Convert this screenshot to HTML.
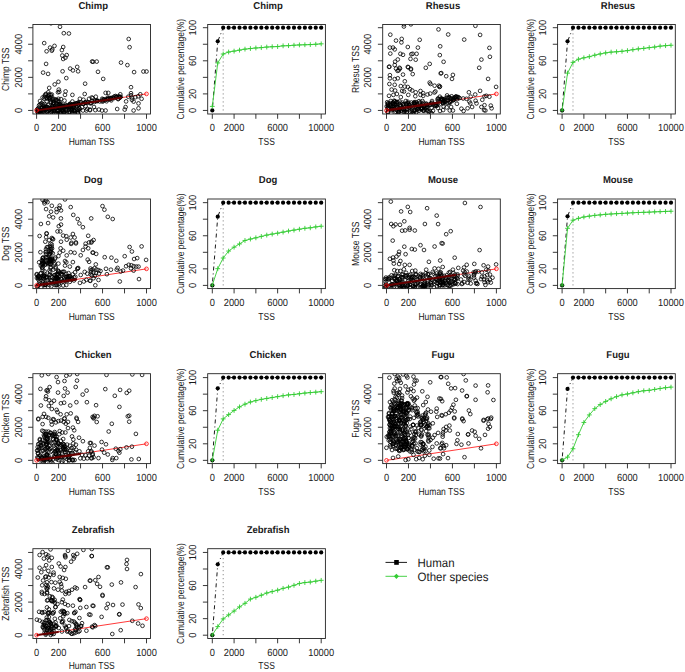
<!DOCTYPE html>
<html><head><meta charset="utf-8"><style>
html,body{margin:0;padding:0;background:#fff;width:685px;height:672px;overflow:hidden}
svg{display:block}
text{font-family:"Liberation Sans",sans-serif;fill:#1a1a1a;text-rendering:geometricPrecision}
</style></head><body>
<svg width="685" height="672" viewBox="0 0 685 672">
<rect width="685" height="672" fill="#fff"/>
<text x="0" y="0" transform="translate(93.20,8.70) scale(1,1.05)" font-size="9.5" text-anchor="middle" font-weight="bold">Chimp</text>
<clipPath id="cp0_0"><rect x="32.90" y="24.45" width="117.60" height="89.55"/></clipPath>
<line x1="36.60" y1="110.45" x2="146.50" y2="93.90" stroke="#f22" stroke-width="0.9"/>
<path clip-path="url(#cp0_0)" d="M52.85,23.30a1.85,1.85 0 1,0 -3.7,0a1.85,1.85 0 1,0 3.7,0M61.85,26.80a1.85,1.85 0 1,0 -3.7,0a1.85,1.85 0 1,0 3.7,0M65.65,33.20a1.85,1.85 0 1,0 -3.7,0a1.85,1.85 0 1,0 3.7,0M70.75,33.50a1.85,1.85 0 1,0 -3.7,0a1.85,1.85 0 1,0 3.7,0M46.05,43.10a1.85,1.85 0 1,0 -3.7,0a1.85,1.85 0 1,0 3.7,0M56.35,45.90a1.85,1.85 0 1,0 -3.7,0a1.85,1.85 0 1,0 3.7,0M51.95,47.60a1.85,1.85 0 1,0 -3.7,0a1.85,1.85 0 1,0 3.7,0M54.15,49.40a1.85,1.85 0 1,0 -3.7,0a1.85,1.85 0 1,0 3.7,0M53.65,50.70a1.85,1.85 0 1,0 -3.7,0a1.85,1.85 0 1,0 3.7,0M48.45,51.30a1.85,1.85 0 1,0 -3.7,0a1.85,1.85 0 1,0 3.7,0M65.05,47.00a1.85,1.85 0 1,0 -3.7,0a1.85,1.85 0 1,0 3.7,0M63.75,50.10a1.85,1.85 0 1,0 -3.7,0a1.85,1.85 0 1,0 3.7,0M64.15,55.50a1.85,1.85 0 1,0 -3.7,0a1.85,1.85 0 1,0 3.7,0M68.55,55.10a1.85,1.85 0 1,0 -3.7,0a1.85,1.85 0 1,0 3.7,0M67.25,57.70a1.85,1.85 0 1,0 -3.7,0a1.85,1.85 0 1,0 3.7,0M65.05,59.00a1.85,1.85 0 1,0 -3.7,0a1.85,1.85 0 1,0 3.7,0M47.95,63.90a1.85,1.85 0 1,0 -3.7,0a1.85,1.85 0 1,0 3.7,0M93.95,61.50a1.85,1.85 0 1,0 -3.7,0a1.85,1.85 0 1,0 3.7,0M130.55,39.00a1.85,1.85 0 1,0 -3.7,0a1.85,1.85 0 1,0 3.7,0M131.45,47.20a1.85,1.85 0 1,0 -3.7,0a1.85,1.85 0 1,0 3.7,0M94.95,61.80a1.85,1.85 0 1,0 -3.7,0a1.85,1.85 0 1,0 3.7,0M98.55,61.60a1.85,1.85 0 1,0 -3.7,0a1.85,1.85 0 1,0 3.7,0M122.85,62.60a1.85,1.85 0 1,0 -3.7,0a1.85,1.85 0 1,0 3.7,0M129.25,65.10a1.85,1.85 0 1,0 -3.7,0a1.85,1.85 0 1,0 3.7,0M44.95,72.60a1.85,1.85 0 1,0 -3.7,0a1.85,1.85 0 1,0 3.7,0M49.95,73.90a1.85,1.85 0 1,0 -3.7,0a1.85,1.85 0 1,0 3.7,0M64.45,71.30a1.85,1.85 0 1,0 -3.7,0a1.85,1.85 0 1,0 3.7,0M72.05,68.60a1.85,1.85 0 1,0 -3.7,0a1.85,1.85 0 1,0 3.7,0M74.75,70.40a1.85,1.85 0 1,0 -3.7,0a1.85,1.85 0 1,0 3.7,0M79.95,71.30a1.85,1.85 0 1,0 -3.7,0a1.85,1.85 0 1,0 3.7,0M79.05,66.90a1.85,1.85 0 1,0 -3.7,0a1.85,1.85 0 1,0 3.7,0M68.15,78.10a1.85,1.85 0 1,0 -3.7,0a1.85,1.85 0 1,0 3.7,0M60.25,81.80a1.85,1.85 0 1,0 -3.7,0a1.85,1.85 0 1,0 3.7,0M56.55,84.40a1.85,1.85 0 1,0 -3.7,0a1.85,1.85 0 1,0 3.7,0M86.95,83.70a1.85,1.85 0 1,0 -3.7,0a1.85,1.85 0 1,0 3.7,0M51.05,87.90a1.85,1.85 0 1,0 -3.7,0a1.85,1.85 0 1,0 3.7,0M60.65,89.60a1.85,1.85 0 1,0 -3.7,0a1.85,1.85 0 1,0 3.7,0M59.85,92.30a1.85,1.85 0 1,0 -3.7,0a1.85,1.85 0 1,0 3.7,0M61.15,91.80a1.85,1.85 0 1,0 -3.7,0a1.85,1.85 0 1,0 3.7,0M67.45,91.40a1.85,1.85 0 1,0 -3.7,0a1.85,1.85 0 1,0 3.7,0M66.85,94.90a1.85,1.85 0 1,0 -3.7,0a1.85,1.85 0 1,0 3.7,0M74.25,94.90a1.85,1.85 0 1,0 -3.7,0a1.85,1.85 0 1,0 3.7,0M86.55,94.00a1.85,1.85 0 1,0 -3.7,0a1.85,1.85 0 1,0 3.7,0M50.15,92.30a1.85,1.85 0 1,0 -3.7,0a1.85,1.85 0 1,0 3.7,0M53.65,94.50a1.85,1.85 0 1,0 -3.7,0a1.85,1.85 0 1,0 3.7,0M59.35,110.70a1.85,1.85 0 1,0 -3.7,0a1.85,1.85 0 1,0 3.7,0M63.75,110.70a1.85,1.85 0 1,0 -3.7,0a1.85,1.85 0 1,0 3.7,0M68.15,110.70a1.85,1.85 0 1,0 -3.7,0a1.85,1.85 0 1,0 3.7,0M73.35,110.70a1.85,1.85 0 1,0 -3.7,0a1.85,1.85 0 1,0 3.7,0M76.05,110.70a1.85,1.85 0 1,0 -3.7,0a1.85,1.85 0 1,0 3.7,0M84.85,110.50a1.85,1.85 0 1,0 -3.7,0a1.85,1.85 0 1,0 3.7,0M88.25,110.50a1.85,1.85 0 1,0 -3.7,0a1.85,1.85 0 1,0 3.7,0M91.85,110.20a1.85,1.85 0 1,0 -3.7,0a1.85,1.85 0 1,0 3.7,0M44.45,97.50a1.85,1.85 0 1,0 -3.7,0a1.85,1.85 0 1,0 3.7,0M41.85,101.00a1.85,1.85 0 1,0 -3.7,0a1.85,1.85 0 1,0 3.7,0M41.85,104.50a1.85,1.85 0 1,0 -3.7,0a1.85,1.85 0 1,0 3.7,0M44.95,104.50a1.85,1.85 0 1,0 -3.7,0a1.85,1.85 0 1,0 3.7,0M60.25,98.80a1.85,1.85 0 1,0 -3.7,0a1.85,1.85 0 1,0 3.7,0M62.85,99.10a1.85,1.85 0 1,0 -3.7,0a1.85,1.85 0 1,0 3.7,0M66.35,100.60a1.85,1.85 0 1,0 -3.7,0a1.85,1.85 0 1,0 3.7,0M61.15,101.90a1.85,1.85 0 1,0 -3.7,0a1.85,1.85 0 1,0 3.7,0M62.85,103.70a1.85,1.85 0 1,0 -3.7,0a1.85,1.85 0 1,0 3.7,0M55.45,98.80a1.85,1.85 0 1,0 -3.7,0a1.85,1.85 0 1,0 3.7,0M54.95,103.70a1.85,1.85 0 1,0 -3.7,0a1.85,1.85 0 1,0 3.7,0M74.25,101.50a1.85,1.85 0 1,0 -3.7,0a1.85,1.85 0 1,0 3.7,0M81.75,98.80a1.85,1.85 0 1,0 -3.7,0a1.85,1.85 0 1,0 3.7,0M85.25,99.70a1.85,1.85 0 1,0 -3.7,0a1.85,1.85 0 1,0 3.7,0M90.95,98.80a1.85,1.85 0 1,0 -3.7,0a1.85,1.85 0 1,0 3.7,0M93.55,97.50a1.85,1.85 0 1,0 -3.7,0a1.85,1.85 0 1,0 3.7,0M83.85,107.20a1.85,1.85 0 1,0 -3.7,0a1.85,1.85 0 1,0 3.7,0M87.45,106.30a1.85,1.85 0 1,0 -3.7,0a1.85,1.85 0 1,0 3.7,0M89.15,108.90a1.85,1.85 0 1,0 -3.7,0a1.85,1.85 0 1,0 3.7,0M99.85,71.80a1.85,1.85 0 1,0 -3.7,0a1.85,1.85 0 1,0 3.7,0M135.95,72.10a1.85,1.85 0 1,0 -3.7,0a1.85,1.85 0 1,0 3.7,0M145.25,71.50a1.85,1.85 0 1,0 -3.7,0a1.85,1.85 0 1,0 3.7,0M148.35,71.50a1.85,1.85 0 1,0 -3.7,0a1.85,1.85 0 1,0 3.7,0M105.05,78.90a1.85,1.85 0 1,0 -3.7,0a1.85,1.85 0 1,0 3.7,0M132.85,87.20a1.85,1.85 0 1,0 -3.7,0a1.85,1.85 0 1,0 3.7,0M107.45,92.90a1.85,1.85 0 1,0 -3.7,0a1.85,1.85 0 1,0 3.7,0M110.15,92.90a1.85,1.85 0 1,0 -3.7,0a1.85,1.85 0 1,0 3.7,0M122.15,94.30a1.85,1.85 0 1,0 -3.7,0a1.85,1.85 0 1,0 3.7,0M132.85,93.20a1.85,1.85 0 1,0 -3.7,0a1.85,1.85 0 1,0 3.7,0M132.85,95.20a1.85,1.85 0 1,0 -3.7,0a1.85,1.85 0 1,0 3.7,0M142.15,94.30a1.85,1.85 0 1,0 -3.7,0a1.85,1.85 0 1,0 3.7,0M127.95,101.40a1.85,1.85 0 1,0 -3.7,0a1.85,1.85 0 1,0 3.7,0M135.45,101.60a1.85,1.85 0 1,0 -3.7,0a1.85,1.85 0 1,0 3.7,0M140.35,103.40a1.85,1.85 0 1,0 -3.7,0a1.85,1.85 0 1,0 3.7,0M143.45,98.80a1.85,1.85 0 1,0 -3.7,0a1.85,1.85 0 1,0 3.7,0M140.35,108.30a1.85,1.85 0 1,0 -3.7,0a1.85,1.85 0 1,0 3.7,0M135.45,110.50a1.85,1.85 0 1,0 -3.7,0a1.85,1.85 0 1,0 3.7,0M119.05,109.00a1.85,1.85 0 1,0 -3.7,0a1.85,1.85 0 1,0 3.7,0M127.45,107.10a1.85,1.85 0 1,0 -3.7,0a1.85,1.85 0 1,0 3.7,0M126.55,109.60a1.85,1.85 0 1,0 -3.7,0a1.85,1.85 0 1,0 3.7,0M95.85,107.00a1.85,1.85 0 1,0 -3.7,0a1.85,1.85 0 1,0 3.7,0M97.15,110.10a1.85,1.85 0 1,0 -3.7,0a1.85,1.85 0 1,0 3.7,0M100.75,109.60a1.85,1.85 0 1,0 -3.7,0a1.85,1.85 0 1,0 3.7,0M103.85,110.50a1.85,1.85 0 1,0 -3.7,0a1.85,1.85 0 1,0 3.7,0M107.45,110.50a1.85,1.85 0 1,0 -3.7,0a1.85,1.85 0 1,0 3.7,0M91.85,109.60a1.85,1.85 0 1,0 -3.7,0a1.85,1.85 0 1,0 3.7,0M130.15,96.70a1.85,1.85 0 1,0 -3.7,0a1.85,1.85 0 1,0 3.7,0M133.75,97.60a1.85,1.85 0 1,0 -3.7,0a1.85,1.85 0 1,0 3.7,0M137.25,97.20a1.85,1.85 0 1,0 -3.7,0a1.85,1.85 0 1,0 3.7,0M139.95,96.30a1.85,1.85 0 1,0 -3.7,0a1.85,1.85 0 1,0 3.7,0M97.65,96.70a1.85,1.85 0 1,0 -3.7,0a1.85,1.85 0 1,0 3.7,0M94.55,98.10a1.85,1.85 0 1,0 -3.7,0a1.85,1.85 0 1,0 3.7,0M133.75,99.80a1.85,1.85 0 1,0 -3.7,0a1.85,1.85 0 1,0 3.7,0M56.41,103.48a1.85,1.85 0 1,0 -3.7,0a1.85,1.85 0 1,0 3.7,0M57.41,99.38a1.85,1.85 0 1,0 -3.7,0a1.85,1.85 0 1,0 3.7,0M47.83,93.92a1.85,1.85 0 1,0 -3.7,0a1.85,1.85 0 1,0 3.7,0M47.47,107.27a1.85,1.85 0 1,0 -3.7,0a1.85,1.85 0 1,0 3.7,0M43.26,104.66a1.85,1.85 0 1,0 -3.7,0a1.85,1.85 0 1,0 3.7,0M45.68,106.19a1.85,1.85 0 1,0 -3.7,0a1.85,1.85 0 1,0 3.7,0M43.73,108.34a1.85,1.85 0 1,0 -3.7,0a1.85,1.85 0 1,0 3.7,0M50.85,94.61a1.85,1.85 0 1,0 -3.7,0a1.85,1.85 0 1,0 3.7,0M61.15,104.11a1.85,1.85 0 1,0 -3.7,0a1.85,1.85 0 1,0 3.7,0M43.36,103.21a1.85,1.85 0 1,0 -3.7,0a1.85,1.85 0 1,0 3.7,0M58.69,104.23a1.85,1.85 0 1,0 -3.7,0a1.85,1.85 0 1,0 3.7,0M57.11,108.38a1.85,1.85 0 1,0 -3.7,0a1.85,1.85 0 1,0 3.7,0M57.93,105.56a1.85,1.85 0 1,0 -3.7,0a1.85,1.85 0 1,0 3.7,0M52.52,102.87a1.85,1.85 0 1,0 -3.7,0a1.85,1.85 0 1,0 3.7,0M48.51,106.87a1.85,1.85 0 1,0 -3.7,0a1.85,1.85 0 1,0 3.7,0M63.71,107.91a1.85,1.85 0 1,0 -3.7,0a1.85,1.85 0 1,0 3.7,0M40.90,105.34a1.85,1.85 0 1,0 -3.7,0a1.85,1.85 0 1,0 3.7,0M47.85,108.40a1.85,1.85 0 1,0 -3.7,0a1.85,1.85 0 1,0 3.7,0M57.23,108.07a1.85,1.85 0 1,0 -3.7,0a1.85,1.85 0 1,0 3.7,0M54.36,99.37a1.85,1.85 0 1,0 -3.7,0a1.85,1.85 0 1,0 3.7,0M62.41,104.92a1.85,1.85 0 1,0 -3.7,0a1.85,1.85 0 1,0 3.7,0M46.17,107.84a1.85,1.85 0 1,0 -3.7,0a1.85,1.85 0 1,0 3.7,0M55.79,101.00a1.85,1.85 0 1,0 -3.7,0a1.85,1.85 0 1,0 3.7,0M52.86,101.88a1.85,1.85 0 1,0 -3.7,0a1.85,1.85 0 1,0 3.7,0M53.15,107.87a1.85,1.85 0 1,0 -3.7,0a1.85,1.85 0 1,0 3.7,0M46.59,95.55a1.85,1.85 0 1,0 -3.7,0a1.85,1.85 0 1,0 3.7,0M52.66,94.99a1.85,1.85 0 1,0 -3.7,0a1.85,1.85 0 1,0 3.7,0M57.53,100.08a1.85,1.85 0 1,0 -3.7,0a1.85,1.85 0 1,0 3.7,0M50.90,97.59a1.85,1.85 0 1,0 -3.7,0a1.85,1.85 0 1,0 3.7,0M48.46,97.74a1.85,1.85 0 1,0 -3.7,0a1.85,1.85 0 1,0 3.7,0M58.72,100.17a1.85,1.85 0 1,0 -3.7,0a1.85,1.85 0 1,0 3.7,0M45.94,98.72a1.85,1.85 0 1,0 -3.7,0a1.85,1.85 0 1,0 3.7,0M65.73,107.76a1.85,1.85 0 1,0 -3.7,0a1.85,1.85 0 1,0 3.7,0M60.52,104.64a1.85,1.85 0 1,0 -3.7,0a1.85,1.85 0 1,0 3.7,0M46.52,97.16a1.85,1.85 0 1,0 -3.7,0a1.85,1.85 0 1,0 3.7,0M51.20,98.01a1.85,1.85 0 1,0 -3.7,0a1.85,1.85 0 1,0 3.7,0M54.77,102.61a1.85,1.85 0 1,0 -3.7,0a1.85,1.85 0 1,0 3.7,0M49.91,96.33a1.85,1.85 0 1,0 -3.7,0a1.85,1.85 0 1,0 3.7,0M53.40,97.38a1.85,1.85 0 1,0 -3.7,0a1.85,1.85 0 1,0 3.7,0M51.80,99.45a1.85,1.85 0 1,0 -3.7,0a1.85,1.85 0 1,0 3.7,0M47.32,94.65a1.85,1.85 0 1,0 -3.7,0a1.85,1.85 0 1,0 3.7,0M48.22,106.93a1.85,1.85 0 1,0 -3.7,0a1.85,1.85 0 1,0 3.7,0M57.37,107.48a1.85,1.85 0 1,0 -3.7,0a1.85,1.85 0 1,0 3.7,0M44.01,108.05a1.85,1.85 0 1,0 -3.7,0a1.85,1.85 0 1,0 3.7,0M55.52,102.67a1.85,1.85 0 1,0 -3.7,0a1.85,1.85 0 1,0 3.7,0M61.73,104.00a1.85,1.85 0 1,0 -3.7,0a1.85,1.85 0 1,0 3.7,0M51.94,98.24a1.85,1.85 0 1,0 -3.7,0a1.85,1.85 0 1,0 3.7,0M50.19,104.95a1.85,1.85 0 1,0 -3.7,0a1.85,1.85 0 1,0 3.7,0M48.61,101.38a1.85,1.85 0 1,0 -3.7,0a1.85,1.85 0 1,0 3.7,0M46.25,103.87a1.85,1.85 0 1,0 -3.7,0a1.85,1.85 0 1,0 3.7,0M49.55,107.59a1.85,1.85 0 1,0 -3.7,0a1.85,1.85 0 1,0 3.7,0M51.07,94.72a1.85,1.85 0 1,0 -3.7,0a1.85,1.85 0 1,0 3.7,0M54.19,106.18a1.85,1.85 0 1,0 -3.7,0a1.85,1.85 0 1,0 3.7,0M49.46,98.91a1.85,1.85 0 1,0 -3.7,0a1.85,1.85 0 1,0 3.7,0M59.70,100.76a1.85,1.85 0 1,0 -3.7,0a1.85,1.85 0 1,0 3.7,0M72.14,106.91a1.85,1.85 0 1,0 -3.7,0a1.85,1.85 0 1,0 3.7,0M60.94,110.40a1.85,1.85 0 1,0 -3.7,0a1.85,1.85 0 1,0 3.7,0M56.30,110.66a1.85,1.85 0 1,0 -3.7,0a1.85,1.85 0 1,0 3.7,0M62.71,113.24a1.85,1.85 0 1,0 -3.7,0a1.85,1.85 0 1,0 3.7,0M64.84,110.07a1.85,1.85 0 1,0 -3.7,0a1.85,1.85 0 1,0 3.7,0M65.48,112.58a1.85,1.85 0 1,0 -3.7,0a1.85,1.85 0 1,0 3.7,0M55.62,110.53a1.85,1.85 0 1,0 -3.7,0a1.85,1.85 0 1,0 3.7,0M54.03,110.55a1.85,1.85 0 1,0 -3.7,0a1.85,1.85 0 1,0 3.7,0M41.83,112.32a1.85,1.85 0 1,0 -3.7,0a1.85,1.85 0 1,0 3.7,0M70.74,106.72a1.85,1.85 0 1,0 -3.7,0a1.85,1.85 0 1,0 3.7,0M61.00,107.52a1.85,1.85 0 1,0 -3.7,0a1.85,1.85 0 1,0 3.7,0M68.22,109.55a1.85,1.85 0 1,0 -3.7,0a1.85,1.85 0 1,0 3.7,0M40.01,112.90a1.85,1.85 0 1,0 -3.7,0a1.85,1.85 0 1,0 3.7,0M39.57,110.65a1.85,1.85 0 1,0 -3.7,0a1.85,1.85 0 1,0 3.7,0M40.50,111.04a1.85,1.85 0 1,0 -3.7,0a1.85,1.85 0 1,0 3.7,0M79.63,112.93a1.85,1.85 0 1,0 -3.7,0a1.85,1.85 0 1,0 3.7,0M76.26,113.06a1.85,1.85 0 1,0 -3.7,0a1.85,1.85 0 1,0 3.7,0M79.64,109.21a1.85,1.85 0 1,0 -3.7,0a1.85,1.85 0 1,0 3.7,0M56.19,113.27a1.85,1.85 0 1,0 -3.7,0a1.85,1.85 0 1,0 3.7,0M80.23,113.22a1.85,1.85 0 1,0 -3.7,0a1.85,1.85 0 1,0 3.7,0M51.50,109.64a1.85,1.85 0 1,0 -3.7,0a1.85,1.85 0 1,0 3.7,0M64.37,111.58a1.85,1.85 0 1,0 -3.7,0a1.85,1.85 0 1,0 3.7,0M59.87,113.27a1.85,1.85 0 1,0 -3.7,0a1.85,1.85 0 1,0 3.7,0M39.44,112.08a1.85,1.85 0 1,0 -3.7,0a1.85,1.85 0 1,0 3.7,0M61.49,107.46a1.85,1.85 0 1,0 -3.7,0a1.85,1.85 0 1,0 3.7,0M58.49,113.08a1.85,1.85 0 1,0 -3.7,0a1.85,1.85 0 1,0 3.7,0M52.19,113.03a1.85,1.85 0 1,0 -3.7,0a1.85,1.85 0 1,0 3.7,0M80.68,110.02a1.85,1.85 0 1,0 -3.7,0a1.85,1.85 0 1,0 3.7,0M75.69,110.16a1.85,1.85 0 1,0 -3.7,0a1.85,1.85 0 1,0 3.7,0M73.10,110.30a1.85,1.85 0 1,0 -3.7,0a1.85,1.85 0 1,0 3.7,0M63.51,107.34a1.85,1.85 0 1,0 -3.7,0a1.85,1.85 0 1,0 3.7,0M71.31,106.83a1.85,1.85 0 1,0 -3.7,0a1.85,1.85 0 1,0 3.7,0M44.26,111.07a1.85,1.85 0 1,0 -3.7,0a1.85,1.85 0 1,0 3.7,0M75.60,107.00a1.85,1.85 0 1,0 -3.7,0a1.85,1.85 0 1,0 3.7,0M71.85,106.49a1.85,1.85 0 1,0 -3.7,0a1.85,1.85 0 1,0 3.7,0M71.93,108.46a1.85,1.85 0 1,0 -3.7,0a1.85,1.85 0 1,0 3.7,0M39.98,112.32a1.85,1.85 0 1,0 -3.7,0a1.85,1.85 0 1,0 3.7,0M60.79,107.66a1.85,1.85 0 1,0 -3.7,0a1.85,1.85 0 1,0 3.7,0M62.10,113.06a1.85,1.85 0 1,0 -3.7,0a1.85,1.85 0 1,0 3.7,0M64.11,108.25a1.85,1.85 0 1,0 -3.7,0a1.85,1.85 0 1,0 3.7,0M75.57,106.45a1.85,1.85 0 1,0 -3.7,0a1.85,1.85 0 1,0 3.7,0M60.32,110.99a1.85,1.85 0 1,0 -3.7,0a1.85,1.85 0 1,0 3.7,0M68.77,107.94a1.85,1.85 0 1,0 -3.7,0a1.85,1.85 0 1,0 3.7,0M69.35,106.92a1.85,1.85 0 1,0 -3.7,0a1.85,1.85 0 1,0 3.7,0M79.43,113.11a1.85,1.85 0 1,0 -3.7,0a1.85,1.85 0 1,0 3.7,0M53.55,110.90a1.85,1.85 0 1,0 -3.7,0a1.85,1.85 0 1,0 3.7,0M45.36,110.03a1.85,1.85 0 1,0 -3.7,0a1.85,1.85 0 1,0 3.7,0M79.30,109.28a1.85,1.85 0 1,0 -3.7,0a1.85,1.85 0 1,0 3.7,0M74.68,109.30a1.85,1.85 0 1,0 -3.7,0a1.85,1.85 0 1,0 3.7,0M70.80,111.94a1.85,1.85 0 1,0 -3.7,0a1.85,1.85 0 1,0 3.7,0M65.72,112.28a1.85,1.85 0 1,0 -3.7,0a1.85,1.85 0 1,0 3.7,0M58.21,113.47a1.85,1.85 0 1,0 -3.7,0a1.85,1.85 0 1,0 3.7,0M44.90,112.13a1.85,1.85 0 1,0 -3.7,0a1.85,1.85 0 1,0 3.7,0M79.71,111.28a1.85,1.85 0 1,0 -3.7,0a1.85,1.85 0 1,0 3.7,0M46.44,112.63a1.85,1.85 0 1,0 -3.7,0a1.85,1.85 0 1,0 3.7,0M51.31,109.90a1.85,1.85 0 1,0 -3.7,0a1.85,1.85 0 1,0 3.7,0M48.37,111.46a1.85,1.85 0 1,0 -3.7,0a1.85,1.85 0 1,0 3.7,0M53.62,112.32a1.85,1.85 0 1,0 -3.7,0a1.85,1.85 0 1,0 3.7,0M62.95,112.55a1.85,1.85 0 1,0 -3.7,0a1.85,1.85 0 1,0 3.7,0M41.05,111.88a1.85,1.85 0 1,0 -3.7,0a1.85,1.85 0 1,0 3.7,0M42.99,110.15a1.85,1.85 0 1,0 -3.7,0a1.85,1.85 0 1,0 3.7,0M76.85,104.86a1.85,1.85 0 1,0 -3.7,0a1.85,1.85 0 1,0 3.7,0M50.31,110.61a1.85,1.85 0 1,0 -3.7,0a1.85,1.85 0 1,0 3.7,0M74.14,113.15a1.85,1.85 0 1,0 -3.7,0a1.85,1.85 0 1,0 3.7,0M76.97,109.66a1.85,1.85 0 1,0 -3.7,0a1.85,1.85 0 1,0 3.7,0M49.68,110.55a1.85,1.85 0 1,0 -3.7,0a1.85,1.85 0 1,0 3.7,0M56.00,109.89a1.85,1.85 0 1,0 -3.7,0a1.85,1.85 0 1,0 3.7,0M53.17,112.28a1.85,1.85 0 1,0 -3.7,0a1.85,1.85 0 1,0 3.7,0M45.29,111.35a1.85,1.85 0 1,0 -3.7,0a1.85,1.85 0 1,0 3.7,0M70.95,110.23a1.85,1.85 0 1,0 -3.7,0a1.85,1.85 0 1,0 3.7,0M48.99,111.83a1.85,1.85 0 1,0 -3.7,0a1.85,1.85 0 1,0 3.7,0M65.21,111.63a1.85,1.85 0 1,0 -3.7,0a1.85,1.85 0 1,0 3.7,0M65.73,107.85a1.85,1.85 0 1,0 -3.7,0a1.85,1.85 0 1,0 3.7,0M40.09,112.90a1.85,1.85 0 1,0 -3.7,0a1.85,1.85 0 1,0 3.7,0M74.27,108.99a1.85,1.85 0 1,0 -3.7,0a1.85,1.85 0 1,0 3.7,0M61.15,112.60a1.85,1.85 0 1,0 -3.7,0a1.85,1.85 0 1,0 3.7,0M76.09,110.96a1.85,1.85 0 1,0 -3.7,0a1.85,1.85 0 1,0 3.7,0M80.74,104.35a1.85,1.85 0 1,0 -3.7,0a1.85,1.85 0 1,0 3.7,0M59.07,111.19a1.85,1.85 0 1,0 -3.7,0a1.85,1.85 0 1,0 3.7,0M71.83,112.47a1.85,1.85 0 1,0 -3.7,0a1.85,1.85 0 1,0 3.7,0M73.68,109.61a1.85,1.85 0 1,0 -3.7,0a1.85,1.85 0 1,0 3.7,0M68.53,112.32a1.85,1.85 0 1,0 -3.7,0a1.85,1.85 0 1,0 3.7,0M67.42,106.46a1.85,1.85 0 1,0 -3.7,0a1.85,1.85 0 1,0 3.7,0M81.49,108.72a1.85,1.85 0 1,0 -3.7,0a1.85,1.85 0 1,0 3.7,0M81.03,108.26a1.85,1.85 0 1,0 -3.7,0a1.85,1.85 0 1,0 3.7,0M75.35,106.76a1.85,1.85 0 1,0 -3.7,0a1.85,1.85 0 1,0 3.7,0M74.08,113.09a1.85,1.85 0 1,0 -3.7,0a1.85,1.85 0 1,0 3.7,0M74.97,106.98a1.85,1.85 0 1,0 -3.7,0a1.85,1.85 0 1,0 3.7,0M66.74,112.02a1.85,1.85 0 1,0 -3.7,0a1.85,1.85 0 1,0 3.7,0M61.97,108.87a1.85,1.85 0 1,0 -3.7,0a1.85,1.85 0 1,0 3.7,0M84.71,103.72a1.85,1.85 0 1,0 -3.7,0a1.85,1.85 0 1,0 3.7,0M54.15,108.48a1.85,1.85 0 1,0 -3.7,0a1.85,1.85 0 1,0 3.7,0M52.52,108.12a1.85,1.85 0 1,0 -3.7,0a1.85,1.85 0 1,0 3.7,0M71.99,103.82a1.85,1.85 0 1,0 -3.7,0a1.85,1.85 0 1,0 3.7,0M80.29,104.61a1.85,1.85 0 1,0 -3.7,0a1.85,1.85 0 1,0 3.7,0M62.99,106.29a1.85,1.85 0 1,0 -3.7,0a1.85,1.85 0 1,0 3.7,0M45.25,108.60a1.85,1.85 0 1,0 -3.7,0a1.85,1.85 0 1,0 3.7,0M92.22,103.34a1.85,1.85 0 1,0 -3.7,0a1.85,1.85 0 1,0 3.7,0M89.69,102.28a1.85,1.85 0 1,0 -3.7,0a1.85,1.85 0 1,0 3.7,0M65.04,106.95a1.85,1.85 0 1,0 -3.7,0a1.85,1.85 0 1,0 3.7,0M105.88,99.87a1.85,1.85 0 1,0 -3.7,0a1.85,1.85 0 1,0 3.7,0M113.16,100.38a1.85,1.85 0 1,0 -3.7,0a1.85,1.85 0 1,0 3.7,0M54.58,109.30a1.85,1.85 0 1,0 -3.7,0a1.85,1.85 0 1,0 3.7,0M66.16,106.58a1.85,1.85 0 1,0 -3.7,0a1.85,1.85 0 1,0 3.7,0M109.64,99.17a1.85,1.85 0 1,0 -3.7,0a1.85,1.85 0 1,0 3.7,0M86.63,102.39a1.85,1.85 0 1,0 -3.7,0a1.85,1.85 0 1,0 3.7,0M109.50,98.68a1.85,1.85 0 1,0 -3.7,0a1.85,1.85 0 1,0 3.7,0M104.34,101.61a1.85,1.85 0 1,0 -3.7,0a1.85,1.85 0 1,0 3.7,0M93.18,103.09a1.85,1.85 0 1,0 -3.7,0a1.85,1.85 0 1,0 3.7,0M62.77,105.66a1.85,1.85 0 1,0 -3.7,0a1.85,1.85 0 1,0 3.7,0M71.27,104.73a1.85,1.85 0 1,0 -3.7,0a1.85,1.85 0 1,0 3.7,0M121.77,97.47a1.85,1.85 0 1,0 -3.7,0a1.85,1.85 0 1,0 3.7,0M121.68,97.37a1.85,1.85 0 1,0 -3.7,0a1.85,1.85 0 1,0 3.7,0M92.64,102.83a1.85,1.85 0 1,0 -3.7,0a1.85,1.85 0 1,0 3.7,0M55.79,108.35a1.85,1.85 0 1,0 -3.7,0a1.85,1.85 0 1,0 3.7,0M116.22,96.44a1.85,1.85 0 1,0 -3.7,0a1.85,1.85 0 1,0 3.7,0M62.22,106.74a1.85,1.85 0 1,0 -3.7,0a1.85,1.85 0 1,0 3.7,0M73.33,105.04a1.85,1.85 0 1,0 -3.7,0a1.85,1.85 0 1,0 3.7,0M40.06,108.10a1.85,1.85 0 1,0 -3.7,0a1.85,1.85 0 1,0 3.7,0M105.84,99.32a1.85,1.85 0 1,0 -3.7,0a1.85,1.85 0 1,0 3.7,0M46.83,108.73a1.85,1.85 0 1,0 -3.7,0a1.85,1.85 0 1,0 3.7,0M44.00,110.37a1.85,1.85 0 1,0 -3.7,0a1.85,1.85 0 1,0 3.7,0M65.44,105.90a1.85,1.85 0 1,0 -3.7,0a1.85,1.85 0 1,0 3.7,0M118.00,96.94a1.85,1.85 0 1,0 -3.7,0a1.85,1.85 0 1,0 3.7,0M114.74,97.54a1.85,1.85 0 1,0 -3.7,0a1.85,1.85 0 1,0 3.7,0M42.14,111.18a1.85,1.85 0 1,0 -3.7,0a1.85,1.85 0 1,0 3.7,0M59.13,106.52a1.85,1.85 0 1,0 -3.7,0a1.85,1.85 0 1,0 3.7,0M82.66,102.47a1.85,1.85 0 1,0 -3.7,0a1.85,1.85 0 1,0 3.7,0M99.55,100.93a1.85,1.85 0 1,0 -3.7,0a1.85,1.85 0 1,0 3.7,0M40.93,110.93a1.85,1.85 0 1,0 -3.7,0a1.85,1.85 0 1,0 3.7,0M75.90,103.94a1.85,1.85 0 1,0 -3.7,0a1.85,1.85 0 1,0 3.7,0M71.36,106.61a1.85,1.85 0 1,0 -3.7,0a1.85,1.85 0 1,0 3.7,0M119.01,96.92a1.85,1.85 0 1,0 -3.7,0a1.85,1.85 0 1,0 3.7,0M116.02,98.08a1.85,1.85 0 1,0 -3.7,0a1.85,1.85 0 1,0 3.7,0M57.15,108.27a1.85,1.85 0 1,0 -3.7,0a1.85,1.85 0 1,0 3.7,0M120.12,98.80a1.85,1.85 0 1,0 -3.7,0a1.85,1.85 0 1,0 3.7,0M107.44,99.91a1.85,1.85 0 1,0 -3.7,0a1.85,1.85 0 1,0 3.7,0M64.67,106.45a1.85,1.85 0 1,0 -3.7,0a1.85,1.85 0 1,0 3.7,0M74.61,105.09a1.85,1.85 0 1,0 -3.7,0a1.85,1.85 0 1,0 3.7,0M122.61,96.73a1.85,1.85 0 1,0 -3.7,0a1.85,1.85 0 1,0 3.7,0M120.48,96.44a1.85,1.85 0 1,0 -3.7,0a1.85,1.85 0 1,0 3.7,0M120.82,96.80a1.85,1.85 0 1,0 -3.7,0a1.85,1.85 0 1,0 3.7,0M119.96,99.12a1.85,1.85 0 1,0 -3.7,0a1.85,1.85 0 1,0 3.7,0M81.18,102.20a1.85,1.85 0 1,0 -3.7,0a1.85,1.85 0 1,0 3.7,0M117.43,96.00a1.85,1.85 0 1,0 -3.7,0a1.85,1.85 0 1,0 3.7,0M71.14,105.30a1.85,1.85 0 1,0 -3.7,0a1.85,1.85 0 1,0 3.7,0M78.21,103.54a1.85,1.85 0 1,0 -3.7,0a1.85,1.85 0 1,0 3.7,0M112.95,99.03a1.85,1.85 0 1,0 -3.7,0a1.85,1.85 0 1,0 3.7,0M109.60,97.56a1.85,1.85 0 1,0 -3.7,0a1.85,1.85 0 1,0 3.7,0M69.16,106.54a1.85,1.85 0 1,0 -3.7,0a1.85,1.85 0 1,0 3.7,0M108.39,101.27a1.85,1.85 0 1,0 -3.7,0a1.85,1.85 0 1,0 3.7,0M52.56,108.25a1.85,1.85 0 1,0 -3.7,0a1.85,1.85 0 1,0 3.7,0M68.49,105.71a1.85,1.85 0 1,0 -3.7,0a1.85,1.85 0 1,0 3.7,0M77.77,103.31a1.85,1.85 0 1,0 -3.7,0a1.85,1.85 0 1,0 3.7,0M67.70,105.69a1.85,1.85 0 1,0 -3.7,0a1.85,1.85 0 1,0 3.7,0M89.04,102.84a1.85,1.85 0 1,0 -3.7,0a1.85,1.85 0 1,0 3.7,0M96.51,101.93a1.85,1.85 0 1,0 -3.7,0a1.85,1.85 0 1,0 3.7,0M79.56,102.96a1.85,1.85 0 1,0 -3.7,0a1.85,1.85 0 1,0 3.7,0M104.73,99.46a1.85,1.85 0 1,0 -3.7,0a1.85,1.85 0 1,0 3.7,0M88.05,102.00a1.85,1.85 0 1,0 -3.7,0a1.85,1.85 0 1,0 3.7,0M47.95,109.64a1.85,1.85 0 1,0 -3.7,0a1.85,1.85 0 1,0 3.7,0M42.00,111.19a1.85,1.85 0 1,0 -3.7,0a1.85,1.85 0 1,0 3.7,0M113.20,98.28a1.85,1.85 0 1,0 -3.7,0a1.85,1.85 0 1,0 3.7,0M76.10,104.22a1.85,1.85 0 1,0 -3.7,0a1.85,1.85 0 1,0 3.7,0M80.52,103.99a1.85,1.85 0 1,0 -3.7,0a1.85,1.85 0 1,0 3.7,0M111.64,97.98a1.85,1.85 0 1,0 -3.7,0a1.85,1.85 0 1,0 3.7,0M111.26,99.45a1.85,1.85 0 1,0 -3.7,0a1.85,1.85 0 1,0 3.7,0M54.00,107.16a1.85,1.85 0 1,0 -3.7,0a1.85,1.85 0 1,0 3.7,0M101.58,101.46a1.85,1.85 0 1,0 -3.7,0a1.85,1.85 0 1,0 3.7,0M93.61,101.05a1.85,1.85 0 1,0 -3.7,0a1.85,1.85 0 1,0 3.7,0M104.06,98.70a1.85,1.85 0 1,0 -3.7,0a1.85,1.85 0 1,0 3.7,0M99.02,100.68a1.85,1.85 0 1,0 -3.7,0a1.85,1.85 0 1,0 3.7,0M110.28,98.67a1.85,1.85 0 1,0 -3.7,0a1.85,1.85 0 1,0 3.7,0M85.53,103.85a1.85,1.85 0 1,0 -3.7,0a1.85,1.85 0 1,0 3.7,0M71.28,104.84a1.85,1.85 0 1,0 -3.7,0a1.85,1.85 0 1,0 3.7,0M56.93,105.97a1.85,1.85 0 1,0 -3.7,0a1.85,1.85 0 1,0 3.7,0M105.12,100.89a1.85,1.85 0 1,0 -3.7,0a1.85,1.85 0 1,0 3.7,0M96.96,100.54a1.85,1.85 0 1,0 -3.7,0a1.85,1.85 0 1,0 3.7,0M87.08,102.71a1.85,1.85 0 1,0 -3.7,0a1.85,1.85 0 1,0 3.7,0M117.94,97.13a1.85,1.85 0 1,0 -3.7,0a1.85,1.85 0 1,0 3.7,0M72.18,103.89a1.85,1.85 0 1,0 -3.7,0a1.85,1.85 0 1,0 3.7,0M78.15,104.28a1.85,1.85 0 1,0 -3.7,0a1.85,1.85 0 1,0 3.7,0M40.55,109.47a1.85,1.85 0 1,0 -3.7,0a1.85,1.85 0 1,0 3.7,0M108.84,99.21a1.85,1.85 0 1,0 -3.7,0a1.85,1.85 0 1,0 3.7,0M70.91,106.76a1.85,1.85 0 1,0 -3.7,0a1.85,1.85 0 1,0 3.7,0M79.90,102.77a1.85,1.85 0 1,0 -3.7,0a1.85,1.85 0 1,0 3.7,0M45.87,108.16a1.85,1.85 0 1,0 -3.7,0a1.85,1.85 0 1,0 3.7,0M112.98,98.01a1.85,1.85 0 1,0 -3.7,0a1.85,1.85 0 1,0 3.7,0M64.52,106.22a1.85,1.85 0 1,0 -3.7,0a1.85,1.85 0 1,0 3.7,0M49.30,106.94a1.85,1.85 0 1,0 -3.7,0a1.85,1.85 0 1,0 3.7,0M71.05,105.09a1.85,1.85 0 1,0 -3.7,0a1.85,1.85 0 1,0 3.7,0M67.50,104.71a1.85,1.85 0 1,0 -3.7,0a1.85,1.85 0 1,0 3.7,0M98.65,101.09a1.85,1.85 0 1,0 -3.7,0a1.85,1.85 0 1,0 3.7,0M98.80,100.78a1.85,1.85 0 1,0 -3.7,0a1.85,1.85 0 1,0 3.7,0M74.70,104.50a1.85,1.85 0 1,0 -3.7,0a1.85,1.85 0 1,0 3.7,0M52.90,108.85a1.85,1.85 0 1,0 -3.7,0a1.85,1.85 0 1,0 3.7,0M121.88,97.37a1.85,1.85 0 1,0 -3.7,0a1.85,1.85 0 1,0 3.7,0M80.13,104.61a1.85,1.85 0 1,0 -3.7,0a1.85,1.85 0 1,0 3.7,0M39.69,109.58a1.85,1.85 0 1,0 -3.7,0a1.85,1.85 0 1,0 3.7,0M38.93,109.47a1.85,1.85 0 1,0 -3.7,0a1.85,1.85 0 1,0 3.7,0" fill="none" stroke="#000" stroke-width="0.8"/>
<line x1="37.50" y1="110.31" x2="121.00" y2="97.74" stroke="#660000" stroke-width="1.8" stroke-linecap="round"/>
<circle cx="36.60" cy="110.45" r="1.85" fill="none" stroke="#f00" stroke-width="0.8"/>
<circle cx="146.50" cy="93.90" r="1.85" fill="none" stroke="#f00" stroke-width="0.8"/>
<rect x="32.90" y="24.45" width="117.60" height="89.55" fill="none" stroke="#222" stroke-width="0.9"/>
<line x1="36.60" y1="114.00" x2="36.60" y2="118.80" stroke="#222" stroke-width="0.9"/>
<text x="0" y="0" transform="translate(36.60,130.90) scale(1,1.1)" font-size="9.3" text-anchor="middle" font-weight="normal">0</text>
<line x1="58.58" y1="114.00" x2="58.58" y2="118.80" stroke="#222" stroke-width="0.9"/>
<text x="0" y="0" transform="translate(58.58,130.90) scale(1,1.1)" font-size="9.3" text-anchor="middle" font-weight="normal">200</text>
<line x1="80.56" y1="114.00" x2="80.56" y2="118.80" stroke="#222" stroke-width="0.9"/>
<line x1="102.54" y1="114.00" x2="102.54" y2="118.80" stroke="#222" stroke-width="0.9"/>
<text x="0" y="0" transform="translate(102.54,130.90) scale(1,1.1)" font-size="9.3" text-anchor="middle" font-weight="normal">600</text>
<line x1="124.52" y1="114.00" x2="124.52" y2="118.80" stroke="#222" stroke-width="0.9"/>
<line x1="146.50" y1="114.00" x2="146.50" y2="118.80" stroke="#222" stroke-width="0.9"/>
<text x="0" y="0" transform="translate(146.50,130.90) scale(1,1.1)" font-size="9.3" text-anchor="middle" font-weight="normal">1000</text>
<line x1="28.10" y1="110.45" x2="32.90" y2="110.45" stroke="#222" stroke-width="0.9"/>
<text x="0" y="0" transform="translate(21.60,110.45) rotate(-90) scale(1,1.1)" font-size="9.3" text-anchor="middle" font-weight="normal">0</text>
<line x1="28.10" y1="93.90" x2="32.90" y2="93.90" stroke="#222" stroke-width="0.9"/>
<line x1="28.10" y1="77.35" x2="32.90" y2="77.35" stroke="#222" stroke-width="0.9"/>
<text x="0" y="0" transform="translate(21.60,77.35) rotate(-90) scale(1,1.1)" font-size="9.3" text-anchor="middle" font-weight="normal">2000</text>
<line x1="28.10" y1="60.80" x2="32.90" y2="60.80" stroke="#222" stroke-width="0.9"/>
<line x1="28.10" y1="44.25" x2="32.90" y2="44.25" stroke="#222" stroke-width="0.9"/>
<text x="0" y="0" transform="translate(21.60,44.25) rotate(-90) scale(1,1.1)" font-size="9.3" text-anchor="middle" font-weight="normal">4000</text>
<line x1="28.10" y1="27.70" x2="32.90" y2="27.70" stroke="#222" stroke-width="0.9"/>
<text x="0" y="0" transform="translate(91.70,144.70) scale(1,1.2)" font-size="8.5" text-anchor="middle" font-weight="normal">Human TSS</text>
<text x="0" y="0" transform="translate(9.00,69.22) rotate(-90) scale(1,1.2)" font-size="8.5" text-anchor="middle" font-weight="normal">Chimp TSS</text>
<text x="0" y="0" transform="translate(268.05,8.70) scale(1,1.05)" font-size="9.5" text-anchor="middle" font-weight="bold">Chimp</text>
<line x1="223.19" y1="110.45" x2="223.19" y2="27.70" stroke="#666" stroke-width="0.9" stroke-dasharray="1,3"/>
<polyline points="212.30,110.45 217.75,41.35 223.19,27.70 228.63,27.70 234.08,27.70 239.53,27.70 244.97,27.70 250.41,27.70 255.86,27.70 261.31,27.70 266.75,27.70 272.19,27.70 277.64,27.70 283.08,27.70 288.53,27.70 293.98,27.70 299.42,27.70 304.87,27.70 310.31,27.70 315.75,27.70 321.20,27.70" fill="none" stroke="#000" stroke-width="0.9" stroke-dasharray="1,3,4,3"/>
<circle cx="212.30" cy="110.45" r="2.1" fill="#000"/>
<circle cx="217.75" cy="41.35" r="2.1" fill="#000"/>
<circle cx="223.19" cy="27.70" r="2.1" fill="#000"/>
<circle cx="228.63" cy="27.70" r="2.1" fill="#000"/>
<circle cx="234.08" cy="27.70" r="2.1" fill="#000"/>
<circle cx="239.53" cy="27.70" r="2.1" fill="#000"/>
<circle cx="244.97" cy="27.70" r="2.1" fill="#000"/>
<circle cx="250.41" cy="27.70" r="2.1" fill="#000"/>
<circle cx="255.86" cy="27.70" r="2.1" fill="#000"/>
<circle cx="261.31" cy="27.70" r="2.1" fill="#000"/>
<circle cx="266.75" cy="27.70" r="2.1" fill="#000"/>
<circle cx="272.19" cy="27.70" r="2.1" fill="#000"/>
<circle cx="277.64" cy="27.70" r="2.1" fill="#000"/>
<circle cx="283.08" cy="27.70" r="2.1" fill="#000"/>
<circle cx="288.53" cy="27.70" r="2.1" fill="#000"/>
<circle cx="293.98" cy="27.70" r="2.1" fill="#000"/>
<circle cx="299.42" cy="27.70" r="2.1" fill="#000"/>
<circle cx="304.87" cy="27.70" r="2.1" fill="#000"/>
<circle cx="310.31" cy="27.70" r="2.1" fill="#000"/>
<circle cx="315.75" cy="27.70" r="2.1" fill="#000"/>
<circle cx="321.20" cy="27.70" r="2.1" fill="#000"/>
<polyline points="212.30,106.40 217.75,62.95 223.19,54.01 228.63,52.03 234.08,51.12 239.53,50.13 244.97,49.13 250.41,48.55 255.86,47.97 261.31,47.64 266.75,47.06 272.19,46.73 277.64,46.57 283.08,45.82 288.53,45.66 293.98,45.24 299.42,44.91 304.87,44.75 310.31,44.58 315.75,44.25 321.20,43.84" fill="none" stroke="#33cc33" stroke-width="0.9"/>
<path d="M209.90,106.40h4.8M212.30,104.00v4.8M215.34,62.95h4.8M217.75,60.55v4.8M220.79,54.01h4.8M223.19,51.61v4.8M226.23,52.03h4.8M228.63,49.63v4.8M231.68,51.12h4.8M234.08,48.72v4.8M237.12,50.13h4.8M239.53,47.73v4.8M242.57,49.13h4.8M244.97,46.73v4.8M248.01,48.55h4.8M250.41,46.15v4.8M253.46,47.97h4.8M255.86,45.57v4.8M258.91,47.64h4.8M261.31,45.24v4.8M264.35,47.06h4.8M266.75,44.66v4.8M269.80,46.73h4.8M272.19,44.33v4.8M275.24,46.57h4.8M277.64,44.17v4.8M280.69,45.82h4.8M283.08,43.42v4.8M286.13,45.66h4.8M288.53,43.26v4.8M291.58,45.24h4.8M293.98,42.84v4.8M297.02,44.91h4.8M299.42,42.51v4.8M302.47,44.75h4.8M304.87,42.35v4.8M307.91,44.58h4.8M310.31,42.18v4.8M313.36,44.25h4.8M315.75,41.85v4.8M318.80,43.84h4.8M321.20,41.44v4.8" stroke="#33cc33" stroke-width="0.9"/>
<rect x="207.70" y="24.45" width="117.70" height="89.55" fill="none" stroke="#222" stroke-width="0.9"/>
<line x1="212.30" y1="114.00" x2="212.30" y2="118.80" stroke="#222" stroke-width="0.9"/>
<text x="0" y="0" transform="translate(212.30,130.90) scale(1,1.1)" font-size="9.3" text-anchor="middle" font-weight="normal">0</text>
<line x1="234.08" y1="114.00" x2="234.08" y2="118.80" stroke="#222" stroke-width="0.9"/>
<text x="0" y="0" transform="translate(234.08,130.90) scale(1,1.1)" font-size="9.3" text-anchor="middle" font-weight="normal">2000</text>
<line x1="255.86" y1="114.00" x2="255.86" y2="118.80" stroke="#222" stroke-width="0.9"/>
<line x1="277.64" y1="114.00" x2="277.64" y2="118.80" stroke="#222" stroke-width="0.9"/>
<text x="0" y="0" transform="translate(277.64,130.90) scale(1,1.1)" font-size="9.3" text-anchor="middle" font-weight="normal">6000</text>
<line x1="299.42" y1="114.00" x2="299.42" y2="118.80" stroke="#222" stroke-width="0.9"/>
<line x1="321.20" y1="114.00" x2="321.20" y2="118.80" stroke="#222" stroke-width="0.9"/>
<text x="0" y="0" transform="translate(321.20,130.90) scale(1,1.1)" font-size="9.3" text-anchor="middle" font-weight="normal">10000</text>
<line x1="202.90" y1="110.45" x2="207.70" y2="110.45" stroke="#222" stroke-width="0.9"/>
<text x="0" y="0" transform="translate(196.40,110.45) rotate(-90) scale(1,1.1)" font-size="9.3" text-anchor="middle" font-weight="normal">0</text>
<line x1="202.90" y1="93.90" x2="207.70" y2="93.90" stroke="#222" stroke-width="0.9"/>
<text x="0" y="0" transform="translate(196.40,93.90) rotate(-90) scale(1,1.1)" font-size="9.3" text-anchor="middle" font-weight="normal">20</text>
<line x1="202.90" y1="77.35" x2="207.70" y2="77.35" stroke="#222" stroke-width="0.9"/>
<line x1="202.90" y1="60.80" x2="207.70" y2="60.80" stroke="#222" stroke-width="0.9"/>
<text x="0" y="0" transform="translate(196.40,60.80) rotate(-90) scale(1,1.1)" font-size="9.3" text-anchor="middle" font-weight="normal">60</text>
<line x1="202.90" y1="44.25" x2="207.70" y2="44.25" stroke="#222" stroke-width="0.9"/>
<line x1="202.90" y1="27.70" x2="207.70" y2="27.70" stroke="#222" stroke-width="0.9"/>
<text x="0" y="0" transform="translate(196.40,27.70) rotate(-90) scale(1,1.1)" font-size="9.3" text-anchor="middle" font-weight="normal">100</text>
<text x="0" y="0" transform="translate(266.55,144.70) scale(1,1.2)" font-size="8.5" text-anchor="middle" font-weight="normal">TSS</text>
<text x="0" y="0" transform="translate(183.80,69.22) rotate(-90) scale(1,1.2)" font-size="8.5" text-anchor="middle" font-weight="normal">Cumulative percentage(%)</text>
<text x="0" y="0" transform="translate(443.00,8.70) scale(1,1.05)" font-size="9.5" text-anchor="middle" font-weight="bold">Rhesus</text>
<clipPath id="cp0_2"><rect x="382.70" y="24.45" width="117.60" height="89.55"/></clipPath>
<line x1="386.50" y1="110.45" x2="496.40" y2="93.90" stroke="#f22" stroke-width="0.9"/>
<path clip-path="url(#cp0_2)" d="M405.75,24.30a1.85,1.85 0 1,0 -3.7,0a1.85,1.85 0 1,0 3.7,0M412.75,24.30a1.85,1.85 0 1,0 -3.7,0a1.85,1.85 0 1,0 3.7,0M405.75,26.50a1.85,1.85 0 1,0 -3.7,0a1.85,1.85 0 1,0 3.7,0M440.35,29.40a1.85,1.85 0 1,0 -3.7,0a1.85,1.85 0 1,0 3.7,0M392.15,34.70a1.85,1.85 0 1,0 -3.7,0a1.85,1.85 0 1,0 3.7,0M397.85,40.60a1.85,1.85 0 1,0 -3.7,0a1.85,1.85 0 1,0 3.7,0M403.55,38.90a1.85,1.85 0 1,0 -3.7,0a1.85,1.85 0 1,0 3.7,0M403.25,42.40a1.85,1.85 0 1,0 -3.7,0a1.85,1.85 0 1,0 3.7,0M421.55,39.80a1.85,1.85 0 1,0 -3.7,0a1.85,1.85 0 1,0 3.7,0M391.75,47.60a1.85,1.85 0 1,0 -3.7,0a1.85,1.85 0 1,0 3.7,0M394.85,47.60a1.85,1.85 0 1,0 -3.7,0a1.85,1.85 0 1,0 3.7,0M396.55,49.40a1.85,1.85 0 1,0 -3.7,0a1.85,1.85 0 1,0 3.7,0M409.65,47.00a1.85,1.85 0 1,0 -3.7,0a1.85,1.85 0 1,0 3.7,0M419.75,47.60a1.85,1.85 0 1,0 -3.7,0a1.85,1.85 0 1,0 3.7,0M442.05,46.30a1.85,1.85 0 1,0 -3.7,0a1.85,1.85 0 1,0 3.7,0M392.15,53.60a1.85,1.85 0 1,0 -3.7,0a1.85,1.85 0 1,0 3.7,0M402.25,53.80a1.85,1.85 0 1,0 -3.7,0a1.85,1.85 0 1,0 3.7,0M404.85,54.80a1.85,1.85 0 1,0 -3.7,0a1.85,1.85 0 1,0 3.7,0M413.15,54.20a1.85,1.85 0 1,0 -3.7,0a1.85,1.85 0 1,0 3.7,0M414.55,53.80a1.85,1.85 0 1,0 -3.7,0a1.85,1.85 0 1,0 3.7,0M418.45,53.80a1.85,1.85 0 1,0 -3.7,0a1.85,1.85 0 1,0 3.7,0M441.65,55.10a1.85,1.85 0 1,0 -3.7,0a1.85,1.85 0 1,0 3.7,0M399.65,59.50a1.85,1.85 0 1,0 -3.7,0a1.85,1.85 0 1,0 3.7,0M396.95,61.70a1.85,1.85 0 1,0 -3.7,0a1.85,1.85 0 1,0 3.7,0M412.35,58.90a1.85,1.85 0 1,0 -3.7,0a1.85,1.85 0 1,0 3.7,0M417.55,59.70a1.85,1.85 0 1,0 -3.7,0a1.85,1.85 0 1,0 3.7,0M431.55,63.90a1.85,1.85 0 1,0 -3.7,0a1.85,1.85 0 1,0 3.7,0M391.25,66.70a1.85,1.85 0 1,0 -3.7,0a1.85,1.85 0 1,0 3.7,0M396.55,65.00a1.85,1.85 0 1,0 -3.7,0a1.85,1.85 0 1,0 3.7,0M401.35,67.80a1.85,1.85 0 1,0 -3.7,0a1.85,1.85 0 1,0 3.7,0M409.65,66.90a1.85,1.85 0 1,0 -3.7,0a1.85,1.85 0 1,0 3.7,0M412.75,68.70a1.85,1.85 0 1,0 -3.7,0a1.85,1.85 0 1,0 3.7,0M427.65,67.80a1.85,1.85 0 1,0 -3.7,0a1.85,1.85 0 1,0 3.7,0M477.25,25.80a1.85,1.85 0 1,0 -3.7,0a1.85,1.85 0 1,0 3.7,0M450.05,34.50a1.85,1.85 0 1,0 -3.7,0a1.85,1.85 0 1,0 3.7,0M481.95,34.90a1.85,1.85 0 1,0 -3.7,0a1.85,1.85 0 1,0 3.7,0M466.05,39.60a1.85,1.85 0 1,0 -3.7,0a1.85,1.85 0 1,0 3.7,0M491.25,47.90a1.85,1.85 0 1,0 -3.7,0a1.85,1.85 0 1,0 3.7,0M491.75,56.80a1.85,1.85 0 1,0 -3.7,0a1.85,1.85 0 1,0 3.7,0M483.25,59.60a1.85,1.85 0 1,0 -3.7,0a1.85,1.85 0 1,0 3.7,0M445.45,61.80a1.85,1.85 0 1,0 -3.7,0a1.85,1.85 0 1,0 3.7,0M481.05,67.80a1.85,1.85 0 1,0 -3.7,0a1.85,1.85 0 1,0 3.7,0M390.85,66.90a1.85,1.85 0 1,0 -3.7,0a1.85,1.85 0 1,0 3.7,0M397.85,68.60a1.85,1.85 0 1,0 -3.7,0a1.85,1.85 0 1,0 3.7,0M400.45,70.40a1.85,1.85 0 1,0 -3.7,0a1.85,1.85 0 1,0 3.7,0M401.85,68.60a1.85,1.85 0 1,0 -3.7,0a1.85,1.85 0 1,0 3.7,0M399.35,70.80a1.85,1.85 0 1,0 -3.7,0a1.85,1.85 0 1,0 3.7,0M410.15,67.30a1.85,1.85 0 1,0 -3.7,0a1.85,1.85 0 1,0 3.7,0M412.75,69.50a1.85,1.85 0 1,0 -3.7,0a1.85,1.85 0 1,0 3.7,0M414.55,74.10a1.85,1.85 0 1,0 -3.7,0a1.85,1.85 0 1,0 3.7,0M404.85,74.60a1.85,1.85 0 1,0 -3.7,0a1.85,1.85 0 1,0 3.7,0M391.75,75.20a1.85,1.85 0 1,0 -3.7,0a1.85,1.85 0 1,0 3.7,0M391.75,78.30a1.85,1.85 0 1,0 -3.7,0a1.85,1.85 0 1,0 3.7,0M396.55,79.10a1.85,1.85 0 1,0 -3.7,0a1.85,1.85 0 1,0 3.7,0M399.65,78.30a1.85,1.85 0 1,0 -3.7,0a1.85,1.85 0 1,0 3.7,0M406.65,81.30a1.85,1.85 0 1,0 -3.7,0a1.85,1.85 0 1,0 3.7,0M442.55,73.40a1.85,1.85 0 1,0 -3.7,0a1.85,1.85 0 1,0 3.7,0M391.25,84.00a1.85,1.85 0 1,0 -3.7,0a1.85,1.85 0 1,0 3.7,0M396.55,84.80a1.85,1.85 0 1,0 -3.7,0a1.85,1.85 0 1,0 3.7,0M402.65,86.10a1.85,1.85 0 1,0 -3.7,0a1.85,1.85 0 1,0 3.7,0M406.65,86.60a1.85,1.85 0 1,0 -3.7,0a1.85,1.85 0 1,0 3.7,0M409.65,87.00a1.85,1.85 0 1,0 -3.7,0a1.85,1.85 0 1,0 3.7,0M431.55,82.60a1.85,1.85 0 1,0 -3.7,0a1.85,1.85 0 1,0 3.7,0M432.35,84.00a1.85,1.85 0 1,0 -3.7,0a1.85,1.85 0 1,0 3.7,0M436.45,85.70a1.85,1.85 0 1,0 -3.7,0a1.85,1.85 0 1,0 3.7,0M440.75,85.70a1.85,1.85 0 1,0 -3.7,0a1.85,1.85 0 1,0 3.7,0M441.35,87.00a1.85,1.85 0 1,0 -3.7,0a1.85,1.85 0 1,0 3.7,0M393.45,89.60a1.85,1.85 0 1,0 -3.7,0a1.85,1.85 0 1,0 3.7,0M396.95,90.50a1.85,1.85 0 1,0 -3.7,0a1.85,1.85 0 1,0 3.7,0M403.95,91.00a1.85,1.85 0 1,0 -3.7,0a1.85,1.85 0 1,0 3.7,0M405.85,91.50a1.85,1.85 0 1,0 -3.7,0a1.85,1.85 0 1,0 3.7,0M411.85,89.20a1.85,1.85 0 1,0 -3.7,0a1.85,1.85 0 1,0 3.7,0M414.05,90.50a1.85,1.85 0 1,0 -3.7,0a1.85,1.85 0 1,0 3.7,0M417.55,92.30a1.85,1.85 0 1,0 -3.7,0a1.85,1.85 0 1,0 3.7,0M422.35,91.00a1.85,1.85 0 1,0 -3.7,0a1.85,1.85 0 1,0 3.7,0M425.05,93.20a1.85,1.85 0 1,0 -3.7,0a1.85,1.85 0 1,0 3.7,0M437.25,91.40a1.85,1.85 0 1,0 -3.7,0a1.85,1.85 0 1,0 3.7,0M436.35,92.50a1.85,1.85 0 1,0 -3.7,0a1.85,1.85 0 1,0 3.7,0M390.85,95.80a1.85,1.85 0 1,0 -3.7,0a1.85,1.85 0 1,0 3.7,0M395.25,94.90a1.85,1.85 0 1,0 -3.7,0a1.85,1.85 0 1,0 3.7,0M398.75,94.00a1.85,1.85 0 1,0 -3.7,0a1.85,1.85 0 1,0 3.7,0M402.65,97.10a1.85,1.85 0 1,0 -3.7,0a1.85,1.85 0 1,0 3.7,0M410.15,94.90a1.85,1.85 0 1,0 -3.7,0a1.85,1.85 0 1,0 3.7,0M417.15,96.20a1.85,1.85 0 1,0 -3.7,0a1.85,1.85 0 1,0 3.7,0M422.35,94.90a1.85,1.85 0 1,0 -3.7,0a1.85,1.85 0 1,0 3.7,0M425.05,95.80a1.85,1.85 0 1,0 -3.7,0a1.85,1.85 0 1,0 3.7,0M429.35,94.50a1.85,1.85 0 1,0 -3.7,0a1.85,1.85 0 1,0 3.7,0M432.05,93.60a1.85,1.85 0 1,0 -3.7,0a1.85,1.85 0 1,0 3.7,0M392.65,101.00a1.85,1.85 0 1,0 -3.7,0a1.85,1.85 0 1,0 3.7,0M439.85,98.40a1.85,1.85 0 1,0 -3.7,0a1.85,1.85 0 1,0 3.7,0M441.65,96.70a1.85,1.85 0 1,0 -3.7,0a1.85,1.85 0 1,0 3.7,0M443.15,73.10a1.85,1.85 0 1,0 -3.7,0a1.85,1.85 0 1,0 3.7,0M448.05,76.20a1.85,1.85 0 1,0 -3.7,0a1.85,1.85 0 1,0 3.7,0M454.75,74.90a1.85,1.85 0 1,0 -3.7,0a1.85,1.85 0 1,0 3.7,0M453.85,78.90a1.85,1.85 0 1,0 -3.7,0a1.85,1.85 0 1,0 3.7,0M489.95,78.90a1.85,1.85 0 1,0 -3.7,0a1.85,1.85 0 1,0 3.7,0M497.95,86.90a1.85,1.85 0 1,0 -3.7,0a1.85,1.85 0 1,0 3.7,0M441.85,86.50a1.85,1.85 0 1,0 -3.7,0a1.85,1.85 0 1,0 3.7,0M470.75,92.30a1.85,1.85 0 1,0 -3.7,0a1.85,1.85 0 1,0 3.7,0M481.95,90.90a1.85,1.85 0 1,0 -3.7,0a1.85,1.85 0 1,0 3.7,0M477.05,94.50a1.85,1.85 0 1,0 -3.7,0a1.85,1.85 0 1,0 3.7,0M472.55,96.70a1.85,1.85 0 1,0 -3.7,0a1.85,1.85 0 1,0 3.7,0M465.05,98.50a1.85,1.85 0 1,0 -3.7,0a1.85,1.85 0 1,0 3.7,0M468.35,98.80a1.85,1.85 0 1,0 -3.7,0a1.85,1.85 0 1,0 3.7,0M456.55,97.60a1.85,1.85 0 1,0 -3.7,0a1.85,1.85 0 1,0 3.7,0M453.45,96.30a1.85,1.85 0 1,0 -3.7,0a1.85,1.85 0 1,0 3.7,0M448.95,95.40a1.85,1.85 0 1,0 -3.7,0a1.85,1.85 0 1,0 3.7,0M458.75,103.80a1.85,1.85 0 1,0 -3.7,0a1.85,1.85 0 1,0 3.7,0M471.25,101.60a1.85,1.85 0 1,0 -3.7,0a1.85,1.85 0 1,0 3.7,0M472.15,103.40a1.85,1.85 0 1,0 -3.7,0a1.85,1.85 0 1,0 3.7,0M477.45,100.70a1.85,1.85 0 1,0 -3.7,0a1.85,1.85 0 1,0 3.7,0M478.35,103.40a1.85,1.85 0 1,0 -3.7,0a1.85,1.85 0 1,0 3.7,0M484.15,99.80a1.85,1.85 0 1,0 -3.7,0a1.85,1.85 0 1,0 3.7,0M486.35,96.30a1.85,1.85 0 1,0 -3.7,0a1.85,1.85 0 1,0 3.7,0M488.15,95.80a1.85,1.85 0 1,0 -3.7,0a1.85,1.85 0 1,0 3.7,0M491.25,96.70a1.85,1.85 0 1,0 -3.7,0a1.85,1.85 0 1,0 3.7,0M445.45,106.50a1.85,1.85 0 1,0 -3.7,0a1.85,1.85 0 1,0 3.7,0M448.55,107.40a1.85,1.85 0 1,0 -3.7,0a1.85,1.85 0 1,0 3.7,0M452.95,107.00a1.85,1.85 0 1,0 -3.7,0a1.85,1.85 0 1,0 3.7,0M444.95,110.10a1.85,1.85 0 1,0 -3.7,0a1.85,1.85 0 1,0 3.7,0M451.65,110.50a1.85,1.85 0 1,0 -3.7,0a1.85,1.85 0 1,0 3.7,0M454.75,110.50a1.85,1.85 0 1,0 -3.7,0a1.85,1.85 0 1,0 3.7,0M463.25,108.70a1.85,1.85 0 1,0 -3.7,0a1.85,1.85 0 1,0 3.7,0M465.45,111.00a1.85,1.85 0 1,0 -3.7,0a1.85,1.85 0 1,0 3.7,0M469.45,108.30a1.85,1.85 0 1,0 -3.7,0a1.85,1.85 0 1,0 3.7,0M473.95,107.00a1.85,1.85 0 1,0 -3.7,0a1.85,1.85 0 1,0 3.7,0M483.25,107.00a1.85,1.85 0 1,0 -3.7,0a1.85,1.85 0 1,0 3.7,0M486.35,105.20a1.85,1.85 0 1,0 -3.7,0a1.85,1.85 0 1,0 3.7,0M485.95,110.10a1.85,1.85 0 1,0 -3.7,0a1.85,1.85 0 1,0 3.7,0M487.25,110.50a1.85,1.85 0 1,0 -3.7,0a1.85,1.85 0 1,0 3.7,0M492.65,105.60a1.85,1.85 0 1,0 -3.7,0a1.85,1.85 0 1,0 3.7,0M493.45,108.30a1.85,1.85 0 1,0 -3.7,0a1.85,1.85 0 1,0 3.7,0M437.85,105.00a1.85,1.85 0 1,0 -3.7,0a1.85,1.85 0 1,0 3.7,0M439.85,108.00a1.85,1.85 0 1,0 -3.7,0a1.85,1.85 0 1,0 3.7,0M441.85,111.00a1.85,1.85 0 1,0 -3.7,0a1.85,1.85 0 1,0 3.7,0M434.85,110.80a1.85,1.85 0 1,0 -3.7,0a1.85,1.85 0 1,0 3.7,0M429.85,110.80a1.85,1.85 0 1,0 -3.7,0a1.85,1.85 0 1,0 3.7,0M425.85,111.00a1.85,1.85 0 1,0 -3.7,0a1.85,1.85 0 1,0 3.7,0M420.85,110.80a1.85,1.85 0 1,0 -3.7,0a1.85,1.85 0 1,0 3.7,0M415.85,110.80a1.85,1.85 0 1,0 -3.7,0a1.85,1.85 0 1,0 3.7,0M446.98,101.54a1.85,1.85 0 1,0 -3.7,0a1.85,1.85 0 1,0 3.7,0M405.65,109.98a1.85,1.85 0 1,0 -3.7,0a1.85,1.85 0 1,0 3.7,0M396.36,104.10a1.85,1.85 0 1,0 -3.7,0a1.85,1.85 0 1,0 3.7,0M429.13,106.39a1.85,1.85 0 1,0 -3.7,0a1.85,1.85 0 1,0 3.7,0M398.61,106.72a1.85,1.85 0 1,0 -3.7,0a1.85,1.85 0 1,0 3.7,0M424.90,110.47a1.85,1.85 0 1,0 -3.7,0a1.85,1.85 0 1,0 3.7,0M389.95,112.27a1.85,1.85 0 1,0 -3.7,0a1.85,1.85 0 1,0 3.7,0M400.63,109.83a1.85,1.85 0 1,0 -3.7,0a1.85,1.85 0 1,0 3.7,0M425.39,110.21a1.85,1.85 0 1,0 -3.7,0a1.85,1.85 0 1,0 3.7,0M401.38,101.47a1.85,1.85 0 1,0 -3.7,0a1.85,1.85 0 1,0 3.7,0M394.30,109.24a1.85,1.85 0 1,0 -3.7,0a1.85,1.85 0 1,0 3.7,0M402.66,105.52a1.85,1.85 0 1,0 -3.7,0a1.85,1.85 0 1,0 3.7,0M420.24,107.97a1.85,1.85 0 1,0 -3.7,0a1.85,1.85 0 1,0 3.7,0M393.50,110.27a1.85,1.85 0 1,0 -3.7,0a1.85,1.85 0 1,0 3.7,0M394.87,103.84a1.85,1.85 0 1,0 -3.7,0a1.85,1.85 0 1,0 3.7,0M393.72,109.29a1.85,1.85 0 1,0 -3.7,0a1.85,1.85 0 1,0 3.7,0M420.76,109.21a1.85,1.85 0 1,0 -3.7,0a1.85,1.85 0 1,0 3.7,0M457.18,96.96a1.85,1.85 0 1,0 -3.7,0a1.85,1.85 0 1,0 3.7,0M422.80,108.55a1.85,1.85 0 1,0 -3.7,0a1.85,1.85 0 1,0 3.7,0M444.72,102.53a1.85,1.85 0 1,0 -3.7,0a1.85,1.85 0 1,0 3.7,0M457.95,96.60a1.85,1.85 0 1,0 -3.7,0a1.85,1.85 0 1,0 3.7,0M414.35,112.82a1.85,1.85 0 1,0 -3.7,0a1.85,1.85 0 1,0 3.7,0M396.57,112.76a1.85,1.85 0 1,0 -3.7,0a1.85,1.85 0 1,0 3.7,0M391.99,104.02a1.85,1.85 0 1,0 -3.7,0a1.85,1.85 0 1,0 3.7,0M423.48,108.93a1.85,1.85 0 1,0 -3.7,0a1.85,1.85 0 1,0 3.7,0M456.25,97.93a1.85,1.85 0 1,0 -3.7,0a1.85,1.85 0 1,0 3.7,0M416.73,104.09a1.85,1.85 0 1,0 -3.7,0a1.85,1.85 0 1,0 3.7,0M453.25,98.31a1.85,1.85 0 1,0 -3.7,0a1.85,1.85 0 1,0 3.7,0M407.20,109.12a1.85,1.85 0 1,0 -3.7,0a1.85,1.85 0 1,0 3.7,0M389.71,112.29a1.85,1.85 0 1,0 -3.7,0a1.85,1.85 0 1,0 3.7,0M405.12,104.53a1.85,1.85 0 1,0 -3.7,0a1.85,1.85 0 1,0 3.7,0M415.91,112.69a1.85,1.85 0 1,0 -3.7,0a1.85,1.85 0 1,0 3.7,0M449.95,97.75a1.85,1.85 0 1,0 -3.7,0a1.85,1.85 0 1,0 3.7,0M433.86,101.02a1.85,1.85 0 1,0 -3.7,0a1.85,1.85 0 1,0 3.7,0M408.29,103.71a1.85,1.85 0 1,0 -3.7,0a1.85,1.85 0 1,0 3.7,0M401.84,106.06a1.85,1.85 0 1,0 -3.7,0a1.85,1.85 0 1,0 3.7,0M400.09,112.17a1.85,1.85 0 1,0 -3.7,0a1.85,1.85 0 1,0 3.7,0M416.29,103.82a1.85,1.85 0 1,0 -3.7,0a1.85,1.85 0 1,0 3.7,0M423.99,107.82a1.85,1.85 0 1,0 -3.7,0a1.85,1.85 0 1,0 3.7,0M444.71,99.30a1.85,1.85 0 1,0 -3.7,0a1.85,1.85 0 1,0 3.7,0M449.14,103.28a1.85,1.85 0 1,0 -3.7,0a1.85,1.85 0 1,0 3.7,0M406.43,110.69a1.85,1.85 0 1,0 -3.7,0a1.85,1.85 0 1,0 3.7,0M411.79,111.54a1.85,1.85 0 1,0 -3.7,0a1.85,1.85 0 1,0 3.7,0M423.23,108.74a1.85,1.85 0 1,0 -3.7,0a1.85,1.85 0 1,0 3.7,0M425.17,102.81a1.85,1.85 0 1,0 -3.7,0a1.85,1.85 0 1,0 3.7,0M452.12,102.44a1.85,1.85 0 1,0 -3.7,0a1.85,1.85 0 1,0 3.7,0M440.16,101.26a1.85,1.85 0 1,0 -3.7,0a1.85,1.85 0 1,0 3.7,0M393.69,107.48a1.85,1.85 0 1,0 -3.7,0a1.85,1.85 0 1,0 3.7,0M398.58,102.11a1.85,1.85 0 1,0 -3.7,0a1.85,1.85 0 1,0 3.7,0M429.37,107.51a1.85,1.85 0 1,0 -3.7,0a1.85,1.85 0 1,0 3.7,0M459.55,97.03a1.85,1.85 0 1,0 -3.7,0a1.85,1.85 0 1,0 3.7,0M426.01,106.61a1.85,1.85 0 1,0 -3.7,0a1.85,1.85 0 1,0 3.7,0M458.53,97.47a1.85,1.85 0 1,0 -3.7,0a1.85,1.85 0 1,0 3.7,0M421.43,106.54a1.85,1.85 0 1,0 -3.7,0a1.85,1.85 0 1,0 3.7,0M443.24,98.53a1.85,1.85 0 1,0 -3.7,0a1.85,1.85 0 1,0 3.7,0M417.80,112.68a1.85,1.85 0 1,0 -3.7,0a1.85,1.85 0 1,0 3.7,0M450.79,97.30a1.85,1.85 0 1,0 -3.7,0a1.85,1.85 0 1,0 3.7,0M428.02,107.36a1.85,1.85 0 1,0 -3.7,0a1.85,1.85 0 1,0 3.7,0M393.01,105.36a1.85,1.85 0 1,0 -3.7,0a1.85,1.85 0 1,0 3.7,0M440.74,99.03a1.85,1.85 0 1,0 -3.7,0a1.85,1.85 0 1,0 3.7,0M423.49,105.21a1.85,1.85 0 1,0 -3.7,0a1.85,1.85 0 1,0 3.7,0M444.79,101.48a1.85,1.85 0 1,0 -3.7,0a1.85,1.85 0 1,0 3.7,0M430.58,111.98a1.85,1.85 0 1,0 -3.7,0a1.85,1.85 0 1,0 3.7,0M416.46,107.21a1.85,1.85 0 1,0 -3.7,0a1.85,1.85 0 1,0 3.7,0M439.38,99.60a1.85,1.85 0 1,0 -3.7,0a1.85,1.85 0 1,0 3.7,0M433.28,112.90a1.85,1.85 0 1,0 -3.7,0a1.85,1.85 0 1,0 3.7,0M410.55,107.37a1.85,1.85 0 1,0 -3.7,0a1.85,1.85 0 1,0 3.7,0M412.98,106.95a1.85,1.85 0 1,0 -3.7,0a1.85,1.85 0 1,0 3.7,0M402.01,104.51a1.85,1.85 0 1,0 -3.7,0a1.85,1.85 0 1,0 3.7,0M445.94,99.62a1.85,1.85 0 1,0 -3.7,0a1.85,1.85 0 1,0 3.7,0M399.55,107.39a1.85,1.85 0 1,0 -3.7,0a1.85,1.85 0 1,0 3.7,0M420.92,101.14a1.85,1.85 0 1,0 -3.7,0a1.85,1.85 0 1,0 3.7,0M405.56,112.02a1.85,1.85 0 1,0 -3.7,0a1.85,1.85 0 1,0 3.7,0M423.36,107.59a1.85,1.85 0 1,0 -3.7,0a1.85,1.85 0 1,0 3.7,0M418.86,104.86a1.85,1.85 0 1,0 -3.7,0a1.85,1.85 0 1,0 3.7,0M433.49,107.75a1.85,1.85 0 1,0 -3.7,0a1.85,1.85 0 1,0 3.7,0M427.95,104.04a1.85,1.85 0 1,0 -3.7,0a1.85,1.85 0 1,0 3.7,0M416.41,110.75a1.85,1.85 0 1,0 -3.7,0a1.85,1.85 0 1,0 3.7,0M419.64,108.78a1.85,1.85 0 1,0 -3.7,0a1.85,1.85 0 1,0 3.7,0M389.64,106.11a1.85,1.85 0 1,0 -3.7,0a1.85,1.85 0 1,0 3.7,0M412.31,112.51a1.85,1.85 0 1,0 -3.7,0a1.85,1.85 0 1,0 3.7,0M436.47,106.16a1.85,1.85 0 1,0 -3.7,0a1.85,1.85 0 1,0 3.7,0M451.49,101.95a1.85,1.85 0 1,0 -3.7,0a1.85,1.85 0 1,0 3.7,0M398.67,103.58a1.85,1.85 0 1,0 -3.7,0a1.85,1.85 0 1,0 3.7,0M455.05,98.81a1.85,1.85 0 1,0 -3.7,0a1.85,1.85 0 1,0 3.7,0M424.32,101.00a1.85,1.85 0 1,0 -3.7,0a1.85,1.85 0 1,0 3.7,0M454.99,100.35a1.85,1.85 0 1,0 -3.7,0a1.85,1.85 0 1,0 3.7,0M446.24,98.94a1.85,1.85 0 1,0 -3.7,0a1.85,1.85 0 1,0 3.7,0M431.40,104.67a1.85,1.85 0 1,0 -3.7,0a1.85,1.85 0 1,0 3.7,0M433.06,103.21a1.85,1.85 0 1,0 -3.7,0a1.85,1.85 0 1,0 3.7,0M441.55,104.27a1.85,1.85 0 1,0 -3.7,0a1.85,1.85 0 1,0 3.7,0M408.41,105.14a1.85,1.85 0 1,0 -3.7,0a1.85,1.85 0 1,0 3.7,0M426.21,105.93a1.85,1.85 0 1,0 -3.7,0a1.85,1.85 0 1,0 3.7,0M436.93,105.80a1.85,1.85 0 1,0 -3.7,0a1.85,1.85 0 1,0 3.7,0M408.38,112.12a1.85,1.85 0 1,0 -3.7,0a1.85,1.85 0 1,0 3.7,0M391.74,105.27a1.85,1.85 0 1,0 -3.7,0a1.85,1.85 0 1,0 3.7,0M428.18,103.62a1.85,1.85 0 1,0 -3.7,0a1.85,1.85 0 1,0 3.7,0M416.24,102.98a1.85,1.85 0 1,0 -3.7,0a1.85,1.85 0 1,0 3.7,0M422.05,102.29a1.85,1.85 0 1,0 -3.7,0a1.85,1.85 0 1,0 3.7,0M396.91,104.45a1.85,1.85 0 1,0 -3.7,0a1.85,1.85 0 1,0 3.7,0M408.86,109.48a1.85,1.85 0 1,0 -3.7,0a1.85,1.85 0 1,0 3.7,0M412.26,104.10a1.85,1.85 0 1,0 -3.7,0a1.85,1.85 0 1,0 3.7,0M442.54,99.89a1.85,1.85 0 1,0 -3.7,0a1.85,1.85 0 1,0 3.7,0M450.68,103.19a1.85,1.85 0 1,0 -3.7,0a1.85,1.85 0 1,0 3.7,0M404.73,104.28a1.85,1.85 0 1,0 -3.7,0a1.85,1.85 0 1,0 3.7,0M445.63,101.18a1.85,1.85 0 1,0 -3.7,0a1.85,1.85 0 1,0 3.7,0M405.28,108.99a1.85,1.85 0 1,0 -3.7,0a1.85,1.85 0 1,0 3.7,0M396.49,101.67a1.85,1.85 0 1,0 -3.7,0a1.85,1.85 0 1,0 3.7,0M431.85,104.45a1.85,1.85 0 1,0 -3.7,0a1.85,1.85 0 1,0 3.7,0M389.03,102.21a1.85,1.85 0 1,0 -3.7,0a1.85,1.85 0 1,0 3.7,0M447.40,100.33a1.85,1.85 0 1,0 -3.7,0a1.85,1.85 0 1,0 3.7,0M408.56,111.97a1.85,1.85 0 1,0 -3.7,0a1.85,1.85 0 1,0 3.7,0M451.46,97.63a1.85,1.85 0 1,0 -3.7,0a1.85,1.85 0 1,0 3.7,0M397.88,102.24a1.85,1.85 0 1,0 -3.7,0a1.85,1.85 0 1,0 3.7,0M459.02,99.12a1.85,1.85 0 1,0 -3.7,0a1.85,1.85 0 1,0 3.7,0M456.18,97.95a1.85,1.85 0 1,0 -3.7,0a1.85,1.85 0 1,0 3.7,0M409.31,103.51a1.85,1.85 0 1,0 -3.7,0a1.85,1.85 0 1,0 3.7,0M418.39,108.31a1.85,1.85 0 1,0 -3.7,0a1.85,1.85 0 1,0 3.7,0M423.63,107.57a1.85,1.85 0 1,0 -3.7,0a1.85,1.85 0 1,0 3.7,0M439.89,103.41a1.85,1.85 0 1,0 -3.7,0a1.85,1.85 0 1,0 3.7,0M416.44,109.65a1.85,1.85 0 1,0 -3.7,0a1.85,1.85 0 1,0 3.7,0M397.43,111.65a1.85,1.85 0 1,0 -3.7,0a1.85,1.85 0 1,0 3.7,0M455.86,99.71a1.85,1.85 0 1,0 -3.7,0a1.85,1.85 0 1,0 3.7,0M431.79,111.38a1.85,1.85 0 1,0 -3.7,0a1.85,1.85 0 1,0 3.7,0M428.07,107.58a1.85,1.85 0 1,0 -3.7,0a1.85,1.85 0 1,0 3.7,0M395.59,107.35a1.85,1.85 0 1,0 -3.7,0a1.85,1.85 0 1,0 3.7,0M389.76,104.72a1.85,1.85 0 1,0 -3.7,0a1.85,1.85 0 1,0 3.7,0M395.97,100.68a1.85,1.85 0 1,0 -3.7,0a1.85,1.85 0 1,0 3.7,0M397.39,107.59a1.85,1.85 0 1,0 -3.7,0a1.85,1.85 0 1,0 3.7,0M426.86,109.16a1.85,1.85 0 1,0 -3.7,0a1.85,1.85 0 1,0 3.7,0M432.51,104.87a1.85,1.85 0 1,0 -3.7,0a1.85,1.85 0 1,0 3.7,0M444.86,103.34a1.85,1.85 0 1,0 -3.7,0a1.85,1.85 0 1,0 3.7,0M416.00,102.76a1.85,1.85 0 1,0 -3.7,0a1.85,1.85 0 1,0 3.7,0M433.88,102.67a1.85,1.85 0 1,0 -3.7,0a1.85,1.85 0 1,0 3.7,0M399.21,110.87a1.85,1.85 0 1,0 -3.7,0a1.85,1.85 0 1,0 3.7,0M447.08,102.09a1.85,1.85 0 1,0 -3.7,0a1.85,1.85 0 1,0 3.7,0M443.25,98.61a1.85,1.85 0 1,0 -3.7,0a1.85,1.85 0 1,0 3.7,0M407.69,101.02a1.85,1.85 0 1,0 -3.7,0a1.85,1.85 0 1,0 3.7,0M455.37,99.95a1.85,1.85 0 1,0 -3.7,0a1.85,1.85 0 1,0 3.7,0M418.14,103.77a1.85,1.85 0 1,0 -3.7,0a1.85,1.85 0 1,0 3.7,0M417.76,102.12a1.85,1.85 0 1,0 -3.7,0a1.85,1.85 0 1,0 3.7,0M461.37,98.04a1.85,1.85 0 1,0 -3.7,0a1.85,1.85 0 1,0 3.7,0M410.70,104.99a1.85,1.85 0 1,0 -3.7,0a1.85,1.85 0 1,0 3.7,0M448.55,97.60a1.85,1.85 0 1,0 -3.7,0a1.85,1.85 0 1,0 3.7,0M444.30,99.70a1.85,1.85 0 1,0 -3.7,0a1.85,1.85 0 1,0 3.7,0M389.88,103.29a1.85,1.85 0 1,0 -3.7,0a1.85,1.85 0 1,0 3.7,0M452.83,100.93a1.85,1.85 0 1,0 -3.7,0a1.85,1.85 0 1,0 3.7,0M389.98,107.74a1.85,1.85 0 1,0 -3.7,0a1.85,1.85 0 1,0 3.7,0M402.86,111.01a1.85,1.85 0 1,0 -3.7,0a1.85,1.85 0 1,0 3.7,0M423.07,107.75a1.85,1.85 0 1,0 -3.7,0a1.85,1.85 0 1,0 3.7,0M413.24,102.55a1.85,1.85 0 1,0 -3.7,0a1.85,1.85 0 1,0 3.7,0M405.39,106.89a1.85,1.85 0 1,0 -3.7,0a1.85,1.85 0 1,0 3.7,0M404.11,102.65a1.85,1.85 0 1,0 -3.7,0a1.85,1.85 0 1,0 3.7,0M457.91,96.58a1.85,1.85 0 1,0 -3.7,0a1.85,1.85 0 1,0 3.7,0M417.67,106.62a1.85,1.85 0 1,0 -3.7,0a1.85,1.85 0 1,0 3.7,0M389.34,108.42a1.85,1.85 0 1,0 -3.7,0a1.85,1.85 0 1,0 3.7,0M404.80,104.65a1.85,1.85 0 1,0 -3.7,0a1.85,1.85 0 1,0 3.7,0M416.88,103.82a1.85,1.85 0 1,0 -3.7,0a1.85,1.85 0 1,0 3.7,0M389.54,111.64a1.85,1.85 0 1,0 -3.7,0a1.85,1.85 0 1,0 3.7,0M438.71,105.82a1.85,1.85 0 1,0 -3.7,0a1.85,1.85 0 1,0 3.7,0M395.82,109.19a1.85,1.85 0 1,0 -3.7,0a1.85,1.85 0 1,0 3.7,0M409.65,101.75a1.85,1.85 0 1,0 -3.7,0a1.85,1.85 0 1,0 3.7,0M408.06,103.94a1.85,1.85 0 1,0 -3.7,0a1.85,1.85 0 1,0 3.7,0M446.22,101.65a1.85,1.85 0 1,0 -3.7,0a1.85,1.85 0 1,0 3.7,0M397.51,105.36a1.85,1.85 0 1,0 -3.7,0a1.85,1.85 0 1,0 3.7,0M413.99,111.21a1.85,1.85 0 1,0 -3.7,0a1.85,1.85 0 1,0 3.7,0M392.47,103.12a1.85,1.85 0 1,0 -3.7,0a1.85,1.85 0 1,0 3.7,0M419.16,109.76a1.85,1.85 0 1,0 -3.7,0a1.85,1.85 0 1,0 3.7,0M401.72,109.44a1.85,1.85 0 1,0 -3.7,0a1.85,1.85 0 1,0 3.7,0M428.65,110.11a1.85,1.85 0 1,0 -3.7,0a1.85,1.85 0 1,0 3.7,0M443.66,99.61a1.85,1.85 0 1,0 -3.7,0a1.85,1.85 0 1,0 3.7,0M436.40,104.63a1.85,1.85 0 1,0 -3.7,0a1.85,1.85 0 1,0 3.7,0M445.05,102.61a1.85,1.85 0 1,0 -3.7,0a1.85,1.85 0 1,0 3.7,0M424.06,104.03a1.85,1.85 0 1,0 -3.7,0a1.85,1.85 0 1,0 3.7,0M395.11,105.68a1.85,1.85 0 1,0 -3.7,0a1.85,1.85 0 1,0 3.7,0M400.68,112.01a1.85,1.85 0 1,0 -3.7,0a1.85,1.85 0 1,0 3.7,0M396.78,101.21a1.85,1.85 0 1,0 -3.7,0a1.85,1.85 0 1,0 3.7,0M394.77,102.51a1.85,1.85 0 1,0 -3.7,0a1.85,1.85 0 1,0 3.7,0M388.55,106.41a1.85,1.85 0 1,0 -3.7,0a1.85,1.85 0 1,0 3.7,0M406.48,112.00a1.85,1.85 0 1,0 -3.7,0a1.85,1.85 0 1,0 3.7,0M411.41,107.89a1.85,1.85 0 1,0 -3.7,0a1.85,1.85 0 1,0 3.7,0M421.47,103.49a1.85,1.85 0 1,0 -3.7,0a1.85,1.85 0 1,0 3.7,0M389.78,103.90a1.85,1.85 0 1,0 -3.7,0a1.85,1.85 0 1,0 3.7,0M394.60,103.68a1.85,1.85 0 1,0 -3.7,0a1.85,1.85 0 1,0 3.7,0M437.81,104.67a1.85,1.85 0 1,0 -3.7,0a1.85,1.85 0 1,0 3.7,0M411.31,104.94a1.85,1.85 0 1,0 -3.7,0a1.85,1.85 0 1,0 3.7,0M390.33,105.31a1.85,1.85 0 1,0 -3.7,0a1.85,1.85 0 1,0 3.7,0M400.55,112.11a1.85,1.85 0 1,0 -3.7,0a1.85,1.85 0 1,0 3.7,0M428.87,104.97a1.85,1.85 0 1,0 -3.7,0a1.85,1.85 0 1,0 3.7,0M399.53,101.94a1.85,1.85 0 1,0 -3.7,0a1.85,1.85 0 1,0 3.7,0M400.79,111.07a1.85,1.85 0 1,0 -3.7,0a1.85,1.85 0 1,0 3.7,0M409.92,103.21a1.85,1.85 0 1,0 -3.7,0a1.85,1.85 0 1,0 3.7,0M416.19,102.26a1.85,1.85 0 1,0 -3.7,0a1.85,1.85 0 1,0 3.7,0M401.06,107.61a1.85,1.85 0 1,0 -3.7,0a1.85,1.85 0 1,0 3.7,0M405.01,109.08a1.85,1.85 0 1,0 -3.7,0a1.85,1.85 0 1,0 3.7,0M390.40,107.72a1.85,1.85 0 1,0 -3.7,0a1.85,1.85 0 1,0 3.7,0M460.25,97.25a1.85,1.85 0 1,0 -3.7,0a1.85,1.85 0 1,0 3.7,0M411.57,107.22a1.85,1.85 0 1,0 -3.7,0a1.85,1.85 0 1,0 3.7,0M391.14,108.96a1.85,1.85 0 1,0 -3.7,0a1.85,1.85 0 1,0 3.7,0M452.16,98.75a1.85,1.85 0 1,0 -3.7,0a1.85,1.85 0 1,0 3.7,0" fill="none" stroke="#000" stroke-width="0.8"/>
<line x1="387.50" y1="110.30" x2="440.00" y2="102.39" stroke="#660000" stroke-width="2.4" stroke-linecap="round"/>
<circle cx="386.50" cy="110.45" r="1.85" fill="none" stroke="#f00" stroke-width="0.8"/>
<circle cx="496.40" cy="93.90" r="1.85" fill="none" stroke="#f00" stroke-width="0.8"/>
<rect x="382.70" y="24.45" width="117.60" height="89.55" fill="none" stroke="#222" stroke-width="0.9"/>
<line x1="386.50" y1="114.00" x2="386.50" y2="118.80" stroke="#222" stroke-width="0.9"/>
<text x="0" y="0" transform="translate(386.50,130.90) scale(1,1.1)" font-size="9.3" text-anchor="middle" font-weight="normal">0</text>
<line x1="408.48" y1="114.00" x2="408.48" y2="118.80" stroke="#222" stroke-width="0.9"/>
<text x="0" y="0" transform="translate(408.48,130.90) scale(1,1.1)" font-size="9.3" text-anchor="middle" font-weight="normal">200</text>
<line x1="430.46" y1="114.00" x2="430.46" y2="118.80" stroke="#222" stroke-width="0.9"/>
<line x1="452.44" y1="114.00" x2="452.44" y2="118.80" stroke="#222" stroke-width="0.9"/>
<text x="0" y="0" transform="translate(452.44,130.90) scale(1,1.1)" font-size="9.3" text-anchor="middle" font-weight="normal">600</text>
<line x1="474.42" y1="114.00" x2="474.42" y2="118.80" stroke="#222" stroke-width="0.9"/>
<line x1="496.40" y1="114.00" x2="496.40" y2="118.80" stroke="#222" stroke-width="0.9"/>
<text x="0" y="0" transform="translate(496.40,130.90) scale(1,1.1)" font-size="9.3" text-anchor="middle" font-weight="normal">1000</text>
<line x1="377.90" y1="110.45" x2="382.70" y2="110.45" stroke="#222" stroke-width="0.9"/>
<text x="0" y="0" transform="translate(371.40,110.45) rotate(-90) scale(1,1.1)" font-size="9.3" text-anchor="middle" font-weight="normal">0</text>
<line x1="377.90" y1="93.90" x2="382.70" y2="93.90" stroke="#222" stroke-width="0.9"/>
<line x1="377.90" y1="77.35" x2="382.70" y2="77.35" stroke="#222" stroke-width="0.9"/>
<text x="0" y="0" transform="translate(371.40,77.35) rotate(-90) scale(1,1.1)" font-size="9.3" text-anchor="middle" font-weight="normal">2000</text>
<line x1="377.90" y1="60.80" x2="382.70" y2="60.80" stroke="#222" stroke-width="0.9"/>
<line x1="377.90" y1="44.25" x2="382.70" y2="44.25" stroke="#222" stroke-width="0.9"/>
<text x="0" y="0" transform="translate(371.40,44.25) rotate(-90) scale(1,1.1)" font-size="9.3" text-anchor="middle" font-weight="normal">4000</text>
<line x1="377.90" y1="27.70" x2="382.70" y2="27.70" stroke="#222" stroke-width="0.9"/>
<text x="0" y="0" transform="translate(441.50,144.70) scale(1,1.2)" font-size="8.5" text-anchor="middle" font-weight="normal">Human TSS</text>
<text x="0" y="0" transform="translate(358.80,69.22) rotate(-90) scale(1,1.2)" font-size="8.5" text-anchor="middle" font-weight="normal">Rhesus TSS</text>
<text x="0" y="0" transform="translate(617.95,8.70) scale(1,1.05)" font-size="9.5" text-anchor="middle" font-weight="bold">Rhesus</text>
<line x1="572.99" y1="110.45" x2="572.99" y2="27.70" stroke="#666" stroke-width="0.9" stroke-dasharray="1,3"/>
<polyline points="562.10,110.45 567.55,41.35 572.99,27.70 578.44,27.70 583.88,27.70 589.33,27.70 594.77,27.70 600.22,27.70 605.66,27.70 611.11,27.70 616.55,27.70 622.00,27.70 627.44,27.70 632.88,27.70 638.33,27.70 643.77,27.70 649.22,27.70 654.66,27.70 660.11,27.70 665.55,27.70 671.00,27.70" fill="none" stroke="#000" stroke-width="0.9" stroke-dasharray="1,3,4,3"/>
<circle cx="562.10" cy="110.45" r="2.1" fill="#000"/>
<circle cx="567.55" cy="41.35" r="2.1" fill="#000"/>
<circle cx="572.99" cy="27.70" r="2.1" fill="#000"/>
<circle cx="578.44" cy="27.70" r="2.1" fill="#000"/>
<circle cx="583.88" cy="27.70" r="2.1" fill="#000"/>
<circle cx="589.33" cy="27.70" r="2.1" fill="#000"/>
<circle cx="594.77" cy="27.70" r="2.1" fill="#000"/>
<circle cx="600.22" cy="27.70" r="2.1" fill="#000"/>
<circle cx="605.66" cy="27.70" r="2.1" fill="#000"/>
<circle cx="611.11" cy="27.70" r="2.1" fill="#000"/>
<circle cx="616.55" cy="27.70" r="2.1" fill="#000"/>
<circle cx="622.00" cy="27.70" r="2.1" fill="#000"/>
<circle cx="627.44" cy="27.70" r="2.1" fill="#000"/>
<circle cx="632.88" cy="27.70" r="2.1" fill="#000"/>
<circle cx="638.33" cy="27.70" r="2.1" fill="#000"/>
<circle cx="643.77" cy="27.70" r="2.1" fill="#000"/>
<circle cx="649.22" cy="27.70" r="2.1" fill="#000"/>
<circle cx="654.66" cy="27.70" r="2.1" fill="#000"/>
<circle cx="660.11" cy="27.70" r="2.1" fill="#000"/>
<circle cx="665.55" cy="27.70" r="2.1" fill="#000"/>
<circle cx="671.00" cy="27.70" r="2.1" fill="#000"/>
<polyline points="562.10,110.20 567.55,73.13 572.99,62.37 578.44,59.23 583.88,57.82 589.33,56.66 594.77,55.17 600.22,53.93 605.66,52.86 611.11,52.11 616.55,51.78 622.00,51.28 627.44,50.62 632.88,49.71 638.33,48.88 643.77,48.39 649.22,47.64 654.66,47.06 660.11,46.15 665.55,45.66 671.00,45.24" fill="none" stroke="#33cc33" stroke-width="0.9"/>
<path d="M559.70,110.20h4.8M562.10,107.80v4.8M565.15,73.13h4.8M567.55,70.73v4.8M570.59,62.37h4.8M572.99,59.97v4.8M576.04,59.23h4.8M578.44,56.83v4.8M581.48,57.82h4.8M583.88,55.42v4.8M586.93,56.66h4.8M589.33,54.26v4.8M592.37,55.17h4.8M594.77,52.77v4.8M597.82,53.93h4.8M600.22,51.53v4.8M603.26,52.86h4.8M605.66,50.46v4.8M608.71,52.11h4.8M611.11,49.71v4.8M614.15,51.78h4.8M616.55,49.38v4.8M619.60,51.28h4.8M622.00,48.88v4.8M625.04,50.62h4.8M627.44,48.22v4.8M630.49,49.71h4.8M632.88,47.31v4.8M635.93,48.88h4.8M638.33,46.48v4.8M641.38,48.39h4.8M643.77,45.99v4.8M646.82,47.64h4.8M649.22,45.24v4.8M652.26,47.06h4.8M654.66,44.66v4.8M657.71,46.15h4.8M660.11,43.75v4.8M663.15,45.66h4.8M665.55,43.26v4.8M668.60,45.24h4.8M671.00,42.84v4.8" stroke="#33cc33" stroke-width="0.9"/>
<rect x="557.60" y="24.45" width="117.70" height="89.55" fill="none" stroke="#222" stroke-width="0.9"/>
<line x1="562.10" y1="114.00" x2="562.10" y2="118.80" stroke="#222" stroke-width="0.9"/>
<text x="0" y="0" transform="translate(562.10,130.90) scale(1,1.1)" font-size="9.3" text-anchor="middle" font-weight="normal">0</text>
<line x1="583.88" y1="114.00" x2="583.88" y2="118.80" stroke="#222" stroke-width="0.9"/>
<text x="0" y="0" transform="translate(583.88,130.90) scale(1,1.1)" font-size="9.3" text-anchor="middle" font-weight="normal">2000</text>
<line x1="605.66" y1="114.00" x2="605.66" y2="118.80" stroke="#222" stroke-width="0.9"/>
<line x1="627.44" y1="114.00" x2="627.44" y2="118.80" stroke="#222" stroke-width="0.9"/>
<text x="0" y="0" transform="translate(627.44,130.90) scale(1,1.1)" font-size="9.3" text-anchor="middle" font-weight="normal">6000</text>
<line x1="649.22" y1="114.00" x2="649.22" y2="118.80" stroke="#222" stroke-width="0.9"/>
<line x1="671.00" y1="114.00" x2="671.00" y2="118.80" stroke="#222" stroke-width="0.9"/>
<text x="0" y="0" transform="translate(671.00,130.90) scale(1,1.1)" font-size="9.3" text-anchor="middle" font-weight="normal">10000</text>
<line x1="552.80" y1="110.45" x2="557.60" y2="110.45" stroke="#222" stroke-width="0.9"/>
<text x="0" y="0" transform="translate(546.30,110.45) rotate(-90) scale(1,1.1)" font-size="9.3" text-anchor="middle" font-weight="normal">0</text>
<line x1="552.80" y1="93.90" x2="557.60" y2="93.90" stroke="#222" stroke-width="0.9"/>
<text x="0" y="0" transform="translate(546.30,93.90) rotate(-90) scale(1,1.1)" font-size="9.3" text-anchor="middle" font-weight="normal">20</text>
<line x1="552.80" y1="77.35" x2="557.60" y2="77.35" stroke="#222" stroke-width="0.9"/>
<line x1="552.80" y1="60.80" x2="557.60" y2="60.80" stroke="#222" stroke-width="0.9"/>
<text x="0" y="0" transform="translate(546.30,60.80) rotate(-90) scale(1,1.1)" font-size="9.3" text-anchor="middle" font-weight="normal">60</text>
<line x1="552.80" y1="44.25" x2="557.60" y2="44.25" stroke="#222" stroke-width="0.9"/>
<line x1="552.80" y1="27.70" x2="557.60" y2="27.70" stroke="#222" stroke-width="0.9"/>
<text x="0" y="0" transform="translate(546.30,27.70) rotate(-90) scale(1,1.1)" font-size="9.3" text-anchor="middle" font-weight="normal">100</text>
<text x="0" y="0" transform="translate(616.45,144.70) scale(1,1.2)" font-size="8.5" text-anchor="middle" font-weight="normal">TSS</text>
<text x="0" y="0" transform="translate(533.70,69.22) rotate(-90) scale(1,1.2)" font-size="8.5" text-anchor="middle" font-weight="normal">Cumulative percentage(%)</text>
<text x="0" y="0" transform="translate(93.20,183.30) scale(1,1.05)" font-size="9.5" text-anchor="middle" font-weight="bold">Dog</text>
<clipPath id="cp1_0"><rect x="32.90" y="199.00" width="117.60" height="89.60"/></clipPath>
<line x1="36.60" y1="285.40" x2="146.50" y2="268.85" stroke="#f22" stroke-width="0.9"/>
<path clip-path="url(#cp1_0)" d="M44.45,199.90a1.85,1.85 0 1,0 -3.7,0a1.85,1.85 0 1,0 3.7,0M46.25,201.60a1.85,1.85 0 1,0 -3.7,0a1.85,1.85 0 1,0 3.7,0M47.95,200.80a1.85,1.85 0 1,0 -3.7,0a1.85,1.85 0 1,0 3.7,0M46.25,203.40a1.85,1.85 0 1,0 -3.7,0a1.85,1.85 0 1,0 3.7,0M49.35,202.10a1.85,1.85 0 1,0 -3.7,0a1.85,1.85 0 1,0 3.7,0M66.85,199.40a1.85,1.85 0 1,0 -3.7,0a1.85,1.85 0 1,0 3.7,0M53.65,205.80a1.85,1.85 0 1,0 -3.7,0a1.85,1.85 0 1,0 3.7,0M61.55,205.60a1.85,1.85 0 1,0 -3.7,0a1.85,1.85 0 1,0 3.7,0M47.95,209.10a1.85,1.85 0 1,0 -3.7,0a1.85,1.85 0 1,0 3.7,0M52.85,211.70a1.85,1.85 0 1,0 -3.7,0a1.85,1.85 0 1,0 3.7,0M58.45,209.10a1.85,1.85 0 1,0 -3.7,0a1.85,1.85 0 1,0 3.7,0M58.45,212.10a1.85,1.85 0 1,0 -3.7,0a1.85,1.85 0 1,0 3.7,0M62.85,210.40a1.85,1.85 0 1,0 -3.7,0a1.85,1.85 0 1,0 3.7,0M61.15,208.20a1.85,1.85 0 1,0 -3.7,0a1.85,1.85 0 1,0 3.7,0M72.55,207.10a1.85,1.85 0 1,0 -3.7,0a1.85,1.85 0 1,0 3.7,0M75.15,214.90a1.85,1.85 0 1,0 -3.7,0a1.85,1.85 0 1,0 3.7,0M79.55,219.00a1.85,1.85 0 1,0 -3.7,0a1.85,1.85 0 1,0 3.7,0M81.25,223.50a1.85,1.85 0 1,0 -3.7,0a1.85,1.85 0 1,0 3.7,0M84.75,227.20a1.85,1.85 0 1,0 -3.7,0a1.85,1.85 0 1,0 3.7,0M93.05,218.40a1.85,1.85 0 1,0 -3.7,0a1.85,1.85 0 1,0 3.7,0M51.05,216.30a1.85,1.85 0 1,0 -3.7,0a1.85,1.85 0 1,0 3.7,0M54.95,217.40a1.85,1.85 0 1,0 -3.7,0a1.85,1.85 0 1,0 3.7,0M62.75,218.40a1.85,1.85 0 1,0 -3.7,0a1.85,1.85 0 1,0 3.7,0M42.75,224.00a1.85,1.85 0 1,0 -3.7,0a1.85,1.85 0 1,0 3.7,0M49.95,223.10a1.85,1.85 0 1,0 -3.7,0a1.85,1.85 0 1,0 3.7,0M62.85,224.60a1.85,1.85 0 1,0 -3.7,0a1.85,1.85 0 1,0 3.7,0M60.65,226.20a1.85,1.85 0 1,0 -3.7,0a1.85,1.85 0 1,0 3.7,0M59.35,231.40a1.85,1.85 0 1,0 -3.7,0a1.85,1.85 0 1,0 3.7,0M62.05,231.40a1.85,1.85 0 1,0 -3.7,0a1.85,1.85 0 1,0 3.7,0M48.45,233.30a1.85,1.85 0 1,0 -3.7,0a1.85,1.85 0 1,0 3.7,0M48.45,233.80a1.85,1.85 0 1,0 -3.7,0a1.85,1.85 0 1,0 3.7,0M41.45,236.00a1.85,1.85 0 1,0 -3.7,0a1.85,1.85 0 1,0 3.7,0M47.95,237.10a1.85,1.85 0 1,0 -3.7,0a1.85,1.85 0 1,0 3.7,0M53.65,238.00a1.85,1.85 0 1,0 -3.7,0a1.85,1.85 0 1,0 3.7,0M54.95,239.30a1.85,1.85 0 1,0 -3.7,0a1.85,1.85 0 1,0 3.7,0M54.35,238.80a1.85,1.85 0 1,0 -3.7,0a1.85,1.85 0 1,0 3.7,0M47.15,241.70a1.85,1.85 0 1,0 -3.7,0a1.85,1.85 0 1,0 3.7,0M51.05,240.20a1.85,1.85 0 1,0 -3.7,0a1.85,1.85 0 1,0 3.7,0M62.85,241.70a1.85,1.85 0 1,0 -3.7,0a1.85,1.85 0 1,0 3.7,0M65.05,235.60a1.85,1.85 0 1,0 -3.7,0a1.85,1.85 0 1,0 3.7,0M68.15,236.20a1.85,1.85 0 1,0 -3.7,0a1.85,1.85 0 1,0 3.7,0M74.75,234.00a1.85,1.85 0 1,0 -3.7,0a1.85,1.85 0 1,0 3.7,0M72.55,237.50a1.85,1.85 0 1,0 -3.7,0a1.85,1.85 0 1,0 3.7,0M76.45,237.50a1.85,1.85 0 1,0 -3.7,0a1.85,1.85 0 1,0 3.7,0M68.55,239.70a1.85,1.85 0 1,0 -3.7,0a1.85,1.85 0 1,0 3.7,0M77.75,242.40a1.85,1.85 0 1,0 -3.7,0a1.85,1.85 0 1,0 3.7,0M73.35,242.80a1.85,1.85 0 1,0 -3.7,0a1.85,1.85 0 1,0 3.7,0M90.05,235.80a1.85,1.85 0 1,0 -3.7,0a1.85,1.85 0 1,0 3.7,0M87.45,243.70a1.85,1.85 0 1,0 -3.7,0a1.85,1.85 0 1,0 3.7,0M90.95,242.40a1.85,1.85 0 1,0 -3.7,0a1.85,1.85 0 1,0 3.7,0M93.55,241.50a1.85,1.85 0 1,0 -3.7,0a1.85,1.85 0 1,0 3.7,0M104.35,206.10a1.85,1.85 0 1,0 -3.7,0a1.85,1.85 0 1,0 3.7,0M106.25,209.70a1.85,1.85 0 1,0 -3.7,0a1.85,1.85 0 1,0 3.7,0M109.65,216.80a1.85,1.85 0 1,0 -3.7,0a1.85,1.85 0 1,0 3.7,0M114.55,219.00a1.85,1.85 0 1,0 -3.7,0a1.85,1.85 0 1,0 3.7,0M95.45,240.00a1.85,1.85 0 1,0 -3.7,0a1.85,1.85 0 1,0 3.7,0M93.15,242.60a1.85,1.85 0 1,0 -3.7,0a1.85,1.85 0 1,0 3.7,0M42.25,252.20a1.85,1.85 0 1,0 -3.7,0a1.85,1.85 0 1,0 3.7,0M40.95,262.30a1.85,1.85 0 1,0 -3.7,0a1.85,1.85 0 1,0 3.7,0M43.65,260.50a1.85,1.85 0 1,0 -3.7,0a1.85,1.85 0 1,0 3.7,0M62.45,248.30a1.85,1.85 0 1,0 -3.7,0a1.85,1.85 0 1,0 3.7,0M65.05,250.70a1.85,1.85 0 1,0 -3.7,0a1.85,1.85 0 1,0 3.7,0M61.55,252.60a1.85,1.85 0 1,0 -3.7,0a1.85,1.85 0 1,0 3.7,0M60.25,256.10a1.85,1.85 0 1,0 -3.7,0a1.85,1.85 0 1,0 3.7,0M57.15,257.50a1.85,1.85 0 1,0 -3.7,0a1.85,1.85 0 1,0 3.7,0M56.85,258.80a1.85,1.85 0 1,0 -3.7,0a1.85,1.85 0 1,0 3.7,0M72.95,243.90a1.85,1.85 0 1,0 -3.7,0a1.85,1.85 0 1,0 3.7,0M77.75,243.40a1.85,1.85 0 1,0 -3.7,0a1.85,1.85 0 1,0 3.7,0M72.55,252.20a1.85,1.85 0 1,0 -3.7,0a1.85,1.85 0 1,0 3.7,0M76.45,252.80a1.85,1.85 0 1,0 -3.7,0a1.85,1.85 0 1,0 3.7,0M68.55,255.40a1.85,1.85 0 1,0 -3.7,0a1.85,1.85 0 1,0 3.7,0M82.55,255.30a1.85,1.85 0 1,0 -3.7,0a1.85,1.85 0 1,0 3.7,0M84.75,250.00a1.85,1.85 0 1,0 -3.7,0a1.85,1.85 0 1,0 3.7,0M87.45,246.50a1.85,1.85 0 1,0 -3.7,0a1.85,1.85 0 1,0 3.7,0M90.05,248.30a1.85,1.85 0 1,0 -3.7,0a1.85,1.85 0 1,0 3.7,0M94.45,252.60a1.85,1.85 0 1,0 -3.7,0a1.85,1.85 0 1,0 3.7,0M66.85,261.00a1.85,1.85 0 1,0 -3.7,0a1.85,1.85 0 1,0 3.7,0M68.15,262.30a1.85,1.85 0 1,0 -3.7,0a1.85,1.85 0 1,0 3.7,0M74.75,262.10a1.85,1.85 0 1,0 -3.7,0a1.85,1.85 0 1,0 3.7,0M60.25,263.60a1.85,1.85 0 1,0 -3.7,0a1.85,1.85 0 1,0 3.7,0M66.85,265.60a1.85,1.85 0 1,0 -3.7,0a1.85,1.85 0 1,0 3.7,0M71.65,266.60a1.85,1.85 0 1,0 -3.7,0a1.85,1.85 0 1,0 3.7,0M89.55,259.60a1.85,1.85 0 1,0 -3.7,0a1.85,1.85 0 1,0 3.7,0M90.95,261.80a1.85,1.85 0 1,0 -3.7,0a1.85,1.85 0 1,0 3.7,0M79.55,268.40a1.85,1.85 0 1,0 -3.7,0a1.85,1.85 0 1,0 3.7,0M80.05,268.00a1.85,1.85 0 1,0 -3.7,0a1.85,1.85 0 1,0 3.7,0M79.15,268.90a1.85,1.85 0 1,0 -3.7,0a1.85,1.85 0 1,0 3.7,0M76.85,272.30a1.85,1.85 0 1,0 -3.7,0a1.85,1.85 0 1,0 3.7,0M82.55,275.00a1.85,1.85 0 1,0 -3.7,0a1.85,1.85 0 1,0 3.7,0M86.55,271.90a1.85,1.85 0 1,0 -3.7,0a1.85,1.85 0 1,0 3.7,0M89.15,273.70a1.85,1.85 0 1,0 -3.7,0a1.85,1.85 0 1,0 3.7,0M92.65,270.20a1.85,1.85 0 1,0 -3.7,0a1.85,1.85 0 1,0 3.7,0M92.65,274.50a1.85,1.85 0 1,0 -3.7,0a1.85,1.85 0 1,0 3.7,0M81.75,282.90a1.85,1.85 0 1,0 -3.7,0a1.85,1.85 0 1,0 3.7,0M85.65,281.50a1.85,1.85 0 1,0 -3.7,0a1.85,1.85 0 1,0 3.7,0M88.25,279.80a1.85,1.85 0 1,0 -3.7,0a1.85,1.85 0 1,0 3.7,0M91.75,280.70a1.85,1.85 0 1,0 -3.7,0a1.85,1.85 0 1,0 3.7,0M61.15,285.50a1.85,1.85 0 1,0 -3.7,0a1.85,1.85 0 1,0 3.7,0M65.05,285.50a1.85,1.85 0 1,0 -3.7,0a1.85,1.85 0 1,0 3.7,0M68.15,285.00a1.85,1.85 0 1,0 -3.7,0a1.85,1.85 0 1,0 3.7,0M38.75,278.00a1.85,1.85 0 1,0 -3.7,0a1.85,1.85 0 1,0 3.7,0M131.45,247.00a1.85,1.85 0 1,0 -3.7,0a1.85,1.85 0 1,0 3.7,0M143.45,246.40a1.85,1.85 0 1,0 -3.7,0a1.85,1.85 0 1,0 3.7,0M133.75,251.50a1.85,1.85 0 1,0 -3.7,0a1.85,1.85 0 1,0 3.7,0M94.95,252.60a1.85,1.85 0 1,0 -3.7,0a1.85,1.85 0 1,0 3.7,0M98.05,253.90a1.85,1.85 0 1,0 -3.7,0a1.85,1.85 0 1,0 3.7,0M106.55,257.20a1.85,1.85 0 1,0 -3.7,0a1.85,1.85 0 1,0 3.7,0M113.25,257.70a1.85,1.85 0 1,0 -3.7,0a1.85,1.85 0 1,0 3.7,0M118.15,260.80a1.85,1.85 0 1,0 -3.7,0a1.85,1.85 0 1,0 3.7,0M126.55,256.20a1.85,1.85 0 1,0 -3.7,0a1.85,1.85 0 1,0 3.7,0M135.95,259.00a1.85,1.85 0 1,0 -3.7,0a1.85,1.85 0 1,0 3.7,0M139.05,258.10a1.85,1.85 0 1,0 -3.7,0a1.85,1.85 0 1,0 3.7,0M147.95,259.90a1.85,1.85 0 1,0 -3.7,0a1.85,1.85 0 1,0 3.7,0M97.65,264.40a1.85,1.85 0 1,0 -3.7,0a1.85,1.85 0 1,0 3.7,0M92.35,268.50a1.85,1.85 0 1,0 -3.7,0a1.85,1.85 0 1,0 3.7,0M94.35,269.50a1.85,1.85 0 1,0 -3.7,0a1.85,1.85 0 1,0 3.7,0M96.35,268.20a1.85,1.85 0 1,0 -3.7,0a1.85,1.85 0 1,0 3.7,0M98.35,269.50a1.85,1.85 0 1,0 -3.7,0a1.85,1.85 0 1,0 3.7,0M100.35,270.20a1.85,1.85 0 1,0 -3.7,0a1.85,1.85 0 1,0 3.7,0M102.35,271.00a1.85,1.85 0 1,0 -3.7,0a1.85,1.85 0 1,0 3.7,0M92.85,272.00a1.85,1.85 0 1,0 -3.7,0a1.85,1.85 0 1,0 3.7,0M95.35,272.50a1.85,1.85 0 1,0 -3.7,0a1.85,1.85 0 1,0 3.7,0M97.85,273.00a1.85,1.85 0 1,0 -3.7,0a1.85,1.85 0 1,0 3.7,0M100.85,273.50a1.85,1.85 0 1,0 -3.7,0a1.85,1.85 0 1,0 3.7,0M93.85,275.50a1.85,1.85 0 1,0 -3.7,0a1.85,1.85 0 1,0 3.7,0M96.85,276.00a1.85,1.85 0 1,0 -3.7,0a1.85,1.85 0 1,0 3.7,0M107.85,268.80a1.85,1.85 0 1,0 -3.7,0a1.85,1.85 0 1,0 3.7,0M112.75,269.70a1.85,1.85 0 1,0 -3.7,0a1.85,1.85 0 1,0 3.7,0M108.75,274.20a1.85,1.85 0 1,0 -3.7,0a1.85,1.85 0 1,0 3.7,0M119.45,267.90a1.85,1.85 0 1,0 -3.7,0a1.85,1.85 0 1,0 3.7,0M118.55,269.70a1.85,1.85 0 1,0 -3.7,0a1.85,1.85 0 1,0 3.7,0M122.55,271.50a1.85,1.85 0 1,0 -3.7,0a1.85,1.85 0 1,0 3.7,0M124.85,270.60a1.85,1.85 0 1,0 -3.7,0a1.85,1.85 0 1,0 3.7,0M127.95,266.20a1.85,1.85 0 1,0 -3.7,0a1.85,1.85 0 1,0 3.7,0M130.55,264.80a1.85,1.85 0 1,0 -3.7,0a1.85,1.85 0 1,0 3.7,0M133.25,265.30a1.85,1.85 0 1,0 -3.7,0a1.85,1.85 0 1,0 3.7,0M135.45,266.20a1.85,1.85 0 1,0 -3.7,0a1.85,1.85 0 1,0 3.7,0M138.15,266.60a1.85,1.85 0 1,0 -3.7,0a1.85,1.85 0 1,0 3.7,0M140.35,266.60a1.85,1.85 0 1,0 -3.7,0a1.85,1.85 0 1,0 3.7,0M132.85,268.40a1.85,1.85 0 1,0 -3.7,0a1.85,1.85 0 1,0 3.7,0M135.45,270.60a1.85,1.85 0 1,0 -3.7,0a1.85,1.85 0 1,0 3.7,0M100.35,280.00a1.85,1.85 0 1,0 -3.7,0a1.85,1.85 0 1,0 3.7,0M92.25,280.80a1.85,1.85 0 1,0 -3.7,0a1.85,1.85 0 1,0 3.7,0M97.15,285.30a1.85,1.85 0 1,0 -3.7,0a1.85,1.85 0 1,0 3.7,0M95.45,278.20a1.85,1.85 0 1,0 -3.7,0a1.85,1.85 0 1,0 3.7,0M121.65,281.50a1.85,1.85 0 1,0 -3.7,0a1.85,1.85 0 1,0 3.7,0M140.85,279.10a1.85,1.85 0 1,0 -3.7,0a1.85,1.85 0 1,0 3.7,0M50.63,255.43a1.85,1.85 0 1,0 -3.7,0a1.85,1.85 0 1,0 3.7,0M42.67,265.67a1.85,1.85 0 1,0 -3.7,0a1.85,1.85 0 1,0 3.7,0M51.47,251.40a1.85,1.85 0 1,0 -3.7,0a1.85,1.85 0 1,0 3.7,0M51.17,263.44a1.85,1.85 0 1,0 -3.7,0a1.85,1.85 0 1,0 3.7,0M44.04,267.72a1.85,1.85 0 1,0 -3.7,0a1.85,1.85 0 1,0 3.7,0M52.00,259.47a1.85,1.85 0 1,0 -3.7,0a1.85,1.85 0 1,0 3.7,0M47.02,264.44a1.85,1.85 0 1,0 -3.7,0a1.85,1.85 0 1,0 3.7,0M53.59,244.46a1.85,1.85 0 1,0 -3.7,0a1.85,1.85 0 1,0 3.7,0M53.77,258.45a1.85,1.85 0 1,0 -3.7,0a1.85,1.85 0 1,0 3.7,0M55.24,269.62a1.85,1.85 0 1,0 -3.7,0a1.85,1.85 0 1,0 3.7,0M44.31,260.86a1.85,1.85 0 1,0 -3.7,0a1.85,1.85 0 1,0 3.7,0M52.68,260.01a1.85,1.85 0 1,0 -3.7,0a1.85,1.85 0 1,0 3.7,0M48.54,257.29a1.85,1.85 0 1,0 -3.7,0a1.85,1.85 0 1,0 3.7,0M49.47,260.13a1.85,1.85 0 1,0 -3.7,0a1.85,1.85 0 1,0 3.7,0M49.80,264.11a1.85,1.85 0 1,0 -3.7,0a1.85,1.85 0 1,0 3.7,0M56.24,264.50a1.85,1.85 0 1,0 -3.7,0a1.85,1.85 0 1,0 3.7,0M44.81,264.15a1.85,1.85 0 1,0 -3.7,0a1.85,1.85 0 1,0 3.7,0M57.51,267.08a1.85,1.85 0 1,0 -3.7,0a1.85,1.85 0 1,0 3.7,0M57.41,268.45a1.85,1.85 0 1,0 -3.7,0a1.85,1.85 0 1,0 3.7,0M47.84,249.26a1.85,1.85 0 1,0 -3.7,0a1.85,1.85 0 1,0 3.7,0M51.84,260.93a1.85,1.85 0 1,0 -3.7,0a1.85,1.85 0 1,0 3.7,0M52.43,252.52a1.85,1.85 0 1,0 -3.7,0a1.85,1.85 0 1,0 3.7,0M53.37,260.53a1.85,1.85 0 1,0 -3.7,0a1.85,1.85 0 1,0 3.7,0M44.49,262.56a1.85,1.85 0 1,0 -3.7,0a1.85,1.85 0 1,0 3.7,0M44.68,257.91a1.85,1.85 0 1,0 -3.7,0a1.85,1.85 0 1,0 3.7,0M45.09,260.08a1.85,1.85 0 1,0 -3.7,0a1.85,1.85 0 1,0 3.7,0M51.66,254.14a1.85,1.85 0 1,0 -3.7,0a1.85,1.85 0 1,0 3.7,0M47.96,251.59a1.85,1.85 0 1,0 -3.7,0a1.85,1.85 0 1,0 3.7,0M47.44,261.53a1.85,1.85 0 1,0 -3.7,0a1.85,1.85 0 1,0 3.7,0M45.39,262.20a1.85,1.85 0 1,0 -3.7,0a1.85,1.85 0 1,0 3.7,0M55.04,261.02a1.85,1.85 0 1,0 -3.7,0a1.85,1.85 0 1,0 3.7,0M47.46,264.42a1.85,1.85 0 1,0 -3.7,0a1.85,1.85 0 1,0 3.7,0M52.30,249.42a1.85,1.85 0 1,0 -3.7,0a1.85,1.85 0 1,0 3.7,0M52.49,251.20a1.85,1.85 0 1,0 -3.7,0a1.85,1.85 0 1,0 3.7,0M53.19,252.45a1.85,1.85 0 1,0 -3.7,0a1.85,1.85 0 1,0 3.7,0M47.66,257.23a1.85,1.85 0 1,0 -3.7,0a1.85,1.85 0 1,0 3.7,0M53.93,248.50a1.85,1.85 0 1,0 -3.7,0a1.85,1.85 0 1,0 3.7,0M51.99,258.82a1.85,1.85 0 1,0 -3.7,0a1.85,1.85 0 1,0 3.7,0M51.82,259.99a1.85,1.85 0 1,0 -3.7,0a1.85,1.85 0 1,0 3.7,0M51.32,270.48a1.85,1.85 0 1,0 -3.7,0a1.85,1.85 0 1,0 3.7,0M45.00,266.14a1.85,1.85 0 1,0 -3.7,0a1.85,1.85 0 1,0 3.7,0M45.00,257.53a1.85,1.85 0 1,0 -3.7,0a1.85,1.85 0 1,0 3.7,0M52.62,266.95a1.85,1.85 0 1,0 -3.7,0a1.85,1.85 0 1,0 3.7,0M52.39,264.10a1.85,1.85 0 1,0 -3.7,0a1.85,1.85 0 1,0 3.7,0M51.01,262.17a1.85,1.85 0 1,0 -3.7,0a1.85,1.85 0 1,0 3.7,0M49.76,257.61a1.85,1.85 0 1,0 -3.7,0a1.85,1.85 0 1,0 3.7,0M56.47,262.97a1.85,1.85 0 1,0 -3.7,0a1.85,1.85 0 1,0 3.7,0M53.75,259.18a1.85,1.85 0 1,0 -3.7,0a1.85,1.85 0 1,0 3.7,0M44.72,258.56a1.85,1.85 0 1,0 -3.7,0a1.85,1.85 0 1,0 3.7,0M53.53,246.56a1.85,1.85 0 1,0 -3.7,0a1.85,1.85 0 1,0 3.7,0M53.05,262.08a1.85,1.85 0 1,0 -3.7,0a1.85,1.85 0 1,0 3.7,0M47.41,252.32a1.85,1.85 0 1,0 -3.7,0a1.85,1.85 0 1,0 3.7,0M44.16,267.60a1.85,1.85 0 1,0 -3.7,0a1.85,1.85 0 1,0 3.7,0M47.96,254.24a1.85,1.85 0 1,0 -3.7,0a1.85,1.85 0 1,0 3.7,0M54.61,253.30a1.85,1.85 0 1,0 -3.7,0a1.85,1.85 0 1,0 3.7,0M49.60,247.17a1.85,1.85 0 1,0 -3.7,0a1.85,1.85 0 1,0 3.7,0M43.75,263.75a1.85,1.85 0 1,0 -3.7,0a1.85,1.85 0 1,0 3.7,0M53.00,248.82a1.85,1.85 0 1,0 -3.7,0a1.85,1.85 0 1,0 3.7,0M53.33,260.04a1.85,1.85 0 1,0 -3.7,0a1.85,1.85 0 1,0 3.7,0M45.54,263.08a1.85,1.85 0 1,0 -3.7,0a1.85,1.85 0 1,0 3.7,0M44.39,269.79a1.85,1.85 0 1,0 -3.7,0a1.85,1.85 0 1,0 3.7,0M51.43,259.66a1.85,1.85 0 1,0 -3.7,0a1.85,1.85 0 1,0 3.7,0M52.45,268.08a1.85,1.85 0 1,0 -3.7,0a1.85,1.85 0 1,0 3.7,0M52.23,243.75a1.85,1.85 0 1,0 -3.7,0a1.85,1.85 0 1,0 3.7,0M48.95,262.77a1.85,1.85 0 1,0 -3.7,0a1.85,1.85 0 1,0 3.7,0M48.71,247.28a1.85,1.85 0 1,0 -3.7,0a1.85,1.85 0 1,0 3.7,0M52.11,263.94a1.85,1.85 0 1,0 -3.7,0a1.85,1.85 0 1,0 3.7,0M51.78,253.88a1.85,1.85 0 1,0 -3.7,0a1.85,1.85 0 1,0 3.7,0M51.69,246.49a1.85,1.85 0 1,0 -3.7,0a1.85,1.85 0 1,0 3.7,0M43.56,264.52a1.85,1.85 0 1,0 -3.7,0a1.85,1.85 0 1,0 3.7,0M40.22,276.02a1.85,1.85 0 1,0 -3.7,0a1.85,1.85 0 1,0 3.7,0M43.04,273.13a1.85,1.85 0 1,0 -3.7,0a1.85,1.85 0 1,0 3.7,0M56.79,285.01a1.85,1.85 0 1,0 -3.7,0a1.85,1.85 0 1,0 3.7,0M64.01,271.96a1.85,1.85 0 1,0 -3.7,0a1.85,1.85 0 1,0 3.7,0M51.25,274.86a1.85,1.85 0 1,0 -3.7,0a1.85,1.85 0 1,0 3.7,0M48.00,276.88a1.85,1.85 0 1,0 -3.7,0a1.85,1.85 0 1,0 3.7,0M46.30,276.18a1.85,1.85 0 1,0 -3.7,0a1.85,1.85 0 1,0 3.7,0M59.96,270.63a1.85,1.85 0 1,0 -3.7,0a1.85,1.85 0 1,0 3.7,0M46.28,273.83a1.85,1.85 0 1,0 -3.7,0a1.85,1.85 0 1,0 3.7,0M52.39,280.11a1.85,1.85 0 1,0 -3.7,0a1.85,1.85 0 1,0 3.7,0M45.91,275.61a1.85,1.85 0 1,0 -3.7,0a1.85,1.85 0 1,0 3.7,0M65.12,271.90a1.85,1.85 0 1,0 -3.7,0a1.85,1.85 0 1,0 3.7,0M41.73,278.01a1.85,1.85 0 1,0 -3.7,0a1.85,1.85 0 1,0 3.7,0M68.11,280.88a1.85,1.85 0 1,0 -3.7,0a1.85,1.85 0 1,0 3.7,0M51.29,284.92a1.85,1.85 0 1,0 -3.7,0a1.85,1.85 0 1,0 3.7,0M60.59,283.95a1.85,1.85 0 1,0 -3.7,0a1.85,1.85 0 1,0 3.7,0M46.51,271.42a1.85,1.85 0 1,0 -3.7,0a1.85,1.85 0 1,0 3.7,0M42.24,273.61a1.85,1.85 0 1,0 -3.7,0a1.85,1.85 0 1,0 3.7,0M53.25,280.38a1.85,1.85 0 1,0 -3.7,0a1.85,1.85 0 1,0 3.7,0M71.65,278.23a1.85,1.85 0 1,0 -3.7,0a1.85,1.85 0 1,0 3.7,0M70.42,273.16a1.85,1.85 0 1,0 -3.7,0a1.85,1.85 0 1,0 3.7,0M56.53,277.93a1.85,1.85 0 1,0 -3.7,0a1.85,1.85 0 1,0 3.7,0M46.81,285.10a1.85,1.85 0 1,0 -3.7,0a1.85,1.85 0 1,0 3.7,0M38.49,274.74a1.85,1.85 0 1,0 -3.7,0a1.85,1.85 0 1,0 3.7,0M63.70,274.13a1.85,1.85 0 1,0 -3.7,0a1.85,1.85 0 1,0 3.7,0M56.45,281.38a1.85,1.85 0 1,0 -3.7,0a1.85,1.85 0 1,0 3.7,0M60.34,271.90a1.85,1.85 0 1,0 -3.7,0a1.85,1.85 0 1,0 3.7,0M46.92,283.35a1.85,1.85 0 1,0 -3.7,0a1.85,1.85 0 1,0 3.7,0M63.43,278.88a1.85,1.85 0 1,0 -3.7,0a1.85,1.85 0 1,0 3.7,0M77.19,276.95a1.85,1.85 0 1,0 -3.7,0a1.85,1.85 0 1,0 3.7,0M59.73,273.74a1.85,1.85 0 1,0 -3.7,0a1.85,1.85 0 1,0 3.7,0M59.61,278.44a1.85,1.85 0 1,0 -3.7,0a1.85,1.85 0 1,0 3.7,0M74.54,274.42a1.85,1.85 0 1,0 -3.7,0a1.85,1.85 0 1,0 3.7,0M46.71,287.90a1.85,1.85 0 1,0 -3.7,0a1.85,1.85 0 1,0 3.7,0M51.97,272.12a1.85,1.85 0 1,0 -3.7,0a1.85,1.85 0 1,0 3.7,0M39.02,286.49a1.85,1.85 0 1,0 -3.7,0a1.85,1.85 0 1,0 3.7,0M58.25,277.10a1.85,1.85 0 1,0 -3.7,0a1.85,1.85 0 1,0 3.7,0M59.22,281.17a1.85,1.85 0 1,0 -3.7,0a1.85,1.85 0 1,0 3.7,0M69.51,276.65a1.85,1.85 0 1,0 -3.7,0a1.85,1.85 0 1,0 3.7,0M63.18,274.06a1.85,1.85 0 1,0 -3.7,0a1.85,1.85 0 1,0 3.7,0M55.50,282.89a1.85,1.85 0 1,0 -3.7,0a1.85,1.85 0 1,0 3.7,0M48.97,278.44a1.85,1.85 0 1,0 -3.7,0a1.85,1.85 0 1,0 3.7,0M42.97,287.60a1.85,1.85 0 1,0 -3.7,0a1.85,1.85 0 1,0 3.7,0M69.52,278.09a1.85,1.85 0 1,0 -3.7,0a1.85,1.85 0 1,0 3.7,0M45.26,278.19a1.85,1.85 0 1,0 -3.7,0a1.85,1.85 0 1,0 3.7,0M40.85,284.38a1.85,1.85 0 1,0 -3.7,0a1.85,1.85 0 1,0 3.7,0M67.65,276.39a1.85,1.85 0 1,0 -3.7,0a1.85,1.85 0 1,0 3.7,0M65.99,271.71a1.85,1.85 0 1,0 -3.7,0a1.85,1.85 0 1,0 3.7,0M67.13,279.49a1.85,1.85 0 1,0 -3.7,0a1.85,1.85 0 1,0 3.7,0M48.18,277.07a1.85,1.85 0 1,0 -3.7,0a1.85,1.85 0 1,0 3.7,0M45.53,278.69a1.85,1.85 0 1,0 -3.7,0a1.85,1.85 0 1,0 3.7,0M60.07,279.22a1.85,1.85 0 1,0 -3.7,0a1.85,1.85 0 1,0 3.7,0M66.14,277.81a1.85,1.85 0 1,0 -3.7,0a1.85,1.85 0 1,0 3.7,0M58.18,285.20a1.85,1.85 0 1,0 -3.7,0a1.85,1.85 0 1,0 3.7,0M68.08,273.91a1.85,1.85 0 1,0 -3.7,0a1.85,1.85 0 1,0 3.7,0M75.76,280.47a1.85,1.85 0 1,0 -3.7,0a1.85,1.85 0 1,0 3.7,0M48.80,277.39a1.85,1.85 0 1,0 -3.7,0a1.85,1.85 0 1,0 3.7,0M58.95,284.94a1.85,1.85 0 1,0 -3.7,0a1.85,1.85 0 1,0 3.7,0M38.78,274.06a1.85,1.85 0 1,0 -3.7,0a1.85,1.85 0 1,0 3.7,0M57.18,275.09a1.85,1.85 0 1,0 -3.7,0a1.85,1.85 0 1,0 3.7,0M57.31,278.71a1.85,1.85 0 1,0 -3.7,0a1.85,1.85 0 1,0 3.7,0M40.57,276.34a1.85,1.85 0 1,0 -3.7,0a1.85,1.85 0 1,0 3.7,0M57.88,278.05a1.85,1.85 0 1,0 -3.7,0a1.85,1.85 0 1,0 3.7,0M63.51,275.50a1.85,1.85 0 1,0 -3.7,0a1.85,1.85 0 1,0 3.7,0M39.94,278.02a1.85,1.85 0 1,0 -3.7,0a1.85,1.85 0 1,0 3.7,0M49.38,280.07a1.85,1.85 0 1,0 -3.7,0a1.85,1.85 0 1,0 3.7,0M53.65,280.94a1.85,1.85 0 1,0 -3.7,0a1.85,1.85 0 1,0 3.7,0M40.98,282.32a1.85,1.85 0 1,0 -3.7,0a1.85,1.85 0 1,0 3.7,0M43.42,278.12a1.85,1.85 0 1,0 -3.7,0a1.85,1.85 0 1,0 3.7,0M72.06,276.22a1.85,1.85 0 1,0 -3.7,0a1.85,1.85 0 1,0 3.7,0M52.06,274.74a1.85,1.85 0 1,0 -3.7,0a1.85,1.85 0 1,0 3.7,0M41.13,277.55a1.85,1.85 0 1,0 -3.7,0a1.85,1.85 0 1,0 3.7,0M45.90,275.89a1.85,1.85 0 1,0 -3.7,0a1.85,1.85 0 1,0 3.7,0M44.88,277.23a1.85,1.85 0 1,0 -3.7,0a1.85,1.85 0 1,0 3.7,0M42.31,283.61a1.85,1.85 0 1,0 -3.7,0a1.85,1.85 0 1,0 3.7,0M59.57,274.93a1.85,1.85 0 1,0 -3.7,0a1.85,1.85 0 1,0 3.7,0M60.43,271.25a1.85,1.85 0 1,0 -3.7,0a1.85,1.85 0 1,0 3.7,0M58.72,277.92a1.85,1.85 0 1,0 -3.7,0a1.85,1.85 0 1,0 3.7,0M70.19,276.38a1.85,1.85 0 1,0 -3.7,0a1.85,1.85 0 1,0 3.7,0M71.67,281.84a1.85,1.85 0 1,0 -3.7,0a1.85,1.85 0 1,0 3.7,0M69.08,279.37a1.85,1.85 0 1,0 -3.7,0a1.85,1.85 0 1,0 3.7,0M73.96,279.24a1.85,1.85 0 1,0 -3.7,0a1.85,1.85 0 1,0 3.7,0M59.11,273.77a1.85,1.85 0 1,0 -3.7,0a1.85,1.85 0 1,0 3.7,0M61.61,272.76a1.85,1.85 0 1,0 -3.7,0a1.85,1.85 0 1,0 3.7,0M57.85,279.17a1.85,1.85 0 1,0 -3.7,0a1.85,1.85 0 1,0 3.7,0M53.00,286.40a1.85,1.85 0 1,0 -3.7,0a1.85,1.85 0 1,0 3.7,0M53.92,277.35a1.85,1.85 0 1,0 -3.7,0a1.85,1.85 0 1,0 3.7,0M56.13,275.04a1.85,1.85 0 1,0 -3.7,0a1.85,1.85 0 1,0 3.7,0M51.09,282.80a1.85,1.85 0 1,0 -3.7,0a1.85,1.85 0 1,0 3.7,0M44.74,282.68a1.85,1.85 0 1,0 -3.7,0a1.85,1.85 0 1,0 3.7,0M59.36,277.98a1.85,1.85 0 1,0 -3.7,0a1.85,1.85 0 1,0 3.7,0M39.65,285.91a1.85,1.85 0 1,0 -3.7,0a1.85,1.85 0 1,0 3.7,0M58.14,274.54a1.85,1.85 0 1,0 -3.7,0a1.85,1.85 0 1,0 3.7,0M48.07,284.81a1.85,1.85 0 1,0 -3.7,0a1.85,1.85 0 1,0 3.7,0M44.82,275.59a1.85,1.85 0 1,0 -3.7,0a1.85,1.85 0 1,0 3.7,0M46.74,284.74a1.85,1.85 0 1,0 -3.7,0a1.85,1.85 0 1,0 3.7,0M61.29,279.91a1.85,1.85 0 1,0 -3.7,0a1.85,1.85 0 1,0 3.7,0M44.89,280.66a1.85,1.85 0 1,0 -3.7,0a1.85,1.85 0 1,0 3.7,0M71.11,276.55a1.85,1.85 0 1,0 -3.7,0a1.85,1.85 0 1,0 3.7,0M68.02,277.16a1.85,1.85 0 1,0 -3.7,0a1.85,1.85 0 1,0 3.7,0M62.68,278.83a1.85,1.85 0 1,0 -3.7,0a1.85,1.85 0 1,0 3.7,0M64.61,281.71a1.85,1.85 0 1,0 -3.7,0a1.85,1.85 0 1,0 3.7,0M75.88,277.47a1.85,1.85 0 1,0 -3.7,0a1.85,1.85 0 1,0 3.7,0M74.09,278.55a1.85,1.85 0 1,0 -3.7,0a1.85,1.85 0 1,0 3.7,0M53.17,276.28a1.85,1.85 0 1,0 -3.7,0a1.85,1.85 0 1,0 3.7,0M72.36,279.23a1.85,1.85 0 1,0 -3.7,0a1.85,1.85 0 1,0 3.7,0M47.25,284.66a1.85,1.85 0 1,0 -3.7,0a1.85,1.85 0 1,0 3.7,0M40.21,279.49a1.85,1.85 0 1,0 -3.7,0a1.85,1.85 0 1,0 3.7,0M71.43,276.31a1.85,1.85 0 1,0 -3.7,0a1.85,1.85 0 1,0 3.7,0M39.94,276.66a1.85,1.85 0 1,0 -3.7,0a1.85,1.85 0 1,0 3.7,0" fill="none" stroke="#000" stroke-width="0.8"/>
<line x1="37.50" y1="285.26" x2="76.00" y2="279.47" stroke="#660000" stroke-width="2.4" stroke-linecap="round"/>
<circle cx="36.60" cy="285.40" r="1.85" fill="none" stroke="#f00" stroke-width="0.8"/>
<circle cx="146.50" cy="268.85" r="1.85" fill="none" stroke="#f00" stroke-width="0.8"/>
<rect x="32.90" y="199.00" width="117.60" height="89.60" fill="none" stroke="#222" stroke-width="0.9"/>
<line x1="36.60" y1="288.60" x2="36.60" y2="293.40" stroke="#222" stroke-width="0.9"/>
<text x="0" y="0" transform="translate(36.60,305.85) scale(1,1.1)" font-size="9.3" text-anchor="middle" font-weight="normal">0</text>
<line x1="58.58" y1="288.60" x2="58.58" y2="293.40" stroke="#222" stroke-width="0.9"/>
<text x="0" y="0" transform="translate(58.58,305.85) scale(1,1.1)" font-size="9.3" text-anchor="middle" font-weight="normal">200</text>
<line x1="80.56" y1="288.60" x2="80.56" y2="293.40" stroke="#222" stroke-width="0.9"/>
<line x1="102.54" y1="288.60" x2="102.54" y2="293.40" stroke="#222" stroke-width="0.9"/>
<text x="0" y="0" transform="translate(102.54,305.85) scale(1,1.1)" font-size="9.3" text-anchor="middle" font-weight="normal">600</text>
<line x1="124.52" y1="288.60" x2="124.52" y2="293.40" stroke="#222" stroke-width="0.9"/>
<line x1="146.50" y1="288.60" x2="146.50" y2="293.40" stroke="#222" stroke-width="0.9"/>
<text x="0" y="0" transform="translate(146.50,305.85) scale(1,1.1)" font-size="9.3" text-anchor="middle" font-weight="normal">1000</text>
<line x1="28.10" y1="285.40" x2="32.90" y2="285.40" stroke="#222" stroke-width="0.9"/>
<text x="0" y="0" transform="translate(21.60,285.40) rotate(-90) scale(1,1.1)" font-size="9.3" text-anchor="middle" font-weight="normal">0</text>
<line x1="28.10" y1="268.85" x2="32.90" y2="268.85" stroke="#222" stroke-width="0.9"/>
<line x1="28.10" y1="252.30" x2="32.90" y2="252.30" stroke="#222" stroke-width="0.9"/>
<text x="0" y="0" transform="translate(21.60,252.30) rotate(-90) scale(1,1.1)" font-size="9.3" text-anchor="middle" font-weight="normal">2000</text>
<line x1="28.10" y1="235.75" x2="32.90" y2="235.75" stroke="#222" stroke-width="0.9"/>
<line x1="28.10" y1="219.20" x2="32.90" y2="219.20" stroke="#222" stroke-width="0.9"/>
<text x="0" y="0" transform="translate(21.60,219.20) rotate(-90) scale(1,1.1)" font-size="9.3" text-anchor="middle" font-weight="normal">4000</text>
<line x1="28.10" y1="202.65" x2="32.90" y2="202.65" stroke="#222" stroke-width="0.9"/>
<text x="0" y="0" transform="translate(91.70,319.65) scale(1,1.2)" font-size="8.5" text-anchor="middle" font-weight="normal">Human TSS</text>
<text x="0" y="0" transform="translate(9.00,243.80) rotate(-90) scale(1,1.2)" font-size="8.5" text-anchor="middle" font-weight="normal">Dog TSS</text>
<text x="0" y="0" transform="translate(268.05,183.30) scale(1,1.05)" font-size="9.5" text-anchor="middle" font-weight="bold">Dog</text>
<line x1="223.19" y1="285.40" x2="223.19" y2="202.65" stroke="#666" stroke-width="0.9" stroke-dasharray="1,3"/>
<polyline points="212.30,285.40 217.75,216.72 223.19,202.65 228.63,202.65 234.08,202.65 239.53,202.65 244.97,202.65 250.41,202.65 255.86,202.65 261.31,202.65 266.75,202.65 272.19,202.65 277.64,202.65 283.08,202.65 288.53,202.65 293.98,202.65 299.42,202.65 304.87,202.65 310.31,202.65 315.75,202.65 321.20,202.65" fill="none" stroke="#000" stroke-width="0.9" stroke-dasharray="1,3,4,3"/>
<circle cx="212.30" cy="285.40" r="2.1" fill="#000"/>
<circle cx="217.75" cy="216.72" r="2.1" fill="#000"/>
<circle cx="223.19" cy="202.65" r="2.1" fill="#000"/>
<circle cx="228.63" cy="202.65" r="2.1" fill="#000"/>
<circle cx="234.08" cy="202.65" r="2.1" fill="#000"/>
<circle cx="239.53" cy="202.65" r="2.1" fill="#000"/>
<circle cx="244.97" cy="202.65" r="2.1" fill="#000"/>
<circle cx="250.41" cy="202.65" r="2.1" fill="#000"/>
<circle cx="255.86" cy="202.65" r="2.1" fill="#000"/>
<circle cx="261.31" cy="202.65" r="2.1" fill="#000"/>
<circle cx="266.75" cy="202.65" r="2.1" fill="#000"/>
<circle cx="272.19" cy="202.65" r="2.1" fill="#000"/>
<circle cx="277.64" cy="202.65" r="2.1" fill="#000"/>
<circle cx="283.08" cy="202.65" r="2.1" fill="#000"/>
<circle cx="288.53" cy="202.65" r="2.1" fill="#000"/>
<circle cx="293.98" cy="202.65" r="2.1" fill="#000"/>
<circle cx="299.42" cy="202.65" r="2.1" fill="#000"/>
<circle cx="304.87" cy="202.65" r="2.1" fill="#000"/>
<circle cx="310.31" cy="202.65" r="2.1" fill="#000"/>
<circle cx="315.75" cy="202.65" r="2.1" fill="#000"/>
<circle cx="321.20" cy="202.65" r="2.1" fill="#000"/>
<polyline points="212.30,285.15 217.75,268.68 223.19,258.01 228.63,251.06 234.08,247.17 239.53,243.94 244.97,240.47 250.41,239.06 255.86,237.82 261.31,236.41 266.75,235.09 272.19,234.09 277.64,233.18 283.08,232.11 288.53,231.03 293.98,230.12 299.42,229.21 304.87,228.30 310.31,227.81 315.75,226.90 321.20,226.23" fill="none" stroke="#33cc33" stroke-width="0.9"/>
<path d="M209.90,285.15h4.8M212.30,282.75v4.8M215.34,268.68h4.8M217.75,266.28v4.8M220.79,258.01h4.8M223.19,255.61v4.8M226.23,251.06h4.8M228.63,248.66v4.8M231.68,247.17h4.8M234.08,244.77v4.8M237.12,243.94h4.8M239.53,241.54v4.8M242.57,240.47h4.8M244.97,238.07v4.8M248.01,239.06h4.8M250.41,236.66v4.8M253.46,237.82h4.8M255.86,235.42v4.8M258.91,236.41h4.8M261.31,234.01v4.8M264.35,235.09h4.8M266.75,232.69v4.8M269.80,234.09h4.8M272.19,231.69v4.8M275.24,233.18h4.8M277.64,230.78v4.8M280.69,232.11h4.8M283.08,229.71v4.8M286.13,231.03h4.8M288.53,228.63v4.8M291.58,230.12h4.8M293.98,227.72v4.8M297.02,229.21h4.8M299.42,226.81v4.8M302.47,228.30h4.8M304.87,225.90v4.8M307.91,227.81h4.8M310.31,225.41v4.8M313.36,226.90h4.8M315.75,224.50v4.8M318.80,226.23h4.8M321.20,223.83v4.8" stroke="#33cc33" stroke-width="0.9"/>
<rect x="207.70" y="199.00" width="117.70" height="89.60" fill="none" stroke="#222" stroke-width="0.9"/>
<line x1="212.30" y1="288.60" x2="212.30" y2="293.40" stroke="#222" stroke-width="0.9"/>
<text x="0" y="0" transform="translate(212.30,305.85) scale(1,1.1)" font-size="9.3" text-anchor="middle" font-weight="normal">0</text>
<line x1="234.08" y1="288.60" x2="234.08" y2="293.40" stroke="#222" stroke-width="0.9"/>
<text x="0" y="0" transform="translate(234.08,305.85) scale(1,1.1)" font-size="9.3" text-anchor="middle" font-weight="normal">2000</text>
<line x1="255.86" y1="288.60" x2="255.86" y2="293.40" stroke="#222" stroke-width="0.9"/>
<line x1="277.64" y1="288.60" x2="277.64" y2="293.40" stroke="#222" stroke-width="0.9"/>
<text x="0" y="0" transform="translate(277.64,305.85) scale(1,1.1)" font-size="9.3" text-anchor="middle" font-weight="normal">6000</text>
<line x1="299.42" y1="288.60" x2="299.42" y2="293.40" stroke="#222" stroke-width="0.9"/>
<line x1="321.20" y1="288.60" x2="321.20" y2="293.40" stroke="#222" stroke-width="0.9"/>
<text x="0" y="0" transform="translate(321.20,305.85) scale(1,1.1)" font-size="9.3" text-anchor="middle" font-weight="normal">10000</text>
<line x1="202.90" y1="285.40" x2="207.70" y2="285.40" stroke="#222" stroke-width="0.9"/>
<text x="0" y="0" transform="translate(196.40,285.40) rotate(-90) scale(1,1.1)" font-size="9.3" text-anchor="middle" font-weight="normal">0</text>
<line x1="202.90" y1="268.85" x2="207.70" y2="268.85" stroke="#222" stroke-width="0.9"/>
<text x="0" y="0" transform="translate(196.40,268.85) rotate(-90) scale(1,1.1)" font-size="9.3" text-anchor="middle" font-weight="normal">20</text>
<line x1="202.90" y1="252.30" x2="207.70" y2="252.30" stroke="#222" stroke-width="0.9"/>
<line x1="202.90" y1="235.75" x2="207.70" y2="235.75" stroke="#222" stroke-width="0.9"/>
<text x="0" y="0" transform="translate(196.40,235.75) rotate(-90) scale(1,1.1)" font-size="9.3" text-anchor="middle" font-weight="normal">60</text>
<line x1="202.90" y1="219.20" x2="207.70" y2="219.20" stroke="#222" stroke-width="0.9"/>
<line x1="202.90" y1="202.65" x2="207.70" y2="202.65" stroke="#222" stroke-width="0.9"/>
<text x="0" y="0" transform="translate(196.40,202.65) rotate(-90) scale(1,1.1)" font-size="9.3" text-anchor="middle" font-weight="normal">100</text>
<text x="0" y="0" transform="translate(266.55,319.65) scale(1,1.2)" font-size="8.5" text-anchor="middle" font-weight="normal">TSS</text>
<text x="0" y="0" transform="translate(183.80,243.80) rotate(-90) scale(1,1.2)" font-size="8.5" text-anchor="middle" font-weight="normal">Cumulative percentage(%)</text>
<text x="0" y="0" transform="translate(443.00,183.30) scale(1,1.05)" font-size="9.5" text-anchor="middle" font-weight="bold">Mouse</text>
<clipPath id="cp1_2"><rect x="382.70" y="199.00" width="117.60" height="89.60"/></clipPath>
<line x1="386.50" y1="285.40" x2="496.40" y2="268.85" stroke="#f22" stroke-width="0.9"/>
<path clip-path="url(#cp1_2)" d="M392.65,201.60a1.85,1.85 0 1,0 -3.7,0a1.85,1.85 0 1,0 3.7,0M409.65,206.90a1.85,1.85 0 1,0 -3.7,0a1.85,1.85 0 1,0 3.7,0M402.95,211.40a1.85,1.85 0 1,0 -3.7,0a1.85,1.85 0 1,0 3.7,0M412.05,212.00a1.85,1.85 0 1,0 -3.7,0a1.85,1.85 0 1,0 3.7,0M428.95,208.20a1.85,1.85 0 1,0 -3.7,0a1.85,1.85 0 1,0 3.7,0M438.55,215.60a1.85,1.85 0 1,0 -3.7,0a1.85,1.85 0 1,0 3.7,0M406.15,221.30a1.85,1.85 0 1,0 -3.7,0a1.85,1.85 0 1,0 3.7,0M393.05,224.00a1.85,1.85 0 1,0 -3.7,0a1.85,1.85 0 1,0 3.7,0M395.25,226.20a1.85,1.85 0 1,0 -3.7,0a1.85,1.85 0 1,0 3.7,0M397.45,224.40a1.85,1.85 0 1,0 -3.7,0a1.85,1.85 0 1,0 3.7,0M401.85,224.80a1.85,1.85 0 1,0 -3.7,0a1.85,1.85 0 1,0 3.7,0M426.75,224.00a1.85,1.85 0 1,0 -3.7,0a1.85,1.85 0 1,0 3.7,0M439.95,224.10a1.85,1.85 0 1,0 -3.7,0a1.85,1.85 0 1,0 3.7,0M403.95,230.70a1.85,1.85 0 1,0 -3.7,0a1.85,1.85 0 1,0 3.7,0M407.05,230.40a1.85,1.85 0 1,0 -3.7,0a1.85,1.85 0 1,0 3.7,0M411.45,227.90a1.85,1.85 0 1,0 -3.7,0a1.85,1.85 0 1,0 3.7,0M411.45,229.70a1.85,1.85 0 1,0 -3.7,0a1.85,1.85 0 1,0 3.7,0M416.65,230.50a1.85,1.85 0 1,0 -3.7,0a1.85,1.85 0 1,0 3.7,0M394.55,240.60a1.85,1.85 0 1,0 -3.7,0a1.85,1.85 0 1,0 3.7,0M443.45,243.20a1.85,1.85 0 1,0 -3.7,0a1.85,1.85 0 1,0 3.7,0M466.75,203.00a1.85,1.85 0 1,0 -3.7,0a1.85,1.85 0 1,0 3.7,0M482.35,207.00a1.85,1.85 0 1,0 -3.7,0a1.85,1.85 0 1,0 3.7,0M452.55,231.20a1.85,1.85 0 1,0 -3.7,0a1.85,1.85 0 1,0 3.7,0M448.05,234.20a1.85,1.85 0 1,0 -3.7,0a1.85,1.85 0 1,0 3.7,0M444.55,243.50a1.85,1.85 0 1,0 -3.7,0a1.85,1.85 0 1,0 3.7,0M406.15,246.70a1.85,1.85 0 1,0 -3.7,0a1.85,1.85 0 1,0 3.7,0M413.65,249.00a1.85,1.85 0 1,0 -3.7,0a1.85,1.85 0 1,0 3.7,0M416.65,249.60a1.85,1.85 0 1,0 -3.7,0a1.85,1.85 0 1,0 3.7,0M422.35,245.20a1.85,1.85 0 1,0 -3.7,0a1.85,1.85 0 1,0 3.7,0M425.85,250.00a1.85,1.85 0 1,0 -3.7,0a1.85,1.85 0 1,0 3.7,0M436.45,246.50a1.85,1.85 0 1,0 -3.7,0a1.85,1.85 0 1,0 3.7,0M400.95,251.80a1.85,1.85 0 1,0 -3.7,0a1.85,1.85 0 1,0 3.7,0M400.45,254.40a1.85,1.85 0 1,0 -3.7,0a1.85,1.85 0 1,0 3.7,0M398.35,256.60a1.85,1.85 0 1,0 -3.7,0a1.85,1.85 0 1,0 3.7,0M407.45,254.20a1.85,1.85 0 1,0 -3.7,0a1.85,1.85 0 1,0 3.7,0M391.75,258.80a1.85,1.85 0 1,0 -3.7,0a1.85,1.85 0 1,0 3.7,0M394.85,257.50a1.85,1.85 0 1,0 -3.7,0a1.85,1.85 0 1,0 3.7,0M395.25,260.50a1.85,1.85 0 1,0 -3.7,0a1.85,1.85 0 1,0 3.7,0M395.65,263.60a1.85,1.85 0 1,0 -3.7,0a1.85,1.85 0 1,0 3.7,0M402.25,261.00a1.85,1.85 0 1,0 -3.7,0a1.85,1.85 0 1,0 3.7,0M400.95,264.00a1.85,1.85 0 1,0 -3.7,0a1.85,1.85 0 1,0 3.7,0M406.65,264.90a1.85,1.85 0 1,0 -3.7,0a1.85,1.85 0 1,0 3.7,0M411.45,264.90a1.85,1.85 0 1,0 -3.7,0a1.85,1.85 0 1,0 3.7,0M430.75,261.80a1.85,1.85 0 1,0 -3.7,0a1.85,1.85 0 1,0 3.7,0M442.05,260.50a1.85,1.85 0 1,0 -3.7,0a1.85,1.85 0 1,0 3.7,0M396.15,270.20a1.85,1.85 0 1,0 -3.7,0a1.85,1.85 0 1,0 3.7,0M399.15,271.00a1.85,1.85 0 1,0 -3.7,0a1.85,1.85 0 1,0 3.7,0M402.25,271.00a1.85,1.85 0 1,0 -3.7,0a1.85,1.85 0 1,0 3.7,0M405.75,269.30a1.85,1.85 0 1,0 -3.7,0a1.85,1.85 0 1,0 3.7,0M407.95,272.80a1.85,1.85 0 1,0 -3.7,0a1.85,1.85 0 1,0 3.7,0M414.05,271.00a1.85,1.85 0 1,0 -3.7,0a1.85,1.85 0 1,0 3.7,0M417.15,270.60a1.85,1.85 0 1,0 -3.7,0a1.85,1.85 0 1,0 3.7,0M428.05,269.70a1.85,1.85 0 1,0 -3.7,0a1.85,1.85 0 1,0 3.7,0M427.65,273.20a1.85,1.85 0 1,0 -3.7,0a1.85,1.85 0 1,0 3.7,0M436.45,268.40a1.85,1.85 0 1,0 -3.7,0a1.85,1.85 0 1,0 3.7,0M440.35,268.80a1.85,1.85 0 1,0 -3.7,0a1.85,1.85 0 1,0 3.7,0M434.65,271.90a1.85,1.85 0 1,0 -3.7,0a1.85,1.85 0 1,0 3.7,0M481.45,250.10a1.85,1.85 0 1,0 -3.7,0a1.85,1.85 0 1,0 3.7,0M456.55,257.70a1.85,1.85 0 1,0 -3.7,0a1.85,1.85 0 1,0 3.7,0M468.55,264.80a1.85,1.85 0 1,0 -3.7,0a1.85,1.85 0 1,0 3.7,0M476.15,263.90a1.85,1.85 0 1,0 -3.7,0a1.85,1.85 0 1,0 3.7,0M497.95,264.40a1.85,1.85 0 1,0 -3.7,0a1.85,1.85 0 1,0 3.7,0M460.15,267.90a1.85,1.85 0 1,0 -3.7,0a1.85,1.85 0 1,0 3.7,0M454.75,269.70a1.85,1.85 0 1,0 -3.7,0a1.85,1.85 0 1,0 3.7,0M452.05,271.90a1.85,1.85 0 1,0 -3.7,0a1.85,1.85 0 1,0 3.7,0M465.85,267.50a1.85,1.85 0 1,0 -3.7,0a1.85,1.85 0 1,0 3.7,0M444.55,267.00a1.85,1.85 0 1,0 -3.7,0a1.85,1.85 0 1,0 3.7,0M462.75,279.50a1.85,1.85 0 1,0 -3.7,0a1.85,1.85 0 1,0 3.7,0M463.65,284.00a1.85,1.85 0 1,0 -3.7,0a1.85,1.85 0 1,0 3.7,0M472.15,279.50a1.85,1.85 0 1,0 -3.7,0a1.85,1.85 0 1,0 3.7,0M472.55,283.50a1.85,1.85 0 1,0 -3.7,0a1.85,1.85 0 1,0 3.7,0M477.95,283.50a1.85,1.85 0 1,0 -3.7,0a1.85,1.85 0 1,0 3.7,0M479.35,284.00a1.85,1.85 0 1,0 -3.7,0a1.85,1.85 0 1,0 3.7,0M478.65,283.00a1.85,1.85 0 1,0 -3.7,0a1.85,1.85 0 1,0 3.7,0M485.45,265.30a1.85,1.85 0 1,0 -3.7,0a1.85,1.85 0 1,0 3.7,0M489.95,266.60a1.85,1.85 0 1,0 -3.7,0a1.85,1.85 0 1,0 3.7,0M483.75,276.80a1.85,1.85 0 1,0 -3.7,0a1.85,1.85 0 1,0 3.7,0M486.35,276.40a1.85,1.85 0 1,0 -3.7,0a1.85,1.85 0 1,0 3.7,0M489.05,275.10a1.85,1.85 0 1,0 -3.7,0a1.85,1.85 0 1,0 3.7,0M491.75,274.60a1.85,1.85 0 1,0 -3.7,0a1.85,1.85 0 1,0 3.7,0M494.35,277.70a1.85,1.85 0 1,0 -3.7,0a1.85,1.85 0 1,0 3.7,0M482.85,279.10a1.85,1.85 0 1,0 -3.7,0a1.85,1.85 0 1,0 3.7,0M485.95,279.50a1.85,1.85 0 1,0 -3.7,0a1.85,1.85 0 1,0 3.7,0M489.05,280.40a1.85,1.85 0 1,0 -3.7,0a1.85,1.85 0 1,0 3.7,0M491.75,279.50a1.85,1.85 0 1,0 -3.7,0a1.85,1.85 0 1,0 3.7,0M486.35,282.20a1.85,1.85 0 1,0 -3.7,0a1.85,1.85 0 1,0 3.7,0M489.95,282.20a1.85,1.85 0 1,0 -3.7,0a1.85,1.85 0 1,0 3.7,0M492.65,282.60a1.85,1.85 0 1,0 -3.7,0a1.85,1.85 0 1,0 3.7,0M487.25,284.90a1.85,1.85 0 1,0 -3.7,0a1.85,1.85 0 1,0 3.7,0M480.15,271.50a1.85,1.85 0 1,0 -3.7,0a1.85,1.85 0 1,0 3.7,0M483.75,272.40a1.85,1.85 0 1,0 -3.7,0a1.85,1.85 0 1,0 3.7,0M488.15,269.70a1.85,1.85 0 1,0 -3.7,0a1.85,1.85 0 1,0 3.7,0M490.35,270.60a1.85,1.85 0 1,0 -3.7,0a1.85,1.85 0 1,0 3.7,0M475.65,275.50a1.85,1.85 0 1,0 -3.7,0a1.85,1.85 0 1,0 3.7,0M470.35,277.70a1.85,1.85 0 1,0 -3.7,0a1.85,1.85 0 1,0 3.7,0M468.55,271.50a1.85,1.85 0 1,0 -3.7,0a1.85,1.85 0 1,0 3.7,0M465.05,270.60a1.85,1.85 0 1,0 -3.7,0a1.85,1.85 0 1,0 3.7,0M416.14,277.52a1.85,1.85 0 1,0 -3.7,0a1.85,1.85 0 1,0 3.7,0M440.54,279.63a1.85,1.85 0 1,0 -3.7,0a1.85,1.85 0 1,0 3.7,0M430.81,278.26a1.85,1.85 0 1,0 -3.7,0a1.85,1.85 0 1,0 3.7,0M444.26,280.94a1.85,1.85 0 1,0 -3.7,0a1.85,1.85 0 1,0 3.7,0M458.47,277.83a1.85,1.85 0 1,0 -3.7,0a1.85,1.85 0 1,0 3.7,0M419.91,279.24a1.85,1.85 0 1,0 -3.7,0a1.85,1.85 0 1,0 3.7,0M440.85,277.20a1.85,1.85 0 1,0 -3.7,0a1.85,1.85 0 1,0 3.7,0M404.01,274.31a1.85,1.85 0 1,0 -3.7,0a1.85,1.85 0 1,0 3.7,0M404.88,274.79a1.85,1.85 0 1,0 -3.7,0a1.85,1.85 0 1,0 3.7,0M438.43,273.43a1.85,1.85 0 1,0 -3.7,0a1.85,1.85 0 1,0 3.7,0M442.30,274.40a1.85,1.85 0 1,0 -3.7,0a1.85,1.85 0 1,0 3.7,0M450.71,272.59a1.85,1.85 0 1,0 -3.7,0a1.85,1.85 0 1,0 3.7,0M438.36,282.72a1.85,1.85 0 1,0 -3.7,0a1.85,1.85 0 1,0 3.7,0M457.20,282.85a1.85,1.85 0 1,0 -3.7,0a1.85,1.85 0 1,0 3.7,0M411.99,284.55a1.85,1.85 0 1,0 -3.7,0a1.85,1.85 0 1,0 3.7,0M455.46,279.03a1.85,1.85 0 1,0 -3.7,0a1.85,1.85 0 1,0 3.7,0M393.67,284.12a1.85,1.85 0 1,0 -3.7,0a1.85,1.85 0 1,0 3.7,0M451.09,285.85a1.85,1.85 0 1,0 -3.7,0a1.85,1.85 0 1,0 3.7,0M387.64,279.44a1.85,1.85 0 1,0 -3.7,0a1.85,1.85 0 1,0 3.7,0M432.93,283.49a1.85,1.85 0 1,0 -3.7,0a1.85,1.85 0 1,0 3.7,0M398.17,284.11a1.85,1.85 0 1,0 -3.7,0a1.85,1.85 0 1,0 3.7,0M422.98,287.53a1.85,1.85 0 1,0 -3.7,0a1.85,1.85 0 1,0 3.7,0M441.22,277.44a1.85,1.85 0 1,0 -3.7,0a1.85,1.85 0 1,0 3.7,0M418.55,287.51a1.85,1.85 0 1,0 -3.7,0a1.85,1.85 0 1,0 3.7,0M432.49,282.59a1.85,1.85 0 1,0 -3.7,0a1.85,1.85 0 1,0 3.7,0M447.80,283.15a1.85,1.85 0 1,0 -3.7,0a1.85,1.85 0 1,0 3.7,0M404.51,285.10a1.85,1.85 0 1,0 -3.7,0a1.85,1.85 0 1,0 3.7,0M424.86,285.77a1.85,1.85 0 1,0 -3.7,0a1.85,1.85 0 1,0 3.7,0M434.02,279.95a1.85,1.85 0 1,0 -3.7,0a1.85,1.85 0 1,0 3.7,0M431.64,278.18a1.85,1.85 0 1,0 -3.7,0a1.85,1.85 0 1,0 3.7,0M414.83,285.97a1.85,1.85 0 1,0 -3.7,0a1.85,1.85 0 1,0 3.7,0M419.68,283.00a1.85,1.85 0 1,0 -3.7,0a1.85,1.85 0 1,0 3.7,0M404.37,282.32a1.85,1.85 0 1,0 -3.7,0a1.85,1.85 0 1,0 3.7,0M403.28,285.80a1.85,1.85 0 1,0 -3.7,0a1.85,1.85 0 1,0 3.7,0M454.12,283.56a1.85,1.85 0 1,0 -3.7,0a1.85,1.85 0 1,0 3.7,0M391.84,277.93a1.85,1.85 0 1,0 -3.7,0a1.85,1.85 0 1,0 3.7,0M432.50,284.82a1.85,1.85 0 1,0 -3.7,0a1.85,1.85 0 1,0 3.7,0M394.28,285.42a1.85,1.85 0 1,0 -3.7,0a1.85,1.85 0 1,0 3.7,0M397.48,283.66a1.85,1.85 0 1,0 -3.7,0a1.85,1.85 0 1,0 3.7,0M429.58,274.12a1.85,1.85 0 1,0 -3.7,0a1.85,1.85 0 1,0 3.7,0M398.44,281.24a1.85,1.85 0 1,0 -3.7,0a1.85,1.85 0 1,0 3.7,0M435.85,287.32a1.85,1.85 0 1,0 -3.7,0a1.85,1.85 0 1,0 3.7,0M457.32,279.45a1.85,1.85 0 1,0 -3.7,0a1.85,1.85 0 1,0 3.7,0M455.52,284.20a1.85,1.85 0 1,0 -3.7,0a1.85,1.85 0 1,0 3.7,0M404.44,286.91a1.85,1.85 0 1,0 -3.7,0a1.85,1.85 0 1,0 3.7,0M396.08,286.48a1.85,1.85 0 1,0 -3.7,0a1.85,1.85 0 1,0 3.7,0M456.71,279.12a1.85,1.85 0 1,0 -3.7,0a1.85,1.85 0 1,0 3.7,0M430.66,284.45a1.85,1.85 0 1,0 -3.7,0a1.85,1.85 0 1,0 3.7,0M441.82,284.70a1.85,1.85 0 1,0 -3.7,0a1.85,1.85 0 1,0 3.7,0M425.97,283.63a1.85,1.85 0 1,0 -3.7,0a1.85,1.85 0 1,0 3.7,0M441.67,281.92a1.85,1.85 0 1,0 -3.7,0a1.85,1.85 0 1,0 3.7,0M451.43,276.66a1.85,1.85 0 1,0 -3.7,0a1.85,1.85 0 1,0 3.7,0M413.93,277.64a1.85,1.85 0 1,0 -3.7,0a1.85,1.85 0 1,0 3.7,0M455.17,272.83a1.85,1.85 0 1,0 -3.7,0a1.85,1.85 0 1,0 3.7,0M394.14,281.00a1.85,1.85 0 1,0 -3.7,0a1.85,1.85 0 1,0 3.7,0M433.69,285.24a1.85,1.85 0 1,0 -3.7,0a1.85,1.85 0 1,0 3.7,0M421.56,284.78a1.85,1.85 0 1,0 -3.7,0a1.85,1.85 0 1,0 3.7,0M388.43,285.51a1.85,1.85 0 1,0 -3.7,0a1.85,1.85 0 1,0 3.7,0M409.24,285.73a1.85,1.85 0 1,0 -3.7,0a1.85,1.85 0 1,0 3.7,0M448.59,275.32a1.85,1.85 0 1,0 -3.7,0a1.85,1.85 0 1,0 3.7,0M446.74,281.01a1.85,1.85 0 1,0 -3.7,0a1.85,1.85 0 1,0 3.7,0M444.50,277.98a1.85,1.85 0 1,0 -3.7,0a1.85,1.85 0 1,0 3.7,0M426.87,282.50a1.85,1.85 0 1,0 -3.7,0a1.85,1.85 0 1,0 3.7,0M410.81,276.94a1.85,1.85 0 1,0 -3.7,0a1.85,1.85 0 1,0 3.7,0M450.44,281.61a1.85,1.85 0 1,0 -3.7,0a1.85,1.85 0 1,0 3.7,0M452.70,281.78a1.85,1.85 0 1,0 -3.7,0a1.85,1.85 0 1,0 3.7,0M437.88,279.00a1.85,1.85 0 1,0 -3.7,0a1.85,1.85 0 1,0 3.7,0M404.13,278.84a1.85,1.85 0 1,0 -3.7,0a1.85,1.85 0 1,0 3.7,0M413.47,276.93a1.85,1.85 0 1,0 -3.7,0a1.85,1.85 0 1,0 3.7,0M421.53,277.28a1.85,1.85 0 1,0 -3.7,0a1.85,1.85 0 1,0 3.7,0M438.89,279.90a1.85,1.85 0 1,0 -3.7,0a1.85,1.85 0 1,0 3.7,0M426.31,282.48a1.85,1.85 0 1,0 -3.7,0a1.85,1.85 0 1,0 3.7,0M391.36,285.81a1.85,1.85 0 1,0 -3.7,0a1.85,1.85 0 1,0 3.7,0M396.73,275.88a1.85,1.85 0 1,0 -3.7,0a1.85,1.85 0 1,0 3.7,0M416.23,286.85a1.85,1.85 0 1,0 -3.7,0a1.85,1.85 0 1,0 3.7,0M441.50,284.95a1.85,1.85 0 1,0 -3.7,0a1.85,1.85 0 1,0 3.7,0M402.07,286.38a1.85,1.85 0 1,0 -3.7,0a1.85,1.85 0 1,0 3.7,0M435.41,273.58a1.85,1.85 0 1,0 -3.7,0a1.85,1.85 0 1,0 3.7,0M425.97,286.63a1.85,1.85 0 1,0 -3.7,0a1.85,1.85 0 1,0 3.7,0M417.62,274.75a1.85,1.85 0 1,0 -3.7,0a1.85,1.85 0 1,0 3.7,0M437.15,281.67a1.85,1.85 0 1,0 -3.7,0a1.85,1.85 0 1,0 3.7,0M449.37,284.96a1.85,1.85 0 1,0 -3.7,0a1.85,1.85 0 1,0 3.7,0M443.95,279.10a1.85,1.85 0 1,0 -3.7,0a1.85,1.85 0 1,0 3.7,0M425.80,285.88a1.85,1.85 0 1,0 -3.7,0a1.85,1.85 0 1,0 3.7,0M444.62,281.91a1.85,1.85 0 1,0 -3.7,0a1.85,1.85 0 1,0 3.7,0M401.41,286.21a1.85,1.85 0 1,0 -3.7,0a1.85,1.85 0 1,0 3.7,0M443.68,280.31a1.85,1.85 0 1,0 -3.7,0a1.85,1.85 0 1,0 3.7,0M395.38,287.46a1.85,1.85 0 1,0 -3.7,0a1.85,1.85 0 1,0 3.7,0M429.46,283.29a1.85,1.85 0 1,0 -3.7,0a1.85,1.85 0 1,0 3.7,0M422.52,283.83a1.85,1.85 0 1,0 -3.7,0a1.85,1.85 0 1,0 3.7,0M439.67,283.70a1.85,1.85 0 1,0 -3.7,0a1.85,1.85 0 1,0 3.7,0M426.89,284.35a1.85,1.85 0 1,0 -3.7,0a1.85,1.85 0 1,0 3.7,0M414.32,280.05a1.85,1.85 0 1,0 -3.7,0a1.85,1.85 0 1,0 3.7,0M400.43,281.90a1.85,1.85 0 1,0 -3.7,0a1.85,1.85 0 1,0 3.7,0M401.17,279.31a1.85,1.85 0 1,0 -3.7,0a1.85,1.85 0 1,0 3.7,0M396.34,279.28a1.85,1.85 0 1,0 -3.7,0a1.85,1.85 0 1,0 3.7,0M407.25,275.47a1.85,1.85 0 1,0 -3.7,0a1.85,1.85 0 1,0 3.7,0M414.82,286.69a1.85,1.85 0 1,0 -3.7,0a1.85,1.85 0 1,0 3.7,0M421.84,283.62a1.85,1.85 0 1,0 -3.7,0a1.85,1.85 0 1,0 3.7,0M400.67,284.84a1.85,1.85 0 1,0 -3.7,0a1.85,1.85 0 1,0 3.7,0M446.33,285.42a1.85,1.85 0 1,0 -3.7,0a1.85,1.85 0 1,0 3.7,0M413.09,281.72a1.85,1.85 0 1,0 -3.7,0a1.85,1.85 0 1,0 3.7,0M400.14,275.77a1.85,1.85 0 1,0 -3.7,0a1.85,1.85 0 1,0 3.7,0M442.62,272.35a1.85,1.85 0 1,0 -3.7,0a1.85,1.85 0 1,0 3.7,0M424.66,274.83a1.85,1.85 0 1,0 -3.7,0a1.85,1.85 0 1,0 3.7,0M424.77,276.85a1.85,1.85 0 1,0 -3.7,0a1.85,1.85 0 1,0 3.7,0M424.72,287.41a1.85,1.85 0 1,0 -3.7,0a1.85,1.85 0 1,0 3.7,0M397.40,274.67a1.85,1.85 0 1,0 -3.7,0a1.85,1.85 0 1,0 3.7,0M423.79,286.95a1.85,1.85 0 1,0 -3.7,0a1.85,1.85 0 1,0 3.7,0M404.50,277.41a1.85,1.85 0 1,0 -3.7,0a1.85,1.85 0 1,0 3.7,0M426.01,284.97a1.85,1.85 0 1,0 -3.7,0a1.85,1.85 0 1,0 3.7,0M444.73,285.19a1.85,1.85 0 1,0 -3.7,0a1.85,1.85 0 1,0 3.7,0M387.36,281.87a1.85,1.85 0 1,0 -3.7,0a1.85,1.85 0 1,0 3.7,0M409.74,285.86a1.85,1.85 0 1,0 -3.7,0a1.85,1.85 0 1,0 3.7,0M456.93,274.58a1.85,1.85 0 1,0 -3.7,0a1.85,1.85 0 1,0 3.7,0M429.60,281.28a1.85,1.85 0 1,0 -3.7,0a1.85,1.85 0 1,0 3.7,0M445.02,282.69a1.85,1.85 0 1,0 -3.7,0a1.85,1.85 0 1,0 3.7,0M396.99,278.54a1.85,1.85 0 1,0 -3.7,0a1.85,1.85 0 1,0 3.7,0M440.31,276.42a1.85,1.85 0 1,0 -3.7,0a1.85,1.85 0 1,0 3.7,0M429.09,277.77a1.85,1.85 0 1,0 -3.7,0a1.85,1.85 0 1,0 3.7,0M432.62,278.27a1.85,1.85 0 1,0 -3.7,0a1.85,1.85 0 1,0 3.7,0M453.58,275.93a1.85,1.85 0 1,0 -3.7,0a1.85,1.85 0 1,0 3.7,0M408.31,287.57a1.85,1.85 0 1,0 -3.7,0a1.85,1.85 0 1,0 3.7,0M444.23,285.07a1.85,1.85 0 1,0 -3.7,0a1.85,1.85 0 1,0 3.7,0M389.17,278.79a1.85,1.85 0 1,0 -3.7,0a1.85,1.85 0 1,0 3.7,0M446.08,275.78a1.85,1.85 0 1,0 -3.7,0a1.85,1.85 0 1,0 3.7,0M453.35,285.24a1.85,1.85 0 1,0 -3.7,0a1.85,1.85 0 1,0 3.7,0M442.21,282.41a1.85,1.85 0 1,0 -3.7,0a1.85,1.85 0 1,0 3.7,0M416.61,286.85a1.85,1.85 0 1,0 -3.7,0a1.85,1.85 0 1,0 3.7,0M390.73,279.47a1.85,1.85 0 1,0 -3.7,0a1.85,1.85 0 1,0 3.7,0M401.56,279.87a1.85,1.85 0 1,0 -3.7,0a1.85,1.85 0 1,0 3.7,0M443.19,276.52a1.85,1.85 0 1,0 -3.7,0a1.85,1.85 0 1,0 3.7,0M403.30,277.20a1.85,1.85 0 1,0 -3.7,0a1.85,1.85 0 1,0 3.7,0M416.78,287.59a1.85,1.85 0 1,0 -3.7,0a1.85,1.85 0 1,0 3.7,0M421.81,277.47a1.85,1.85 0 1,0 -3.7,0a1.85,1.85 0 1,0 3.7,0M449.67,285.36a1.85,1.85 0 1,0 -3.7,0a1.85,1.85 0 1,0 3.7,0M392.96,284.98a1.85,1.85 0 1,0 -3.7,0a1.85,1.85 0 1,0 3.7,0M456.20,279.91a1.85,1.85 0 1,0 -3.7,0a1.85,1.85 0 1,0 3.7,0M406.10,287.76a1.85,1.85 0 1,0 -3.7,0a1.85,1.85 0 1,0 3.7,0M405.70,288.25a1.85,1.85 0 1,0 -3.7,0a1.85,1.85 0 1,0 3.7,0M415.17,276.72a1.85,1.85 0 1,0 -3.7,0a1.85,1.85 0 1,0 3.7,0M396.03,277.90a1.85,1.85 0 1,0 -3.7,0a1.85,1.85 0 1,0 3.7,0M441.81,272.82a1.85,1.85 0 1,0 -3.7,0a1.85,1.85 0 1,0 3.7,0M445.70,283.16a1.85,1.85 0 1,0 -3.7,0a1.85,1.85 0 1,0 3.7,0M409.07,277.70a1.85,1.85 0 1,0 -3.7,0a1.85,1.85 0 1,0 3.7,0M415.26,280.69a1.85,1.85 0 1,0 -3.7,0a1.85,1.85 0 1,0 3.7,0M440.36,280.65a1.85,1.85 0 1,0 -3.7,0a1.85,1.85 0 1,0 3.7,0M405.58,287.74a1.85,1.85 0 1,0 -3.7,0a1.85,1.85 0 1,0 3.7,0M408.71,275.30a1.85,1.85 0 1,0 -3.7,0a1.85,1.85 0 1,0 3.7,0M425.18,275.89a1.85,1.85 0 1,0 -3.7,0a1.85,1.85 0 1,0 3.7,0M447.39,278.16a1.85,1.85 0 1,0 -3.7,0a1.85,1.85 0 1,0 3.7,0M386.86,285.72a1.85,1.85 0 1,0 -3.7,0a1.85,1.85 0 1,0 3.7,0M398.98,280.56a1.85,1.85 0 1,0 -3.7,0a1.85,1.85 0 1,0 3.7,0M407.70,276.75a1.85,1.85 0 1,0 -3.7,0a1.85,1.85 0 1,0 3.7,0M426.66,286.26a1.85,1.85 0 1,0 -3.7,0a1.85,1.85 0 1,0 3.7,0M445.06,284.31a1.85,1.85 0 1,0 -3.7,0a1.85,1.85 0 1,0 3.7,0M409.62,283.48a1.85,1.85 0 1,0 -3.7,0a1.85,1.85 0 1,0 3.7,0M418.56,279.50a1.85,1.85 0 1,0 -3.7,0a1.85,1.85 0 1,0 3.7,0M430.90,273.80a1.85,1.85 0 1,0 -3.7,0a1.85,1.85 0 1,0 3.7,0M441.64,273.68a1.85,1.85 0 1,0 -3.7,0a1.85,1.85 0 1,0 3.7,0M404.09,283.90a1.85,1.85 0 1,0 -3.7,0a1.85,1.85 0 1,0 3.7,0M418.29,274.42a1.85,1.85 0 1,0 -3.7,0a1.85,1.85 0 1,0 3.7,0M457.60,283.65a1.85,1.85 0 1,0 -3.7,0a1.85,1.85 0 1,0 3.7,0M426.20,286.80a1.85,1.85 0 1,0 -3.7,0a1.85,1.85 0 1,0 3.7,0M443.36,275.26a1.85,1.85 0 1,0 -3.7,0a1.85,1.85 0 1,0 3.7,0M422.40,273.90a1.85,1.85 0 1,0 -3.7,0a1.85,1.85 0 1,0 3.7,0M459.42,284.09a1.85,1.85 0 1,0 -3.7,0a1.85,1.85 0 1,0 3.7,0M423.03,275.41a1.85,1.85 0 1,0 -3.7,0a1.85,1.85 0 1,0 3.7,0M400.42,281.05a1.85,1.85 0 1,0 -3.7,0a1.85,1.85 0 1,0 3.7,0M398.75,280.80a1.85,1.85 0 1,0 -3.7,0a1.85,1.85 0 1,0 3.7,0M447.92,277.46a1.85,1.85 0 1,0 -3.7,0a1.85,1.85 0 1,0 3.7,0M407.50,288.11a1.85,1.85 0 1,0 -3.7,0a1.85,1.85 0 1,0 3.7,0M404.39,277.37a1.85,1.85 0 1,0 -3.7,0a1.85,1.85 0 1,0 3.7,0M411.97,287.20a1.85,1.85 0 1,0 -3.7,0a1.85,1.85 0 1,0 3.7,0M429.90,287.56a1.85,1.85 0 1,0 -3.7,0a1.85,1.85 0 1,0 3.7,0M402.86,287.52a1.85,1.85 0 1,0 -3.7,0a1.85,1.85 0 1,0 3.7,0M451.17,281.01a1.85,1.85 0 1,0 -3.7,0a1.85,1.85 0 1,0 3.7,0M426.84,287.55a1.85,1.85 0 1,0 -3.7,0a1.85,1.85 0 1,0 3.7,0M409.73,285.02a1.85,1.85 0 1,0 -3.7,0a1.85,1.85 0 1,0 3.7,0M449.33,277.57a1.85,1.85 0 1,0 -3.7,0a1.85,1.85 0 1,0 3.7,0M397.84,280.36a1.85,1.85 0 1,0 -3.7,0a1.85,1.85 0 1,0 3.7,0M438.67,286.16a1.85,1.85 0 1,0 -3.7,0a1.85,1.85 0 1,0 3.7,0M401.47,288.08a1.85,1.85 0 1,0 -3.7,0a1.85,1.85 0 1,0 3.7,0M429.61,274.27a1.85,1.85 0 1,0 -3.7,0a1.85,1.85 0 1,0 3.7,0M449.48,280.69a1.85,1.85 0 1,0 -3.7,0a1.85,1.85 0 1,0 3.7,0M386.88,279.02a1.85,1.85 0 1,0 -3.7,0a1.85,1.85 0 1,0 3.7,0M404.88,285.28a1.85,1.85 0 1,0 -3.7,0a1.85,1.85 0 1,0 3.7,0M413.20,278.79a1.85,1.85 0 1,0 -3.7,0a1.85,1.85 0 1,0 3.7,0M399.39,276.69a1.85,1.85 0 1,0 -3.7,0a1.85,1.85 0 1,0 3.7,0M410.14,281.07a1.85,1.85 0 1,0 -3.7,0a1.85,1.85 0 1,0 3.7,0M421.57,278.72a1.85,1.85 0 1,0 -3.7,0a1.85,1.85 0 1,0 3.7,0M453.49,277.95a1.85,1.85 0 1,0 -3.7,0a1.85,1.85 0 1,0 3.7,0M400.09,276.05a1.85,1.85 0 1,0 -3.7,0a1.85,1.85 0 1,0 3.7,0M394.38,284.45a1.85,1.85 0 1,0 -3.7,0a1.85,1.85 0 1,0 3.7,0M411.23,275.39a1.85,1.85 0 1,0 -3.7,0a1.85,1.85 0 1,0 3.7,0M411.36,284.86a1.85,1.85 0 1,0 -3.7,0a1.85,1.85 0 1,0 3.7,0M424.87,288.13a1.85,1.85 0 1,0 -3.7,0a1.85,1.85 0 1,0 3.7,0M412.28,274.55a1.85,1.85 0 1,0 -3.7,0a1.85,1.85 0 1,0 3.7,0M405.88,282.75a1.85,1.85 0 1,0 -3.7,0a1.85,1.85 0 1,0 3.7,0M437.33,275.99a1.85,1.85 0 1,0 -3.7,0a1.85,1.85 0 1,0 3.7,0M441.54,286.07a1.85,1.85 0 1,0 -3.7,0a1.85,1.85 0 1,0 3.7,0M402.08,282.91a1.85,1.85 0 1,0 -3.7,0a1.85,1.85 0 1,0 3.7,0M390.17,286.79a1.85,1.85 0 1,0 -3.7,0a1.85,1.85 0 1,0 3.7,0M443.66,282.10a1.85,1.85 0 1,0 -3.7,0a1.85,1.85 0 1,0 3.7,0M387.60,287.25a1.85,1.85 0 1,0 -3.7,0a1.85,1.85 0 1,0 3.7,0M390.63,278.92a1.85,1.85 0 1,0 -3.7,0a1.85,1.85 0 1,0 3.7,0M459.49,275.76a1.85,1.85 0 1,0 -3.7,0a1.85,1.85 0 1,0 3.7,0M430.25,285.49a1.85,1.85 0 1,0 -3.7,0a1.85,1.85 0 1,0 3.7,0M418.22,283.90a1.85,1.85 0 1,0 -3.7,0a1.85,1.85 0 1,0 3.7,0M451.92,285.79a1.85,1.85 0 1,0 -3.7,0a1.85,1.85 0 1,0 3.7,0M410.48,278.45a1.85,1.85 0 1,0 -3.7,0a1.85,1.85 0 1,0 3.7,0M390.76,277.39a1.85,1.85 0 1,0 -3.7,0a1.85,1.85 0 1,0 3.7,0M395.36,276.13a1.85,1.85 0 1,0 -3.7,0a1.85,1.85 0 1,0 3.7,0M435.91,281.53a1.85,1.85 0 1,0 -3.7,0a1.85,1.85 0 1,0 3.7,0M459.25,278.66a1.85,1.85 0 1,0 -3.7,0a1.85,1.85 0 1,0 3.7,0M450.08,280.06a1.85,1.85 0 1,0 -3.7,0a1.85,1.85 0 1,0 3.7,0M417.40,274.09a1.85,1.85 0 1,0 -3.7,0a1.85,1.85 0 1,0 3.7,0M417.19,284.68a1.85,1.85 0 1,0 -3.7,0a1.85,1.85 0 1,0 3.7,0M456.76,283.27a1.85,1.85 0 1,0 -3.7,0a1.85,1.85 0 1,0 3.7,0M441.56,278.57a1.85,1.85 0 1,0 -3.7,0a1.85,1.85 0 1,0 3.7,0M416.97,283.48a1.85,1.85 0 1,0 -3.7,0a1.85,1.85 0 1,0 3.7,0M451.63,282.59a1.85,1.85 0 1,0 -3.7,0a1.85,1.85 0 1,0 3.7,0M387.26,287.54a1.85,1.85 0 1,0 -3.7,0a1.85,1.85 0 1,0 3.7,0M425.18,287.73a1.85,1.85 0 1,0 -3.7,0a1.85,1.85 0 1,0 3.7,0M414.35,277.34a1.85,1.85 0 1,0 -3.7,0a1.85,1.85 0 1,0 3.7,0M387.88,283.90a1.85,1.85 0 1,0 -3.7,0a1.85,1.85 0 1,0 3.7,0M439.35,275.59a1.85,1.85 0 1,0 -3.7,0a1.85,1.85 0 1,0 3.7,0M387.76,277.58a1.85,1.85 0 1,0 -3.7,0a1.85,1.85 0 1,0 3.7,0M393.44,275.29a1.85,1.85 0 1,0 -3.7,0a1.85,1.85 0 1,0 3.7,0M459.36,274.34a1.85,1.85 0 1,0 -3.7,0a1.85,1.85 0 1,0 3.7,0M477.50,280.70a1.85,1.85 0 1,0 -3.7,0a1.85,1.85 0 1,0 3.7,0M469.46,282.79a1.85,1.85 0 1,0 -3.7,0a1.85,1.85 0 1,0 3.7,0M466.60,272.23a1.85,1.85 0 1,0 -3.7,0a1.85,1.85 0 1,0 3.7,0M464.14,283.38a1.85,1.85 0 1,0 -3.7,0a1.85,1.85 0 1,0 3.7,0M477.60,271.33a1.85,1.85 0 1,0 -3.7,0a1.85,1.85 0 1,0 3.7,0M476.98,272.45a1.85,1.85 0 1,0 -3.7,0a1.85,1.85 0 1,0 3.7,0M466.97,275.84a1.85,1.85 0 1,0 -3.7,0a1.85,1.85 0 1,0 3.7,0M466.03,282.09a1.85,1.85 0 1,0 -3.7,0a1.85,1.85 0 1,0 3.7,0M470.32,279.49a1.85,1.85 0 1,0 -3.7,0a1.85,1.85 0 1,0 3.7,0M475.50,272.31a1.85,1.85 0 1,0 -3.7,0a1.85,1.85 0 1,0 3.7,0M475.86,277.53a1.85,1.85 0 1,0 -3.7,0a1.85,1.85 0 1,0 3.7,0M470.62,275.86a1.85,1.85 0 1,0 -3.7,0a1.85,1.85 0 1,0 3.7,0M475.99,274.34a1.85,1.85 0 1,0 -3.7,0a1.85,1.85 0 1,0 3.7,0M465.86,274.47a1.85,1.85 0 1,0 -3.7,0a1.85,1.85 0 1,0 3.7,0" fill="none" stroke="#000" stroke-width="0.8"/>
<line x1="386.50" y1="285.40" x2="455.00" y2="275.08" stroke="#660000" stroke-width="2.0" stroke-linecap="round"/>
<circle cx="386.50" cy="285.40" r="1.85" fill="none" stroke="#f00" stroke-width="0.8"/>
<circle cx="496.40" cy="268.85" r="1.85" fill="none" stroke="#f00" stroke-width="0.8"/>
<rect x="382.70" y="199.00" width="117.60" height="89.60" fill="none" stroke="#222" stroke-width="0.9"/>
<line x1="386.50" y1="288.60" x2="386.50" y2="293.40" stroke="#222" stroke-width="0.9"/>
<text x="0" y="0" transform="translate(386.50,305.85) scale(1,1.1)" font-size="9.3" text-anchor="middle" font-weight="normal">0</text>
<line x1="408.48" y1="288.60" x2="408.48" y2="293.40" stroke="#222" stroke-width="0.9"/>
<text x="0" y="0" transform="translate(408.48,305.85) scale(1,1.1)" font-size="9.3" text-anchor="middle" font-weight="normal">200</text>
<line x1="430.46" y1="288.60" x2="430.46" y2="293.40" stroke="#222" stroke-width="0.9"/>
<line x1="452.44" y1="288.60" x2="452.44" y2="293.40" stroke="#222" stroke-width="0.9"/>
<text x="0" y="0" transform="translate(452.44,305.85) scale(1,1.1)" font-size="9.3" text-anchor="middle" font-weight="normal">600</text>
<line x1="474.42" y1="288.60" x2="474.42" y2="293.40" stroke="#222" stroke-width="0.9"/>
<line x1="496.40" y1="288.60" x2="496.40" y2="293.40" stroke="#222" stroke-width="0.9"/>
<text x="0" y="0" transform="translate(496.40,305.85) scale(1,1.1)" font-size="9.3" text-anchor="middle" font-weight="normal">1000</text>
<line x1="377.90" y1="285.40" x2="382.70" y2="285.40" stroke="#222" stroke-width="0.9"/>
<text x="0" y="0" transform="translate(371.40,285.40) rotate(-90) scale(1,1.1)" font-size="9.3" text-anchor="middle" font-weight="normal">0</text>
<line x1="377.90" y1="268.85" x2="382.70" y2="268.85" stroke="#222" stroke-width="0.9"/>
<line x1="377.90" y1="252.30" x2="382.70" y2="252.30" stroke="#222" stroke-width="0.9"/>
<text x="0" y="0" transform="translate(371.40,252.30) rotate(-90) scale(1,1.1)" font-size="9.3" text-anchor="middle" font-weight="normal">2000</text>
<line x1="377.90" y1="235.75" x2="382.70" y2="235.75" stroke="#222" stroke-width="0.9"/>
<line x1="377.90" y1="219.20" x2="382.70" y2="219.20" stroke="#222" stroke-width="0.9"/>
<text x="0" y="0" transform="translate(371.40,219.20) rotate(-90) scale(1,1.1)" font-size="9.3" text-anchor="middle" font-weight="normal">4000</text>
<line x1="377.90" y1="202.65" x2="382.70" y2="202.65" stroke="#222" stroke-width="0.9"/>
<text x="0" y="0" transform="translate(441.50,319.65) scale(1,1.2)" font-size="8.5" text-anchor="middle" font-weight="normal">Human TSS</text>
<text x="0" y="0" transform="translate(358.80,243.80) rotate(-90) scale(1,1.2)" font-size="8.5" text-anchor="middle" font-weight="normal">Mouse TSS</text>
<text x="0" y="0" transform="translate(617.95,183.30) scale(1,1.05)" font-size="9.5" text-anchor="middle" font-weight="bold">Mouse</text>
<line x1="572.99" y1="285.40" x2="572.99" y2="202.65" stroke="#666" stroke-width="0.9" stroke-dasharray="1,3"/>
<polyline points="562.10,285.40 567.55,216.30 572.99,202.65 578.44,202.65 583.88,202.65 589.33,202.65 594.77,202.65 600.22,202.65 605.66,202.65 611.11,202.65 616.55,202.65 622.00,202.65 627.44,202.65 632.88,202.65 638.33,202.65 643.77,202.65 649.22,202.65 654.66,202.65 660.11,202.65 665.55,202.65 671.00,202.65" fill="none" stroke="#000" stroke-width="0.9" stroke-dasharray="1,3,4,3"/>
<circle cx="562.10" cy="285.40" r="2.1" fill="#000"/>
<circle cx="567.55" cy="216.30" r="2.1" fill="#000"/>
<circle cx="572.99" cy="202.65" r="2.1" fill="#000"/>
<circle cx="578.44" cy="202.65" r="2.1" fill="#000"/>
<circle cx="583.88" cy="202.65" r="2.1" fill="#000"/>
<circle cx="589.33" cy="202.65" r="2.1" fill="#000"/>
<circle cx="594.77" cy="202.65" r="2.1" fill="#000"/>
<circle cx="600.22" cy="202.65" r="2.1" fill="#000"/>
<circle cx="605.66" cy="202.65" r="2.1" fill="#000"/>
<circle cx="611.11" cy="202.65" r="2.1" fill="#000"/>
<circle cx="616.55" cy="202.65" r="2.1" fill="#000"/>
<circle cx="622.00" cy="202.65" r="2.1" fill="#000"/>
<circle cx="627.44" cy="202.65" r="2.1" fill="#000"/>
<circle cx="632.88" cy="202.65" r="2.1" fill="#000"/>
<circle cx="638.33" cy="202.65" r="2.1" fill="#000"/>
<circle cx="643.77" cy="202.65" r="2.1" fill="#000"/>
<circle cx="649.22" cy="202.65" r="2.1" fill="#000"/>
<circle cx="654.66" cy="202.65" r="2.1" fill="#000"/>
<circle cx="660.11" cy="202.65" r="2.1" fill="#000"/>
<circle cx="665.55" cy="202.65" r="2.1" fill="#000"/>
<circle cx="671.00" cy="202.65" r="2.1" fill="#000"/>
<polyline points="562.10,285.15 567.55,228.30 572.99,220.19 578.44,218.37 583.88,216.97 589.33,216.14 594.77,215.39 600.22,214.90 605.66,214.32 611.11,213.99 616.55,213.66 622.00,213.41 627.44,213.08 632.88,212.75 638.33,212.50 643.77,212.33 649.22,212.17 654.66,211.84 660.11,211.67 665.55,211.42 671.00,211.26" fill="none" stroke="#33cc33" stroke-width="0.9"/>
<path d="M559.70,285.15h4.8M562.10,282.75v4.8M565.15,228.30h4.8M567.55,225.90v4.8M570.59,220.19h4.8M572.99,217.79v4.8M576.04,218.37h4.8M578.44,215.97v4.8M581.48,216.97h4.8M583.88,214.57v4.8M586.93,216.14h4.8M589.33,213.74v4.8M592.37,215.39h4.8M594.77,212.99v4.8M597.82,214.90h4.8M600.22,212.50v4.8M603.26,214.32h4.8M605.66,211.92v4.8M608.71,213.99h4.8M611.11,211.59v4.8M614.15,213.66h4.8M616.55,211.26v4.8M619.60,213.41h4.8M622.00,211.01v4.8M625.04,213.08h4.8M627.44,210.68v4.8M630.49,212.75h4.8M632.88,210.35v4.8M635.93,212.50h4.8M638.33,210.10v4.8M641.38,212.33h4.8M643.77,209.93v4.8M646.82,212.17h4.8M649.22,209.77v4.8M652.26,211.84h4.8M654.66,209.44v4.8M657.71,211.67h4.8M660.11,209.27v4.8M663.15,211.42h4.8M665.55,209.02v4.8M668.60,211.26h4.8M671.00,208.86v4.8" stroke="#33cc33" stroke-width="0.9"/>
<rect x="557.60" y="199.00" width="117.70" height="89.60" fill="none" stroke="#222" stroke-width="0.9"/>
<line x1="562.10" y1="288.60" x2="562.10" y2="293.40" stroke="#222" stroke-width="0.9"/>
<text x="0" y="0" transform="translate(562.10,305.85) scale(1,1.1)" font-size="9.3" text-anchor="middle" font-weight="normal">0</text>
<line x1="583.88" y1="288.60" x2="583.88" y2="293.40" stroke="#222" stroke-width="0.9"/>
<text x="0" y="0" transform="translate(583.88,305.85) scale(1,1.1)" font-size="9.3" text-anchor="middle" font-weight="normal">2000</text>
<line x1="605.66" y1="288.60" x2="605.66" y2="293.40" stroke="#222" stroke-width="0.9"/>
<line x1="627.44" y1="288.60" x2="627.44" y2="293.40" stroke="#222" stroke-width="0.9"/>
<text x="0" y="0" transform="translate(627.44,305.85) scale(1,1.1)" font-size="9.3" text-anchor="middle" font-weight="normal">6000</text>
<line x1="649.22" y1="288.60" x2="649.22" y2="293.40" stroke="#222" stroke-width="0.9"/>
<line x1="671.00" y1="288.60" x2="671.00" y2="293.40" stroke="#222" stroke-width="0.9"/>
<text x="0" y="0" transform="translate(671.00,305.85) scale(1,1.1)" font-size="9.3" text-anchor="middle" font-weight="normal">10000</text>
<line x1="552.80" y1="285.40" x2="557.60" y2="285.40" stroke="#222" stroke-width="0.9"/>
<text x="0" y="0" transform="translate(546.30,285.40) rotate(-90) scale(1,1.1)" font-size="9.3" text-anchor="middle" font-weight="normal">0</text>
<line x1="552.80" y1="268.85" x2="557.60" y2="268.85" stroke="#222" stroke-width="0.9"/>
<text x="0" y="0" transform="translate(546.30,268.85) rotate(-90) scale(1,1.1)" font-size="9.3" text-anchor="middle" font-weight="normal">20</text>
<line x1="552.80" y1="252.30" x2="557.60" y2="252.30" stroke="#222" stroke-width="0.9"/>
<line x1="552.80" y1="235.75" x2="557.60" y2="235.75" stroke="#222" stroke-width="0.9"/>
<text x="0" y="0" transform="translate(546.30,235.75) rotate(-90) scale(1,1.1)" font-size="9.3" text-anchor="middle" font-weight="normal">60</text>
<line x1="552.80" y1="219.20" x2="557.60" y2="219.20" stroke="#222" stroke-width="0.9"/>
<line x1="552.80" y1="202.65" x2="557.60" y2="202.65" stroke="#222" stroke-width="0.9"/>
<text x="0" y="0" transform="translate(546.30,202.65) rotate(-90) scale(1,1.1)" font-size="9.3" text-anchor="middle" font-weight="normal">100</text>
<text x="0" y="0" transform="translate(616.45,319.65) scale(1,1.2)" font-size="8.5" text-anchor="middle" font-weight="normal">TSS</text>
<text x="0" y="0" transform="translate(533.70,243.80) rotate(-90) scale(1,1.2)" font-size="8.5" text-anchor="middle" font-weight="normal">Cumulative percentage(%)</text>
<text x="0" y="0" transform="translate(93.20,358.40) scale(1,1.05)" font-size="9.5" text-anchor="middle" font-weight="bold">Chicken</text>
<clipPath id="cp2_0"><rect x="32.90" y="373.70" width="117.60" height="89.90"/></clipPath>
<line x1="36.60" y1="460.35" x2="146.50" y2="443.80" stroke="#f22" stroke-width="0.9"/>
<path clip-path="url(#cp2_0)" d="M43.65,375.30a1.85,1.85 0 1,0 -3.7,0a1.85,1.85 0 1,0 3.7,0M50.15,374.00a1.85,1.85 0 1,0 -3.7,0a1.85,1.85 0 1,0 3.7,0M58.45,377.10a1.85,1.85 0 1,0 -3.7,0a1.85,1.85 0 1,0 3.7,0M68.15,375.80a1.85,1.85 0 1,0 -3.7,0a1.85,1.85 0 1,0 3.7,0M71.65,374.40a1.85,1.85 0 1,0 -3.7,0a1.85,1.85 0 1,0 3.7,0M79.05,374.00a1.85,1.85 0 1,0 -3.7,0a1.85,1.85 0 1,0 3.7,0M59.85,382.10a1.85,1.85 0 1,0 -3.7,0a1.85,1.85 0 1,0 3.7,0M66.35,381.00a1.85,1.85 0 1,0 -3.7,0a1.85,1.85 0 1,0 3.7,0M78.85,380.60a1.85,1.85 0 1,0 -3.7,0a1.85,1.85 0 1,0 3.7,0M42.25,388.90a1.85,1.85 0 1,0 -3.7,0a1.85,1.85 0 1,0 3.7,0M51.45,387.10a1.85,1.85 0 1,0 -3.7,0a1.85,1.85 0 1,0 3.7,0M49.35,390.20a1.85,1.85 0 1,0 -3.7,0a1.85,1.85 0 1,0 3.7,0M49.75,391.50a1.85,1.85 0 1,0 -3.7,0a1.85,1.85 0 1,0 3.7,0M48.35,390.50a1.85,1.85 0 1,0 -3.7,0a1.85,1.85 0 1,0 3.7,0M66.85,388.50a1.85,1.85 0 1,0 -3.7,0a1.85,1.85 0 1,0 3.7,0M69.45,392.60a1.85,1.85 0 1,0 -3.7,0a1.85,1.85 0 1,0 3.7,0M59.85,392.60a1.85,1.85 0 1,0 -3.7,0a1.85,1.85 0 1,0 3.7,0M65.55,395.90a1.85,1.85 0 1,0 -3.7,0a1.85,1.85 0 1,0 3.7,0M77.55,387.00a1.85,1.85 0 1,0 -3.7,0a1.85,1.85 0 1,0 3.7,0M88.45,390.60a1.85,1.85 0 1,0 -3.7,0a1.85,1.85 0 1,0 3.7,0M84.55,394.60a1.85,1.85 0 1,0 -3.7,0a1.85,1.85 0 1,0 3.7,0M47.95,396.30a1.85,1.85 0 1,0 -3.7,0a1.85,1.85 0 1,0 3.7,0M47.55,399.00a1.85,1.85 0 1,0 -3.7,0a1.85,1.85 0 1,0 3.7,0M51.05,400.30a1.85,1.85 0 1,0 -3.7,0a1.85,1.85 0 1,0 3.7,0M55.85,400.70a1.85,1.85 0 1,0 -3.7,0a1.85,1.85 0 1,0 3.7,0M53.25,402.90a1.85,1.85 0 1,0 -3.7,0a1.85,1.85 0 1,0 3.7,0M50.65,406.00a1.85,1.85 0 1,0 -3.7,0a1.85,1.85 0 1,0 3.7,0M53.65,409.00a1.85,1.85 0 1,0 -3.7,0a1.85,1.85 0 1,0 3.7,0M42.75,405.50a1.85,1.85 0 1,0 -3.7,0a1.85,1.85 0 1,0 3.7,0M62.75,403.30a1.85,1.85 0 1,0 -3.7,0a1.85,1.85 0 1,0 3.7,0M65.95,402.70a1.85,1.85 0 1,0 -3.7,0a1.85,1.85 0 1,0 3.7,0M72.05,405.50a1.85,1.85 0 1,0 -3.7,0a1.85,1.85 0 1,0 3.7,0M78.25,402.20a1.85,1.85 0 1,0 -3.7,0a1.85,1.85 0 1,0 3.7,0M88.75,402.20a1.85,1.85 0 1,0 -3.7,0a1.85,1.85 0 1,0 3.7,0M58.45,409.90a1.85,1.85 0 1,0 -3.7,0a1.85,1.85 0 1,0 3.7,0M59.35,412.10a1.85,1.85 0 1,0 -3.7,0a1.85,1.85 0 1,0 3.7,0M62.45,414.30a1.85,1.85 0 1,0 -3.7,0a1.85,1.85 0 1,0 3.7,0M68.55,414.30a1.85,1.85 0 1,0 -3.7,0a1.85,1.85 0 1,0 3.7,0M72.55,413.40a1.85,1.85 0 1,0 -3.7,0a1.85,1.85 0 1,0 3.7,0M45.85,413.90a1.85,1.85 0 1,0 -3.7,0a1.85,1.85 0 1,0 3.7,0M44.45,416.90a1.85,1.85 0 1,0 -3.7,0a1.85,1.85 0 1,0 3.7,0M47.95,416.90a1.85,1.85 0 1,0 -3.7,0a1.85,1.85 0 1,0 3.7,0M50.15,417.80a1.85,1.85 0 1,0 -3.7,0a1.85,1.85 0 1,0 3.7,0M40.15,418.70a1.85,1.85 0 1,0 -3.7,0a1.85,1.85 0 1,0 3.7,0M54.95,419.10a1.85,1.85 0 1,0 -3.7,0a1.85,1.85 0 1,0 3.7,0M66.35,418.70a1.85,1.85 0 1,0 -3.7,0a1.85,1.85 0 1,0 3.7,0M78.25,417.80a1.85,1.85 0 1,0 -3.7,0a1.85,1.85 0 1,0 3.7,0M94.45,416.90a1.85,1.85 0 1,0 -3.7,0a1.85,1.85 0 1,0 3.7,0M108.35,374.90a1.85,1.85 0 1,0 -3.7,0a1.85,1.85 0 1,0 3.7,0M134.15,374.40a1.85,1.85 0 1,0 -3.7,0a1.85,1.85 0 1,0 3.7,0M143.95,374.90a1.85,1.85 0 1,0 -3.7,0a1.85,1.85 0 1,0 3.7,0M107.15,389.10a1.85,1.85 0 1,0 -3.7,0a1.85,1.85 0 1,0 3.7,0M121.95,389.90a1.85,1.85 0 1,0 -3.7,0a1.85,1.85 0 1,0 3.7,0M131.05,390.70a1.85,1.85 0 1,0 -3.7,0a1.85,1.85 0 1,0 3.7,0M128.55,392.90a1.85,1.85 0 1,0 -3.7,0a1.85,1.85 0 1,0 3.7,0M116.65,395.80a1.85,1.85 0 1,0 -3.7,0a1.85,1.85 0 1,0 3.7,0M97.95,405.20a1.85,1.85 0 1,0 -3.7,0a1.85,1.85 0 1,0 3.7,0M121.25,406.90a1.85,1.85 0 1,0 -3.7,0a1.85,1.85 0 1,0 3.7,0M96.35,415.90a1.85,1.85 0 1,0 -3.7,0a1.85,1.85 0 1,0 3.7,0M99.45,416.30a1.85,1.85 0 1,0 -3.7,0a1.85,1.85 0 1,0 3.7,0M95.45,417.60a1.85,1.85 0 1,0 -3.7,0a1.85,1.85 0 1,0 3.7,0M129.65,416.30a1.85,1.85 0 1,0 -3.7,0a1.85,1.85 0 1,0 3.7,0M131.05,415.70a1.85,1.85 0 1,0 -3.7,0a1.85,1.85 0 1,0 3.7,0M40.15,419.30a1.85,1.85 0 1,0 -3.7,0a1.85,1.85 0 1,0 3.7,0M44.45,424.10a1.85,1.85 0 1,0 -3.7,0a1.85,1.85 0 1,0 3.7,0M53.25,421.50a1.85,1.85 0 1,0 -3.7,0a1.85,1.85 0 1,0 3.7,0M53.65,424.60a1.85,1.85 0 1,0 -3.7,0a1.85,1.85 0 1,0 3.7,0M55.85,419.80a1.85,1.85 0 1,0 -3.7,0a1.85,1.85 0 1,0 3.7,0M57.65,422.40a1.85,1.85 0 1,0 -3.7,0a1.85,1.85 0 1,0 3.7,0M60.25,421.10a1.85,1.85 0 1,0 -3.7,0a1.85,1.85 0 1,0 3.7,0M62.85,420.60a1.85,1.85 0 1,0 -3.7,0a1.85,1.85 0 1,0 3.7,0M65.55,421.90a1.85,1.85 0 1,0 -3.7,0a1.85,1.85 0 1,0 3.7,0M67.65,423.70a1.85,1.85 0 1,0 -3.7,0a1.85,1.85 0 1,0 3.7,0M69.85,421.90a1.85,1.85 0 1,0 -3.7,0a1.85,1.85 0 1,0 3.7,0M66.35,418.40a1.85,1.85 0 1,0 -3.7,0a1.85,1.85 0 1,0 3.7,0M69.85,428.10a1.85,1.85 0 1,0 -3.7,0a1.85,1.85 0 1,0 3.7,0M74.75,427.60a1.85,1.85 0 1,0 -3.7,0a1.85,1.85 0 1,0 3.7,0M76.05,430.30a1.85,1.85 0 1,0 -3.7,0a1.85,1.85 0 1,0 3.7,0M79.95,421.90a1.85,1.85 0 1,0 -3.7,0a1.85,1.85 0 1,0 3.7,0M78.65,418.90a1.85,1.85 0 1,0 -3.7,0a1.85,1.85 0 1,0 3.7,0M61.55,431.10a1.85,1.85 0 1,0 -3.7,0a1.85,1.85 0 1,0 3.7,0M64.15,432.50a1.85,1.85 0 1,0 -3.7,0a1.85,1.85 0 1,0 3.7,0M67.25,432.50a1.85,1.85 0 1,0 -3.7,0a1.85,1.85 0 1,0 3.7,0M61.15,434.20a1.85,1.85 0 1,0 -3.7,0a1.85,1.85 0 1,0 3.7,0M73.85,436.40a1.85,1.85 0 1,0 -3.7,0a1.85,1.85 0 1,0 3.7,0M75.15,439.50a1.85,1.85 0 1,0 -3.7,0a1.85,1.85 0 1,0 3.7,0M80.85,437.70a1.85,1.85 0 1,0 -3.7,0a1.85,1.85 0 1,0 3.7,0M84.75,441.20a1.85,1.85 0 1,0 -3.7,0a1.85,1.85 0 1,0 3.7,0M77.75,444.70a1.85,1.85 0 1,0 -3.7,0a1.85,1.85 0 1,0 3.7,0M75.15,443.40a1.85,1.85 0 1,0 -3.7,0a1.85,1.85 0 1,0 3.7,0M65.05,439.00a1.85,1.85 0 1,0 -3.7,0a1.85,1.85 0 1,0 3.7,0M64.65,443.80a1.85,1.85 0 1,0 -3.7,0a1.85,1.85 0 1,0 3.7,0M91.75,443.00a1.85,1.85 0 1,0 -3.7,0a1.85,1.85 0 1,0 3.7,0M91.75,447.80a1.85,1.85 0 1,0 -3.7,0a1.85,1.85 0 1,0 3.7,0M81.25,451.30a1.85,1.85 0 1,0 -3.7,0a1.85,1.85 0 1,0 3.7,0M83.85,454.80a1.85,1.85 0 1,0 -3.7,0a1.85,1.85 0 1,0 3.7,0M87.45,455.20a1.85,1.85 0 1,0 -3.7,0a1.85,1.85 0 1,0 3.7,0M90.95,455.70a1.85,1.85 0 1,0 -3.7,0a1.85,1.85 0 1,0 3.7,0M90.05,451.30a1.85,1.85 0 1,0 -3.7,0a1.85,1.85 0 1,0 3.7,0M93.35,451.30a1.85,1.85 0 1,0 -3.7,0a1.85,1.85 0 1,0 3.7,0M82.15,458.30a1.85,1.85 0 1,0 -3.7,0a1.85,1.85 0 1,0 3.7,0M85.65,458.70a1.85,1.85 0 1,0 -3.7,0a1.85,1.85 0 1,0 3.7,0M89.15,458.30a1.85,1.85 0 1,0 -3.7,0a1.85,1.85 0 1,0 3.7,0M93.05,458.30a1.85,1.85 0 1,0 -3.7,0a1.85,1.85 0 1,0 3.7,0M94.45,454.80a1.85,1.85 0 1,0 -3.7,0a1.85,1.85 0 1,0 3.7,0M95.45,418.40a1.85,1.85 0 1,0 -3.7,0a1.85,1.85 0 1,0 3.7,0M98.55,422.00a1.85,1.85 0 1,0 -3.7,0a1.85,1.85 0 1,0 3.7,0M113.65,423.80a1.85,1.85 0 1,0 -3.7,0a1.85,1.85 0 1,0 3.7,0M131.05,421.70a1.85,1.85 0 1,0 -3.7,0a1.85,1.85 0 1,0 3.7,0M110.55,431.50a1.85,1.85 0 1,0 -3.7,0a1.85,1.85 0 1,0 3.7,0M137.75,433.90a1.85,1.85 0 1,0 -3.7,0a1.85,1.85 0 1,0 3.7,0M103.45,442.00a1.85,1.85 0 1,0 -3.7,0a1.85,1.85 0 1,0 3.7,0M107.85,444.30a1.85,1.85 0 1,0 -3.7,0a1.85,1.85 0 1,0 3.7,0M96.35,445.60a1.85,1.85 0 1,0 -3.7,0a1.85,1.85 0 1,0 3.7,0M92.75,443.00a1.85,1.85 0 1,0 -3.7,0a1.85,1.85 0 1,0 3.7,0M103.85,449.60a1.85,1.85 0 1,0 -3.7,0a1.85,1.85 0 1,0 3.7,0M106.05,452.70a1.85,1.85 0 1,0 -3.7,0a1.85,1.85 0 1,0 3.7,0M109.65,454.50a1.85,1.85 0 1,0 -3.7,0a1.85,1.85 0 1,0 3.7,0M117.65,448.70a1.85,1.85 0 1,0 -3.7,0a1.85,1.85 0 1,0 3.7,0M122.15,449.20a1.85,1.85 0 1,0 -3.7,0a1.85,1.85 0 1,0 3.7,0M121.25,452.70a1.85,1.85 0 1,0 -3.7,0a1.85,1.85 0 1,0 3.7,0M120.35,451.00a1.85,1.85 0 1,0 -3.7,0a1.85,1.85 0 1,0 3.7,0M128.35,447.40a1.85,1.85 0 1,0 -3.7,0a1.85,1.85 0 1,0 3.7,0M133.75,446.70a1.85,1.85 0 1,0 -3.7,0a1.85,1.85 0 1,0 3.7,0M100.35,458.10a1.85,1.85 0 1,0 -3.7,0a1.85,1.85 0 1,0 3.7,0M114.55,458.10a1.85,1.85 0 1,0 -3.7,0a1.85,1.85 0 1,0 3.7,0M118.15,458.10a1.85,1.85 0 1,0 -3.7,0a1.85,1.85 0 1,0 3.7,0M114.15,459.90a1.85,1.85 0 1,0 -3.7,0a1.85,1.85 0 1,0 3.7,0M133.25,459.40a1.85,1.85 0 1,0 -3.7,0a1.85,1.85 0 1,0 3.7,0M140.65,459.00a1.85,1.85 0 1,0 -3.7,0a1.85,1.85 0 1,0 3.7,0M92.75,451.80a1.85,1.85 0 1,0 -3.7,0a1.85,1.85 0 1,0 3.7,0M94.55,453.60a1.85,1.85 0 1,0 -3.7,0a1.85,1.85 0 1,0 3.7,0M95.45,457.20a1.85,1.85 0 1,0 -3.7,0a1.85,1.85 0 1,0 3.7,0M93.65,458.10a1.85,1.85 0 1,0 -3.7,0a1.85,1.85 0 1,0 3.7,0M65.03,448.26a1.85,1.85 0 1,0 -3.7,0a1.85,1.85 0 1,0 3.7,0M58.39,439.22a1.85,1.85 0 1,0 -3.7,0a1.85,1.85 0 1,0 3.7,0M62.76,440.88a1.85,1.85 0 1,0 -3.7,0a1.85,1.85 0 1,0 3.7,0M43.83,458.64a1.85,1.85 0 1,0 -3.7,0a1.85,1.85 0 1,0 3.7,0M39.90,453.53a1.85,1.85 0 1,0 -3.7,0a1.85,1.85 0 1,0 3.7,0M63.95,454.02a1.85,1.85 0 1,0 -3.7,0a1.85,1.85 0 1,0 3.7,0M59.91,443.01a1.85,1.85 0 1,0 -3.7,0a1.85,1.85 0 1,0 3.7,0M51.42,449.20a1.85,1.85 0 1,0 -3.7,0a1.85,1.85 0 1,0 3.7,0M59.09,456.88a1.85,1.85 0 1,0 -3.7,0a1.85,1.85 0 1,0 3.7,0M51.18,441.82a1.85,1.85 0 1,0 -3.7,0a1.85,1.85 0 1,0 3.7,0M57.40,451.55a1.85,1.85 0 1,0 -3.7,0a1.85,1.85 0 1,0 3.7,0M65.10,447.51a1.85,1.85 0 1,0 -3.7,0a1.85,1.85 0 1,0 3.7,0M45.67,435.05a1.85,1.85 0 1,0 -3.7,0a1.85,1.85 0 1,0 3.7,0M45.83,460.05a1.85,1.85 0 1,0 -3.7,0a1.85,1.85 0 1,0 3.7,0M50.32,455.85a1.85,1.85 0 1,0 -3.7,0a1.85,1.85 0 1,0 3.7,0M62.56,449.98a1.85,1.85 0 1,0 -3.7,0a1.85,1.85 0 1,0 3.7,0M57.43,450.99a1.85,1.85 0 1,0 -3.7,0a1.85,1.85 0 1,0 3.7,0M42.52,442.41a1.85,1.85 0 1,0 -3.7,0a1.85,1.85 0 1,0 3.7,0M48.91,443.35a1.85,1.85 0 1,0 -3.7,0a1.85,1.85 0 1,0 3.7,0M45.04,450.70a1.85,1.85 0 1,0 -3.7,0a1.85,1.85 0 1,0 3.7,0M74.12,460.14a1.85,1.85 0 1,0 -3.7,0a1.85,1.85 0 1,0 3.7,0M60.78,453.51a1.85,1.85 0 1,0 -3.7,0a1.85,1.85 0 1,0 3.7,0M48.23,441.91a1.85,1.85 0 1,0 -3.7,0a1.85,1.85 0 1,0 3.7,0M39.23,457.35a1.85,1.85 0 1,0 -3.7,0a1.85,1.85 0 1,0 3.7,0M45.48,431.30a1.85,1.85 0 1,0 -3.7,0a1.85,1.85 0 1,0 3.7,0M47.41,448.79a1.85,1.85 0 1,0 -3.7,0a1.85,1.85 0 1,0 3.7,0M53.41,443.07a1.85,1.85 0 1,0 -3.7,0a1.85,1.85 0 1,0 3.7,0M60.28,455.76a1.85,1.85 0 1,0 -3.7,0a1.85,1.85 0 1,0 3.7,0M56.44,435.87a1.85,1.85 0 1,0 -3.7,0a1.85,1.85 0 1,0 3.7,0M72.17,450.49a1.85,1.85 0 1,0 -3.7,0a1.85,1.85 0 1,0 3.7,0M50.97,434.86a1.85,1.85 0 1,0 -3.7,0a1.85,1.85 0 1,0 3.7,0M77.87,449.60a1.85,1.85 0 1,0 -3.7,0a1.85,1.85 0 1,0 3.7,0M47.67,444.25a1.85,1.85 0 1,0 -3.7,0a1.85,1.85 0 1,0 3.7,0M48.89,454.64a1.85,1.85 0 1,0 -3.7,0a1.85,1.85 0 1,0 3.7,0M73.52,447.98a1.85,1.85 0 1,0 -3.7,0a1.85,1.85 0 1,0 3.7,0M65.53,444.37a1.85,1.85 0 1,0 -3.7,0a1.85,1.85 0 1,0 3.7,0M71.20,453.11a1.85,1.85 0 1,0 -3.7,0a1.85,1.85 0 1,0 3.7,0M40.97,448.98a1.85,1.85 0 1,0 -3.7,0a1.85,1.85 0 1,0 3.7,0M43.13,456.97a1.85,1.85 0 1,0 -3.7,0a1.85,1.85 0 1,0 3.7,0M58.09,444.69a1.85,1.85 0 1,0 -3.7,0a1.85,1.85 0 1,0 3.7,0M49.02,456.28a1.85,1.85 0 1,0 -3.7,0a1.85,1.85 0 1,0 3.7,0M68.00,455.03a1.85,1.85 0 1,0 -3.7,0a1.85,1.85 0 1,0 3.7,0M69.46,453.24a1.85,1.85 0 1,0 -3.7,0a1.85,1.85 0 1,0 3.7,0M45.89,457.89a1.85,1.85 0 1,0 -3.7,0a1.85,1.85 0 1,0 3.7,0M57.78,439.32a1.85,1.85 0 1,0 -3.7,0a1.85,1.85 0 1,0 3.7,0M57.80,454.07a1.85,1.85 0 1,0 -3.7,0a1.85,1.85 0 1,0 3.7,0M41.55,455.57a1.85,1.85 0 1,0 -3.7,0a1.85,1.85 0 1,0 3.7,0M58.71,440.39a1.85,1.85 0 1,0 -3.7,0a1.85,1.85 0 1,0 3.7,0M49.02,438.10a1.85,1.85 0 1,0 -3.7,0a1.85,1.85 0 1,0 3.7,0M60.32,455.90a1.85,1.85 0 1,0 -3.7,0a1.85,1.85 0 1,0 3.7,0M49.58,448.19a1.85,1.85 0 1,0 -3.7,0a1.85,1.85 0 1,0 3.7,0M70.73,457.43a1.85,1.85 0 1,0 -3.7,0a1.85,1.85 0 1,0 3.7,0M70.89,456.32a1.85,1.85 0 1,0 -3.7,0a1.85,1.85 0 1,0 3.7,0M70.99,459.98a1.85,1.85 0 1,0 -3.7,0a1.85,1.85 0 1,0 3.7,0M63.30,457.12a1.85,1.85 0 1,0 -3.7,0a1.85,1.85 0 1,0 3.7,0M44.59,443.57a1.85,1.85 0 1,0 -3.7,0a1.85,1.85 0 1,0 3.7,0M55.25,443.32a1.85,1.85 0 1,0 -3.7,0a1.85,1.85 0 1,0 3.7,0M44.07,430.72a1.85,1.85 0 1,0 -3.7,0a1.85,1.85 0 1,0 3.7,0M60.07,450.53a1.85,1.85 0 1,0 -3.7,0a1.85,1.85 0 1,0 3.7,0M52.67,451.94a1.85,1.85 0 1,0 -3.7,0a1.85,1.85 0 1,0 3.7,0M39.02,450.51a1.85,1.85 0 1,0 -3.7,0a1.85,1.85 0 1,0 3.7,0M60.20,443.86a1.85,1.85 0 1,0 -3.7,0a1.85,1.85 0 1,0 3.7,0M60.51,443.91a1.85,1.85 0 1,0 -3.7,0a1.85,1.85 0 1,0 3.7,0M52.78,447.87a1.85,1.85 0 1,0 -3.7,0a1.85,1.85 0 1,0 3.7,0M58.42,437.05a1.85,1.85 0 1,0 -3.7,0a1.85,1.85 0 1,0 3.7,0M66.28,457.26a1.85,1.85 0 1,0 -3.7,0a1.85,1.85 0 1,0 3.7,0M64.99,449.41a1.85,1.85 0 1,0 -3.7,0a1.85,1.85 0 1,0 3.7,0M70.67,456.42a1.85,1.85 0 1,0 -3.7,0a1.85,1.85 0 1,0 3.7,0M48.58,439.35a1.85,1.85 0 1,0 -3.7,0a1.85,1.85 0 1,0 3.7,0M41.67,460.19a1.85,1.85 0 1,0 -3.7,0a1.85,1.85 0 1,0 3.7,0M41.30,447.21a1.85,1.85 0 1,0 -3.7,0a1.85,1.85 0 1,0 3.7,0M63.71,445.31a1.85,1.85 0 1,0 -3.7,0a1.85,1.85 0 1,0 3.7,0M42.79,445.14a1.85,1.85 0 1,0 -3.7,0a1.85,1.85 0 1,0 3.7,0M62.26,446.50a1.85,1.85 0 1,0 -3.7,0a1.85,1.85 0 1,0 3.7,0M56.54,457.00a1.85,1.85 0 1,0 -3.7,0a1.85,1.85 0 1,0 3.7,0M48.41,448.18a1.85,1.85 0 1,0 -3.7,0a1.85,1.85 0 1,0 3.7,0M74.77,460.32a1.85,1.85 0 1,0 -3.7,0a1.85,1.85 0 1,0 3.7,0M74.40,453.02a1.85,1.85 0 1,0 -3.7,0a1.85,1.85 0 1,0 3.7,0M69.19,448.63a1.85,1.85 0 1,0 -3.7,0a1.85,1.85 0 1,0 3.7,0M46.59,440.90a1.85,1.85 0 1,0 -3.7,0a1.85,1.85 0 1,0 3.7,0M48.46,454.38a1.85,1.85 0 1,0 -3.7,0a1.85,1.85 0 1,0 3.7,0M67.36,448.89a1.85,1.85 0 1,0 -3.7,0a1.85,1.85 0 1,0 3.7,0M66.34,449.79a1.85,1.85 0 1,0 -3.7,0a1.85,1.85 0 1,0 3.7,0M48.24,444.67a1.85,1.85 0 1,0 -3.7,0a1.85,1.85 0 1,0 3.7,0M49.44,438.81a1.85,1.85 0 1,0 -3.7,0a1.85,1.85 0 1,0 3.7,0M66.87,446.65a1.85,1.85 0 1,0 -3.7,0a1.85,1.85 0 1,0 3.7,0M55.14,439.36a1.85,1.85 0 1,0 -3.7,0a1.85,1.85 0 1,0 3.7,0M48.10,434.16a1.85,1.85 0 1,0 -3.7,0a1.85,1.85 0 1,0 3.7,0M52.18,432.84a1.85,1.85 0 1,0 -3.7,0a1.85,1.85 0 1,0 3.7,0M66.52,449.30a1.85,1.85 0 1,0 -3.7,0a1.85,1.85 0 1,0 3.7,0M58.55,450.25a1.85,1.85 0 1,0 -3.7,0a1.85,1.85 0 1,0 3.7,0M68.92,444.62a1.85,1.85 0 1,0 -3.7,0a1.85,1.85 0 1,0 3.7,0M58.31,439.82a1.85,1.85 0 1,0 -3.7,0a1.85,1.85 0 1,0 3.7,0M54.64,438.80a1.85,1.85 0 1,0 -3.7,0a1.85,1.85 0 1,0 3.7,0M47.56,435.98a1.85,1.85 0 1,0 -3.7,0a1.85,1.85 0 1,0 3.7,0M46.88,458.82a1.85,1.85 0 1,0 -3.7,0a1.85,1.85 0 1,0 3.7,0M75.62,447.64a1.85,1.85 0 1,0 -3.7,0a1.85,1.85 0 1,0 3.7,0M58.62,459.01a1.85,1.85 0 1,0 -3.7,0a1.85,1.85 0 1,0 3.7,0M57.23,448.65a1.85,1.85 0 1,0 -3.7,0a1.85,1.85 0 1,0 3.7,0M41.80,439.06a1.85,1.85 0 1,0 -3.7,0a1.85,1.85 0 1,0 3.7,0M48.61,449.84a1.85,1.85 0 1,0 -3.7,0a1.85,1.85 0 1,0 3.7,0M57.20,453.27a1.85,1.85 0 1,0 -3.7,0a1.85,1.85 0 1,0 3.7,0M59.18,445.47a1.85,1.85 0 1,0 -3.7,0a1.85,1.85 0 1,0 3.7,0M47.55,438.09a1.85,1.85 0 1,0 -3.7,0a1.85,1.85 0 1,0 3.7,0M62.13,444.55a1.85,1.85 0 1,0 -3.7,0a1.85,1.85 0 1,0 3.7,0M58.84,449.67a1.85,1.85 0 1,0 -3.7,0a1.85,1.85 0 1,0 3.7,0M56.67,433.83a1.85,1.85 0 1,0 -3.7,0a1.85,1.85 0 1,0 3.7,0M59.88,457.88a1.85,1.85 0 1,0 -3.7,0a1.85,1.85 0 1,0 3.7,0M39.82,453.05a1.85,1.85 0 1,0 -3.7,0a1.85,1.85 0 1,0 3.7,0M56.40,435.58a1.85,1.85 0 1,0 -3.7,0a1.85,1.85 0 1,0 3.7,0M62.77,457.11a1.85,1.85 0 1,0 -3.7,0a1.85,1.85 0 1,0 3.7,0M40.07,444.17a1.85,1.85 0 1,0 -3.7,0a1.85,1.85 0 1,0 3.7,0M49.49,436.69a1.85,1.85 0 1,0 -3.7,0a1.85,1.85 0 1,0 3.7,0M39.55,447.07a1.85,1.85 0 1,0 -3.7,0a1.85,1.85 0 1,0 3.7,0M52.43,432.83a1.85,1.85 0 1,0 -3.7,0a1.85,1.85 0 1,0 3.7,0M49.37,447.33a1.85,1.85 0 1,0 -3.7,0a1.85,1.85 0 1,0 3.7,0M58.12,454.57a1.85,1.85 0 1,0 -3.7,0a1.85,1.85 0 1,0 3.7,0M49.01,454.83a1.85,1.85 0 1,0 -3.7,0a1.85,1.85 0 1,0 3.7,0M41.64,440.03a1.85,1.85 0 1,0 -3.7,0a1.85,1.85 0 1,0 3.7,0M49.34,439.18a1.85,1.85 0 1,0 -3.7,0a1.85,1.85 0 1,0 3.7,0M59.42,449.73a1.85,1.85 0 1,0 -3.7,0a1.85,1.85 0 1,0 3.7,0M43.24,448.03a1.85,1.85 0 1,0 -3.7,0a1.85,1.85 0 1,0 3.7,0M47.62,457.29a1.85,1.85 0 1,0 -3.7,0a1.85,1.85 0 1,0 3.7,0M55.87,456.07a1.85,1.85 0 1,0 -3.7,0a1.85,1.85 0 1,0 3.7,0M49.68,442.12a1.85,1.85 0 1,0 -3.7,0a1.85,1.85 0 1,0 3.7,0M45.76,459.66a1.85,1.85 0 1,0 -3.7,0a1.85,1.85 0 1,0 3.7,0M71.70,445.69a1.85,1.85 0 1,0 -3.7,0a1.85,1.85 0 1,0 3.7,0M43.23,445.80a1.85,1.85 0 1,0 -3.7,0a1.85,1.85 0 1,0 3.7,0M50.30,431.63a1.85,1.85 0 1,0 -3.7,0a1.85,1.85 0 1,0 3.7,0M46.25,436.43a1.85,1.85 0 1,0 -3.7,0a1.85,1.85 0 1,0 3.7,0M74.61,459.65a1.85,1.85 0 1,0 -3.7,0a1.85,1.85 0 1,0 3.7,0M71.08,460.41a1.85,1.85 0 1,0 -3.7,0a1.85,1.85 0 1,0 3.7,0M70.77,458.08a1.85,1.85 0 1,0 -3.7,0a1.85,1.85 0 1,0 3.7,0M68.15,449.84a1.85,1.85 0 1,0 -3.7,0a1.85,1.85 0 1,0 3.7,0M42.44,455.64a1.85,1.85 0 1,0 -3.7,0a1.85,1.85 0 1,0 3.7,0M76.98,452.07a1.85,1.85 0 1,0 -3.7,0a1.85,1.85 0 1,0 3.7,0M54.11,434.78a1.85,1.85 0 1,0 -3.7,0a1.85,1.85 0 1,0 3.7,0M48.62,454.63a1.85,1.85 0 1,0 -3.7,0a1.85,1.85 0 1,0 3.7,0M47.89,431.67a1.85,1.85 0 1,0 -3.7,0a1.85,1.85 0 1,0 3.7,0M41.45,443.51a1.85,1.85 0 1,0 -3.7,0a1.85,1.85 0 1,0 3.7,0M48.71,441.75a1.85,1.85 0 1,0 -3.7,0a1.85,1.85 0 1,0 3.7,0M48.68,455.00a1.85,1.85 0 1,0 -3.7,0a1.85,1.85 0 1,0 3.7,0M44.62,457.70a1.85,1.85 0 1,0 -3.7,0a1.85,1.85 0 1,0 3.7,0M39.98,457.79a1.85,1.85 0 1,0 -3.7,0a1.85,1.85 0 1,0 3.7,0M47.21,434.02a1.85,1.85 0 1,0 -3.7,0a1.85,1.85 0 1,0 3.7,0M65.76,446.75a1.85,1.85 0 1,0 -3.7,0a1.85,1.85 0 1,0 3.7,0M71.62,455.63a1.85,1.85 0 1,0 -3.7,0a1.85,1.85 0 1,0 3.7,0M47.11,449.21a1.85,1.85 0 1,0 -3.7,0a1.85,1.85 0 1,0 3.7,0M47.26,434.60a1.85,1.85 0 1,0 -3.7,0a1.85,1.85 0 1,0 3.7,0M55.51,433.88a1.85,1.85 0 1,0 -3.7,0a1.85,1.85 0 1,0 3.7,0M54.57,436.06a1.85,1.85 0 1,0 -3.7,0a1.85,1.85 0 1,0 3.7,0M53.66,450.85a1.85,1.85 0 1,0 -3.7,0a1.85,1.85 0 1,0 3.7,0M48.07,443.65a1.85,1.85 0 1,0 -3.7,0a1.85,1.85 0 1,0 3.7,0M45.28,444.57a1.85,1.85 0 1,0 -3.7,0a1.85,1.85 0 1,0 3.7,0M58.19,439.61a1.85,1.85 0 1,0 -3.7,0a1.85,1.85 0 1,0 3.7,0M72.94,453.12a1.85,1.85 0 1,0 -3.7,0a1.85,1.85 0 1,0 3.7,0M67.21,452.04a1.85,1.85 0 1,0 -3.7,0a1.85,1.85 0 1,0 3.7,0M56.67,457.32a1.85,1.85 0 1,0 -3.7,0a1.85,1.85 0 1,0 3.7,0M56.20,445.42a1.85,1.85 0 1,0 -3.7,0a1.85,1.85 0 1,0 3.7,0M66.04,444.66a1.85,1.85 0 1,0 -3.7,0a1.85,1.85 0 1,0 3.7,0M43.29,450.73a1.85,1.85 0 1,0 -3.7,0a1.85,1.85 0 1,0 3.7,0M63.73,452.49a1.85,1.85 0 1,0 -3.7,0a1.85,1.85 0 1,0 3.7,0M51.38,435.24a1.85,1.85 0 1,0 -3.7,0a1.85,1.85 0 1,0 3.7,0M46.38,453.21a1.85,1.85 0 1,0 -3.7,0a1.85,1.85 0 1,0 3.7,0M56.53,432.06a1.85,1.85 0 1,0 -3.7,0a1.85,1.85 0 1,0 3.7,0M52.01,458.50a1.85,1.85 0 1,0 -3.7,0a1.85,1.85 0 1,0 3.7,0M44.33,439.95a1.85,1.85 0 1,0 -3.7,0a1.85,1.85 0 1,0 3.7,0M51.41,446.20a1.85,1.85 0 1,0 -3.7,0a1.85,1.85 0 1,0 3.7,0M60.20,451.13a1.85,1.85 0 1,0 -3.7,0a1.85,1.85 0 1,0 3.7,0M39.67,450.48a1.85,1.85 0 1,0 -3.7,0a1.85,1.85 0 1,0 3.7,0M54.55,463.49a1.85,1.85 0 1,0 -3.7,0a1.85,1.85 0 1,0 3.7,0M51.93,459.75a1.85,1.85 0 1,0 -3.7,0a1.85,1.85 0 1,0 3.7,0M54.77,459.43a1.85,1.85 0 1,0 -3.7,0a1.85,1.85 0 1,0 3.7,0M43.79,457.50a1.85,1.85 0 1,0 -3.7,0a1.85,1.85 0 1,0 3.7,0M76.43,460.05a1.85,1.85 0 1,0 -3.7,0a1.85,1.85 0 1,0 3.7,0M44.28,463.75a1.85,1.85 0 1,0 -3.7,0a1.85,1.85 0 1,0 3.7,0M63.34,463.23a1.85,1.85 0 1,0 -3.7,0a1.85,1.85 0 1,0 3.7,0M67.66,462.23a1.85,1.85 0 1,0 -3.7,0a1.85,1.85 0 1,0 3.7,0M51.99,459.61a1.85,1.85 0 1,0 -3.7,0a1.85,1.85 0 1,0 3.7,0M49.22,458.06a1.85,1.85 0 1,0 -3.7,0a1.85,1.85 0 1,0 3.7,0M66.72,457.71a1.85,1.85 0 1,0 -3.7,0a1.85,1.85 0 1,0 3.7,0M64.39,457.42a1.85,1.85 0 1,0 -3.7,0a1.85,1.85 0 1,0 3.7,0M45.60,462.04a1.85,1.85 0 1,0 -3.7,0a1.85,1.85 0 1,0 3.7,0M47.09,460.13a1.85,1.85 0 1,0 -3.7,0a1.85,1.85 0 1,0 3.7,0M63.91,461.77a1.85,1.85 0 1,0 -3.7,0a1.85,1.85 0 1,0 3.7,0M48.26,461.89a1.85,1.85 0 1,0 -3.7,0a1.85,1.85 0 1,0 3.7,0M53.15,461.88a1.85,1.85 0 1,0 -3.7,0a1.85,1.85 0 1,0 3.7,0M60.17,459.95a1.85,1.85 0 1,0 -3.7,0a1.85,1.85 0 1,0 3.7,0M40.71,457.95a1.85,1.85 0 1,0 -3.7,0a1.85,1.85 0 1,0 3.7,0M49.77,459.00a1.85,1.85 0 1,0 -3.7,0a1.85,1.85 0 1,0 3.7,0" fill="none" stroke="#000" stroke-width="0.8"/>
<line x1="37.50" y1="460.21" x2="80.00" y2="453.81" stroke="#660000" stroke-width="2.2" stroke-linecap="round"/>
<circle cx="36.60" cy="460.35" r="1.85" fill="none" stroke="#f00" stroke-width="0.8"/>
<circle cx="146.50" cy="443.80" r="1.85" fill="none" stroke="#f00" stroke-width="0.8"/>
<rect x="32.90" y="373.70" width="117.60" height="89.90" fill="none" stroke="#222" stroke-width="0.9"/>
<line x1="36.60" y1="463.60" x2="36.60" y2="468.40" stroke="#222" stroke-width="0.9"/>
<text x="0" y="0" transform="translate(36.60,480.80) scale(1,1.1)" font-size="9.3" text-anchor="middle" font-weight="normal">0</text>
<line x1="58.58" y1="463.60" x2="58.58" y2="468.40" stroke="#222" stroke-width="0.9"/>
<text x="0" y="0" transform="translate(58.58,480.80) scale(1,1.1)" font-size="9.3" text-anchor="middle" font-weight="normal">200</text>
<line x1="80.56" y1="463.60" x2="80.56" y2="468.40" stroke="#222" stroke-width="0.9"/>
<line x1="102.54" y1="463.60" x2="102.54" y2="468.40" stroke="#222" stroke-width="0.9"/>
<text x="0" y="0" transform="translate(102.54,480.80) scale(1,1.1)" font-size="9.3" text-anchor="middle" font-weight="normal">600</text>
<line x1="124.52" y1="463.60" x2="124.52" y2="468.40" stroke="#222" stroke-width="0.9"/>
<line x1="146.50" y1="463.60" x2="146.50" y2="468.40" stroke="#222" stroke-width="0.9"/>
<text x="0" y="0" transform="translate(146.50,480.80) scale(1,1.1)" font-size="9.3" text-anchor="middle" font-weight="normal">1000</text>
<line x1="28.10" y1="460.35" x2="32.90" y2="460.35" stroke="#222" stroke-width="0.9"/>
<text x="0" y="0" transform="translate(21.60,460.35) rotate(-90) scale(1,1.1)" font-size="9.3" text-anchor="middle" font-weight="normal">0</text>
<line x1="28.10" y1="443.80" x2="32.90" y2="443.80" stroke="#222" stroke-width="0.9"/>
<line x1="28.10" y1="427.25" x2="32.90" y2="427.25" stroke="#222" stroke-width="0.9"/>
<text x="0" y="0" transform="translate(21.60,427.25) rotate(-90) scale(1,1.1)" font-size="9.3" text-anchor="middle" font-weight="normal">2000</text>
<line x1="28.10" y1="410.70" x2="32.90" y2="410.70" stroke="#222" stroke-width="0.9"/>
<line x1="28.10" y1="394.15" x2="32.90" y2="394.15" stroke="#222" stroke-width="0.9"/>
<text x="0" y="0" transform="translate(21.60,394.15) rotate(-90) scale(1,1.1)" font-size="9.3" text-anchor="middle" font-weight="normal">4000</text>
<line x1="28.10" y1="377.60" x2="32.90" y2="377.60" stroke="#222" stroke-width="0.9"/>
<text x="0" y="0" transform="translate(91.70,494.60) scale(1,1.2)" font-size="8.5" text-anchor="middle" font-weight="normal">Human TSS</text>
<text x="0" y="0" transform="translate(9.00,418.65) rotate(-90) scale(1,1.2)" font-size="8.5" text-anchor="middle" font-weight="normal">Chicken TSS</text>
<text x="0" y="0" transform="translate(268.05,358.40) scale(1,1.05)" font-size="9.5" text-anchor="middle" font-weight="bold">Chicken</text>
<line x1="223.19" y1="460.35" x2="223.19" y2="377.60" stroke="#666" stroke-width="0.9" stroke-dasharray="1,3"/>
<polyline points="212.30,460.35 217.75,388.36 223.19,377.60 228.63,377.60 234.08,377.60 239.53,377.60 244.97,377.60 250.41,377.60 255.86,377.60 261.31,377.60 266.75,377.60 272.19,377.60 277.64,377.60 283.08,377.60 288.53,377.60 293.98,377.60 299.42,377.60 304.87,377.60 310.31,377.60 315.75,377.60 321.20,377.60" fill="none" stroke="#000" stroke-width="0.9" stroke-dasharray="1,3,4,3"/>
<circle cx="212.30" cy="460.35" r="2.1" fill="#000"/>
<circle cx="217.75" cy="388.36" r="2.1" fill="#000"/>
<circle cx="223.19" cy="377.60" r="2.1" fill="#000"/>
<circle cx="228.63" cy="377.60" r="2.1" fill="#000"/>
<circle cx="234.08" cy="377.60" r="2.1" fill="#000"/>
<circle cx="239.53" cy="377.60" r="2.1" fill="#000"/>
<circle cx="244.97" cy="377.60" r="2.1" fill="#000"/>
<circle cx="250.41" cy="377.60" r="2.1" fill="#000"/>
<circle cx="255.86" cy="377.60" r="2.1" fill="#000"/>
<circle cx="261.31" cy="377.60" r="2.1" fill="#000"/>
<circle cx="266.75" cy="377.60" r="2.1" fill="#000"/>
<circle cx="272.19" cy="377.60" r="2.1" fill="#000"/>
<circle cx="277.64" cy="377.60" r="2.1" fill="#000"/>
<circle cx="283.08" cy="377.60" r="2.1" fill="#000"/>
<circle cx="288.53" cy="377.60" r="2.1" fill="#000"/>
<circle cx="293.98" cy="377.60" r="2.1" fill="#000"/>
<circle cx="299.42" cy="377.60" r="2.1" fill="#000"/>
<circle cx="304.87" cy="377.60" r="2.1" fill="#000"/>
<circle cx="310.31" cy="377.60" r="2.1" fill="#000"/>
<circle cx="315.75" cy="377.60" r="2.1" fill="#000"/>
<circle cx="321.20" cy="377.60" r="2.1" fill="#000"/>
<polyline points="212.30,460.10 217.75,430.23 223.19,418.89 228.63,414.59 234.08,410.45 239.53,406.89 244.97,404.16 250.41,402.01 255.86,400.60 261.31,399.36 266.75,398.45 272.19,397.54 277.64,396.63 283.08,395.72 288.53,394.89 293.98,394.48 299.42,393.74 304.87,393.07 310.31,392.58 315.75,392.16 321.20,391.67" fill="none" stroke="#33cc33" stroke-width="0.9"/>
<path d="M209.90,460.10h4.8M212.30,457.70v4.8M215.34,430.23h4.8M217.75,427.83v4.8M220.79,418.89h4.8M223.19,416.49v4.8M226.23,414.59h4.8M228.63,412.19v4.8M231.68,410.45h4.8M234.08,408.05v4.8M237.12,406.89h4.8M239.53,404.49v4.8M242.57,404.16h4.8M244.97,401.76v4.8M248.01,402.01h4.8M250.41,399.61v4.8M253.46,400.60h4.8M255.86,398.20v4.8M258.91,399.36h4.8M261.31,396.96v4.8M264.35,398.45h4.8M266.75,396.05v4.8M269.80,397.54h4.8M272.19,395.14v4.8M275.24,396.63h4.8M277.64,394.23v4.8M280.69,395.72h4.8M283.08,393.32v4.8M286.13,394.89h4.8M288.53,392.49v4.8M291.58,394.48h4.8M293.98,392.08v4.8M297.02,393.74h4.8M299.42,391.34v4.8M302.47,393.07h4.8M304.87,390.67v4.8M307.91,392.58h4.8M310.31,390.18v4.8M313.36,392.16h4.8M315.75,389.76v4.8M318.80,391.67h4.8M321.20,389.27v4.8" stroke="#33cc33" stroke-width="0.9"/>
<rect x="207.70" y="373.70" width="117.70" height="89.90" fill="none" stroke="#222" stroke-width="0.9"/>
<line x1="212.30" y1="463.60" x2="212.30" y2="468.40" stroke="#222" stroke-width="0.9"/>
<text x="0" y="0" transform="translate(212.30,480.80) scale(1,1.1)" font-size="9.3" text-anchor="middle" font-weight="normal">0</text>
<line x1="234.08" y1="463.60" x2="234.08" y2="468.40" stroke="#222" stroke-width="0.9"/>
<text x="0" y="0" transform="translate(234.08,480.80) scale(1,1.1)" font-size="9.3" text-anchor="middle" font-weight="normal">2000</text>
<line x1="255.86" y1="463.60" x2="255.86" y2="468.40" stroke="#222" stroke-width="0.9"/>
<line x1="277.64" y1="463.60" x2="277.64" y2="468.40" stroke="#222" stroke-width="0.9"/>
<text x="0" y="0" transform="translate(277.64,480.80) scale(1,1.1)" font-size="9.3" text-anchor="middle" font-weight="normal">6000</text>
<line x1="299.42" y1="463.60" x2="299.42" y2="468.40" stroke="#222" stroke-width="0.9"/>
<line x1="321.20" y1="463.60" x2="321.20" y2="468.40" stroke="#222" stroke-width="0.9"/>
<text x="0" y="0" transform="translate(321.20,480.80) scale(1,1.1)" font-size="9.3" text-anchor="middle" font-weight="normal">10000</text>
<line x1="202.90" y1="460.35" x2="207.70" y2="460.35" stroke="#222" stroke-width="0.9"/>
<text x="0" y="0" transform="translate(196.40,460.35) rotate(-90) scale(1,1.1)" font-size="9.3" text-anchor="middle" font-weight="normal">0</text>
<line x1="202.90" y1="443.80" x2="207.70" y2="443.80" stroke="#222" stroke-width="0.9"/>
<text x="0" y="0" transform="translate(196.40,443.80) rotate(-90) scale(1,1.1)" font-size="9.3" text-anchor="middle" font-weight="normal">20</text>
<line x1="202.90" y1="427.25" x2="207.70" y2="427.25" stroke="#222" stroke-width="0.9"/>
<line x1="202.90" y1="410.70" x2="207.70" y2="410.70" stroke="#222" stroke-width="0.9"/>
<text x="0" y="0" transform="translate(196.40,410.70) rotate(-90) scale(1,1.1)" font-size="9.3" text-anchor="middle" font-weight="normal">60</text>
<line x1="202.90" y1="394.15" x2="207.70" y2="394.15" stroke="#222" stroke-width="0.9"/>
<line x1="202.90" y1="377.60" x2="207.70" y2="377.60" stroke="#222" stroke-width="0.9"/>
<text x="0" y="0" transform="translate(196.40,377.60) rotate(-90) scale(1,1.1)" font-size="9.3" text-anchor="middle" font-weight="normal">100</text>
<text x="0" y="0" transform="translate(266.55,494.60) scale(1,1.2)" font-size="8.5" text-anchor="middle" font-weight="normal">TSS</text>
<text x="0" y="0" transform="translate(183.80,418.65) rotate(-90) scale(1,1.2)" font-size="8.5" text-anchor="middle" font-weight="normal">Cumulative percentage(%)</text>
<text x="0" y="0" transform="translate(443.00,358.40) scale(1,1.05)" font-size="9.5" text-anchor="middle" font-weight="bold">Fugu</text>
<clipPath id="cp2_2"><rect x="382.70" y="373.70" width="117.60" height="89.90"/></clipPath>
<line x1="386.50" y1="460.35" x2="496.40" y2="443.80" stroke="#f22" stroke-width="0.9"/>
<path clip-path="url(#cp2_2)" d="M391.25,377.70a1.85,1.85 0 1,0 -3.7,0a1.85,1.85 0 1,0 3.7,0M399.65,376.60a1.85,1.85 0 1,0 -3.7,0a1.85,1.85 0 1,0 3.7,0M398.35,378.80a1.85,1.85 0 1,0 -3.7,0a1.85,1.85 0 1,0 3.7,0M400.95,377.90a1.85,1.85 0 1,0 -3.7,0a1.85,1.85 0 1,0 3.7,0M401.35,380.60a1.85,1.85 0 1,0 -3.7,0a1.85,1.85 0 1,0 3.7,0M399.15,381.00a1.85,1.85 0 1,0 -3.7,0a1.85,1.85 0 1,0 3.7,0M402.65,382.80a1.85,1.85 0 1,0 -3.7,0a1.85,1.85 0 1,0 3.7,0M396.15,383.60a1.85,1.85 0 1,0 -3.7,0a1.85,1.85 0 1,0 3.7,0M404.85,374.40a1.85,1.85 0 1,0 -3.7,0a1.85,1.85 0 1,0 3.7,0M408.35,375.80a1.85,1.85 0 1,0 -3.7,0a1.85,1.85 0 1,0 3.7,0M409.25,377.50a1.85,1.85 0 1,0 -3.7,0a1.85,1.85 0 1,0 3.7,0M396.55,374.00a1.85,1.85 0 1,0 -3.7,0a1.85,1.85 0 1,0 3.7,0M415.35,376.60a1.85,1.85 0 1,0 -3.7,0a1.85,1.85 0 1,0 3.7,0M416.65,380.60a1.85,1.85 0 1,0 -3.7,0a1.85,1.85 0 1,0 3.7,0M418.45,380.60a1.85,1.85 0 1,0 -3.7,0a1.85,1.85 0 1,0 3.7,0M415.85,384.50a1.85,1.85 0 1,0 -3.7,0a1.85,1.85 0 1,0 3.7,0M432.05,382.30a1.85,1.85 0 1,0 -3.7,0a1.85,1.85 0 1,0 3.7,0M442.55,377.10a1.85,1.85 0 1,0 -3.7,0a1.85,1.85 0 1,0 3.7,0M396.55,388.50a1.85,1.85 0 1,0 -3.7,0a1.85,1.85 0 1,0 3.7,0M401.85,388.90a1.85,1.85 0 1,0 -3.7,0a1.85,1.85 0 1,0 3.7,0M407.45,386.30a1.85,1.85 0 1,0 -3.7,0a1.85,1.85 0 1,0 3.7,0M410.15,389.80a1.85,1.85 0 1,0 -3.7,0a1.85,1.85 0 1,0 3.7,0M412.75,388.90a1.85,1.85 0 1,0 -3.7,0a1.85,1.85 0 1,0 3.7,0M415.35,391.10a1.85,1.85 0 1,0 -3.7,0a1.85,1.85 0 1,0 3.7,0M409.25,392.40a1.85,1.85 0 1,0 -3.7,0a1.85,1.85 0 1,0 3.7,0M395.65,392.80a1.85,1.85 0 1,0 -3.7,0a1.85,1.85 0 1,0 3.7,0M400.45,392.40a1.85,1.85 0 1,0 -3.7,0a1.85,1.85 0 1,0 3.7,0M424.15,391.30a1.85,1.85 0 1,0 -3.7,0a1.85,1.85 0 1,0 3.7,0M403.95,395.50a1.85,1.85 0 1,0 -3.7,0a1.85,1.85 0 1,0 3.7,0M403.95,398.10a1.85,1.85 0 1,0 -3.7,0a1.85,1.85 0 1,0 3.7,0M398.75,397.60a1.85,1.85 0 1,0 -3.7,0a1.85,1.85 0 1,0 3.7,0M412.75,396.30a1.85,1.85 0 1,0 -3.7,0a1.85,1.85 0 1,0 3.7,0M414.55,398.50a1.85,1.85 0 1,0 -3.7,0a1.85,1.85 0 1,0 3.7,0M416.65,399.40a1.85,1.85 0 1,0 -3.7,0a1.85,1.85 0 1,0 3.7,0M418.85,397.60a1.85,1.85 0 1,0 -3.7,0a1.85,1.85 0 1,0 3.7,0M415.85,400.70a1.85,1.85 0 1,0 -3.7,0a1.85,1.85 0 1,0 3.7,0M429.35,396.80a1.85,1.85 0 1,0 -3.7,0a1.85,1.85 0 1,0 3.7,0M441.25,398.50a1.85,1.85 0 1,0 -3.7,0a1.85,1.85 0 1,0 3.7,0M391.75,402.00a1.85,1.85 0 1,0 -3.7,0a1.85,1.85 0 1,0 3.7,0M395.25,401.60a1.85,1.85 0 1,0 -3.7,0a1.85,1.85 0 1,0 3.7,0M400.05,402.50a1.85,1.85 0 1,0 -3.7,0a1.85,1.85 0 1,0 3.7,0M410.55,403.80a1.85,1.85 0 1,0 -3.7,0a1.85,1.85 0 1,0 3.7,0M405.35,404.70a1.85,1.85 0 1,0 -3.7,0a1.85,1.85 0 1,0 3.7,0M427.65,402.00a1.85,1.85 0 1,0 -3.7,0a1.85,1.85 0 1,0 3.7,0M425.05,405.10a1.85,1.85 0 1,0 -3.7,0a1.85,1.85 0 1,0 3.7,0M416.65,405.50a1.85,1.85 0 1,0 -3.7,0a1.85,1.85 0 1,0 3.7,0M413.65,407.70a1.85,1.85 0 1,0 -3.7,0a1.85,1.85 0 1,0 3.7,0M392.15,407.70a1.85,1.85 0 1,0 -3.7,0a1.85,1.85 0 1,0 3.7,0M390.85,413.00a1.85,1.85 0 1,0 -3.7,0a1.85,1.85 0 1,0 3.7,0M438.55,408.60a1.85,1.85 0 1,0 -3.7,0a1.85,1.85 0 1,0 3.7,0M438.15,411.70a1.85,1.85 0 1,0 -3.7,0a1.85,1.85 0 1,0 3.7,0M429.85,409.50a1.85,1.85 0 1,0 -3.7,0a1.85,1.85 0 1,0 3.7,0M432.85,411.70a1.85,1.85 0 1,0 -3.7,0a1.85,1.85 0 1,0 3.7,0M439.05,416.90a1.85,1.85 0 1,0 -3.7,0a1.85,1.85 0 1,0 3.7,0M443.45,415.20a1.85,1.85 0 1,0 -3.7,0a1.85,1.85 0 1,0 3.7,0M443.15,377.10a1.85,1.85 0 1,0 -3.7,0a1.85,1.85 0 1,0 3.7,0M448.55,377.40a1.85,1.85 0 1,0 -3.7,0a1.85,1.85 0 1,0 3.7,0M465.45,374.00a1.85,1.85 0 1,0 -3.7,0a1.85,1.85 0 1,0 3.7,0M467.65,380.40a1.85,1.85 0 1,0 -3.7,0a1.85,1.85 0 1,0 3.7,0M450.05,383.80a1.85,1.85 0 1,0 -3.7,0a1.85,1.85 0 1,0 3.7,0M452.95,388.40a1.85,1.85 0 1,0 -3.7,0a1.85,1.85 0 1,0 3.7,0M456.95,388.10a1.85,1.85 0 1,0 -3.7,0a1.85,1.85 0 1,0 3.7,0M463.95,390.50a1.85,1.85 0 1,0 -3.7,0a1.85,1.85 0 1,0 3.7,0M477.45,385.60a1.85,1.85 0 1,0 -3.7,0a1.85,1.85 0 1,0 3.7,0M489.95,385.40a1.85,1.85 0 1,0 -3.7,0a1.85,1.85 0 1,0 3.7,0M489.45,392.30a1.85,1.85 0 1,0 -3.7,0a1.85,1.85 0 1,0 3.7,0M468.55,396.30a1.85,1.85 0 1,0 -3.7,0a1.85,1.85 0 1,0 3.7,0M468.75,396.00a1.85,1.85 0 1,0 -3.7,0a1.85,1.85 0 1,0 3.7,0M457.75,399.80a1.85,1.85 0 1,0 -3.7,0a1.85,1.85 0 1,0 3.7,0M477.45,399.80a1.85,1.85 0 1,0 -3.7,0a1.85,1.85 0 1,0 3.7,0M495.25,400.00a1.85,1.85 0 1,0 -3.7,0a1.85,1.85 0 1,0 3.7,0M444.05,401.20a1.85,1.85 0 1,0 -3.7,0a1.85,1.85 0 1,0 3.7,0M442.75,398.90a1.85,1.85 0 1,0 -3.7,0a1.85,1.85 0 1,0 3.7,0M455.25,404.70a1.85,1.85 0 1,0 -3.7,0a1.85,1.85 0 1,0 3.7,0M453.85,407.70a1.85,1.85 0 1,0 -3.7,0a1.85,1.85 0 1,0 3.7,0M452.55,410.50a1.85,1.85 0 1,0 -3.7,0a1.85,1.85 0 1,0 3.7,0M456.55,411.40a1.85,1.85 0 1,0 -3.7,0a1.85,1.85 0 1,0 3.7,0M450.75,412.70a1.85,1.85 0 1,0 -3.7,0a1.85,1.85 0 1,0 3.7,0M447.65,414.20a1.85,1.85 0 1,0 -3.7,0a1.85,1.85 0 1,0 3.7,0M444.05,415.70a1.85,1.85 0 1,0 -3.7,0a1.85,1.85 0 1,0 3.7,0M470.75,410.50a1.85,1.85 0 1,0 -3.7,0a1.85,1.85 0 1,0 3.7,0M472.15,414.10a1.85,1.85 0 1,0 -3.7,0a1.85,1.85 0 1,0 3.7,0M456.05,417.60a1.85,1.85 0 1,0 -3.7,0a1.85,1.85 0 1,0 3.7,0M464.15,418.50a1.85,1.85 0 1,0 -3.7,0a1.85,1.85 0 1,0 3.7,0M485.45,419.90a1.85,1.85 0 1,0 -3.7,0a1.85,1.85 0 1,0 3.7,0M489.95,418.50a1.85,1.85 0 1,0 -3.7,0a1.85,1.85 0 1,0 3.7,0M493.05,417.60a1.85,1.85 0 1,0 -3.7,0a1.85,1.85 0 1,0 3.7,0M394.85,457.90a1.85,1.85 0 1,0 -3.7,0a1.85,1.85 0 1,0 3.7,0M400.05,456.50a1.85,1.85 0 1,0 -3.7,0a1.85,1.85 0 1,0 3.7,0M407.45,460.00a1.85,1.85 0 1,0 -3.7,0a1.85,1.85 0 1,0 3.7,0M410.15,459.20a1.85,1.85 0 1,0 -3.7,0a1.85,1.85 0 1,0 3.7,0M415.35,454.80a1.85,1.85 0 1,0 -3.7,0a1.85,1.85 0 1,0 3.7,0M418.05,459.20a1.85,1.85 0 1,0 -3.7,0a1.85,1.85 0 1,0 3.7,0M421.05,457.90a1.85,1.85 0 1,0 -3.7,0a1.85,1.85 0 1,0 3.7,0M424.55,459.20a1.85,1.85 0 1,0 -3.7,0a1.85,1.85 0 1,0 3.7,0M426.75,455.70a1.85,1.85 0 1,0 -3.7,0a1.85,1.85 0 1,0 3.7,0M431.15,454.80a1.85,1.85 0 1,0 -3.7,0a1.85,1.85 0 1,0 3.7,0M435.55,458.70a1.85,1.85 0 1,0 -3.7,0a1.85,1.85 0 1,0 3.7,0M440.35,458.30a1.85,1.85 0 1,0 -3.7,0a1.85,1.85 0 1,0 3.7,0M434.65,423.30a1.85,1.85 0 1,0 -3.7,0a1.85,1.85 0 1,0 3.7,0M430.25,424.60a1.85,1.85 0 1,0 -3.7,0a1.85,1.85 0 1,0 3.7,0M439.95,432.90a1.85,1.85 0 1,0 -3.7,0a1.85,1.85 0 1,0 3.7,0M436.45,435.10a1.85,1.85 0 1,0 -3.7,0a1.85,1.85 0 1,0 3.7,0M434.65,437.70a1.85,1.85 0 1,0 -3.7,0a1.85,1.85 0 1,0 3.7,0M432.45,439.90a1.85,1.85 0 1,0 -3.7,0a1.85,1.85 0 1,0 3.7,0M438.55,443.40a1.85,1.85 0 1,0 -3.7,0a1.85,1.85 0 1,0 3.7,0M443.45,444.30a1.85,1.85 0 1,0 -3.7,0a1.85,1.85 0 1,0 3.7,0M434.25,446.90a1.85,1.85 0 1,0 -3.7,0a1.85,1.85 0 1,0 3.7,0M431.15,450.40a1.85,1.85 0 1,0 -3.7,0a1.85,1.85 0 1,0 3.7,0M442.05,448.20a1.85,1.85 0 1,0 -3.7,0a1.85,1.85 0 1,0 3.7,0M388.25,447.80a1.85,1.85 0 1,0 -3.7,0a1.85,1.85 0 1,0 3.7,0M388.65,436.80a1.85,1.85 0 1,0 -3.7,0a1.85,1.85 0 1,0 3.7,0M391.75,424.60a1.85,1.85 0 1,0 -3.7,0a1.85,1.85 0 1,0 3.7,0M391.75,431.60a1.85,1.85 0 1,0 -3.7,0a1.85,1.85 0 1,0 3.7,0M456.05,418.40a1.85,1.85 0 1,0 -3.7,0a1.85,1.85 0 1,0 3.7,0M464.15,419.30a1.85,1.85 0 1,0 -3.7,0a1.85,1.85 0 1,0 3.7,0M465.45,421.10a1.85,1.85 0 1,0 -3.7,0a1.85,1.85 0 1,0 3.7,0M485.45,420.70a1.85,1.85 0 1,0 -3.7,0a1.85,1.85 0 1,0 3.7,0M489.05,419.30a1.85,1.85 0 1,0 -3.7,0a1.85,1.85 0 1,0 3.7,0M492.65,418.90a1.85,1.85 0 1,0 -3.7,0a1.85,1.85 0 1,0 3.7,0M490.35,423.80a1.85,1.85 0 1,0 -3.7,0a1.85,1.85 0 1,0 3.7,0M491.75,426.90a1.85,1.85 0 1,0 -3.7,0a1.85,1.85 0 1,0 3.7,0M489.95,428.70a1.85,1.85 0 1,0 -3.7,0a1.85,1.85 0 1,0 3.7,0M445.45,429.10a1.85,1.85 0 1,0 -3.7,0a1.85,1.85 0 1,0 3.7,0M448.05,426.90a1.85,1.85 0 1,0 -3.7,0a1.85,1.85 0 1,0 3.7,0M451.25,425.60a1.85,1.85 0 1,0 -3.7,0a1.85,1.85 0 1,0 3.7,0M451.65,430.50a1.85,1.85 0 1,0 -3.7,0a1.85,1.85 0 1,0 3.7,0M447.65,430.50a1.85,1.85 0 1,0 -3.7,0a1.85,1.85 0 1,0 3.7,0M444.55,434.50a1.85,1.85 0 1,0 -3.7,0a1.85,1.85 0 1,0 3.7,0M444.55,436.70a1.85,1.85 0 1,0 -3.7,0a1.85,1.85 0 1,0 3.7,0M444.85,432.50a1.85,1.85 0 1,0 -3.7,0a1.85,1.85 0 1,0 3.7,0M459.65,434.00a1.85,1.85 0 1,0 -3.7,0a1.85,1.85 0 1,0 3.7,0M469.85,434.50a1.85,1.85 0 1,0 -3.7,0a1.85,1.85 0 1,0 3.7,0M470.05,434.30a1.85,1.85 0 1,0 -3.7,0a1.85,1.85 0 1,0 3.7,0M473.95,430.50a1.85,1.85 0 1,0 -3.7,0a1.85,1.85 0 1,0 3.7,0M476.55,431.80a1.85,1.85 0 1,0 -3.7,0a1.85,1.85 0 1,0 3.7,0M477.45,435.80a1.85,1.85 0 1,0 -3.7,0a1.85,1.85 0 1,0 3.7,0M481.05,438.90a1.85,1.85 0 1,0 -3.7,0a1.85,1.85 0 1,0 3.7,0M486.85,434.90a1.85,1.85 0 1,0 -3.7,0a1.85,1.85 0 1,0 3.7,0M459.25,440.30a1.85,1.85 0 1,0 -3.7,0a1.85,1.85 0 1,0 3.7,0M458.35,443.80a1.85,1.85 0 1,0 -3.7,0a1.85,1.85 0 1,0 3.7,0M463.25,444.70a1.85,1.85 0 1,0 -3.7,0a1.85,1.85 0 1,0 3.7,0M470.35,443.40a1.85,1.85 0 1,0 -3.7,0a1.85,1.85 0 1,0 3.7,0M444.05,442.90a1.85,1.85 0 1,0 -3.7,0a1.85,1.85 0 1,0 3.7,0M448.05,445.20a1.85,1.85 0 1,0 -3.7,0a1.85,1.85 0 1,0 3.7,0M445.45,446.00a1.85,1.85 0 1,0 -3.7,0a1.85,1.85 0 1,0 3.7,0M442.75,448.30a1.85,1.85 0 1,0 -3.7,0a1.85,1.85 0 1,0 3.7,0M445.85,448.30a1.85,1.85 0 1,0 -3.7,0a1.85,1.85 0 1,0 3.7,0M482.85,448.30a1.85,1.85 0 1,0 -3.7,0a1.85,1.85 0 1,0 3.7,0M444.95,454.10a1.85,1.85 0 1,0 -3.7,0a1.85,1.85 0 1,0 3.7,0M449.85,458.10a1.85,1.85 0 1,0 -3.7,0a1.85,1.85 0 1,0 3.7,0M466.35,457.20a1.85,1.85 0 1,0 -3.7,0a1.85,1.85 0 1,0 3.7,0M441.85,458.50a1.85,1.85 0 1,0 -3.7,0a1.85,1.85 0 1,0 3.7,0M402.56,409.10a1.85,1.85 0 1,0 -3.7,0a1.85,1.85 0 1,0 3.7,0M407.80,412.20a1.85,1.85 0 1,0 -3.7,0a1.85,1.85 0 1,0 3.7,0M395.79,421.37a1.85,1.85 0 1,0 -3.7,0a1.85,1.85 0 1,0 3.7,0M409.81,434.53a1.85,1.85 0 1,0 -3.7,0a1.85,1.85 0 1,0 3.7,0M406.61,435.19a1.85,1.85 0 1,0 -3.7,0a1.85,1.85 0 1,0 3.7,0M393.78,413.92a1.85,1.85 0 1,0 -3.7,0a1.85,1.85 0 1,0 3.7,0M407.89,441.69a1.85,1.85 0 1,0 -3.7,0a1.85,1.85 0 1,0 3.7,0M408.56,423.19a1.85,1.85 0 1,0 -3.7,0a1.85,1.85 0 1,0 3.7,0M400.67,426.93a1.85,1.85 0 1,0 -3.7,0a1.85,1.85 0 1,0 3.7,0M391.76,439.54a1.85,1.85 0 1,0 -3.7,0a1.85,1.85 0 1,0 3.7,0M400.95,444.51a1.85,1.85 0 1,0 -3.7,0a1.85,1.85 0 1,0 3.7,0M403.10,409.83a1.85,1.85 0 1,0 -3.7,0a1.85,1.85 0 1,0 3.7,0M390.63,417.05a1.85,1.85 0 1,0 -3.7,0a1.85,1.85 0 1,0 3.7,0M393.00,417.01a1.85,1.85 0 1,0 -3.7,0a1.85,1.85 0 1,0 3.7,0M398.00,434.05a1.85,1.85 0 1,0 -3.7,0a1.85,1.85 0 1,0 3.7,0M405.67,421.15a1.85,1.85 0 1,0 -3.7,0a1.85,1.85 0 1,0 3.7,0M409.21,449.19a1.85,1.85 0 1,0 -3.7,0a1.85,1.85 0 1,0 3.7,0M394.53,422.10a1.85,1.85 0 1,0 -3.7,0a1.85,1.85 0 1,0 3.7,0M394.78,427.95a1.85,1.85 0 1,0 -3.7,0a1.85,1.85 0 1,0 3.7,0M403.39,448.38a1.85,1.85 0 1,0 -3.7,0a1.85,1.85 0 1,0 3.7,0M409.06,403.97a1.85,1.85 0 1,0 -3.7,0a1.85,1.85 0 1,0 3.7,0M404.72,430.85a1.85,1.85 0 1,0 -3.7,0a1.85,1.85 0 1,0 3.7,0M407.33,418.24a1.85,1.85 0 1,0 -3.7,0a1.85,1.85 0 1,0 3.7,0M394.72,445.89a1.85,1.85 0 1,0 -3.7,0a1.85,1.85 0 1,0 3.7,0M392.16,441.72a1.85,1.85 0 1,0 -3.7,0a1.85,1.85 0 1,0 3.7,0M409.80,418.94a1.85,1.85 0 1,0 -3.7,0a1.85,1.85 0 1,0 3.7,0M402.64,410.00a1.85,1.85 0 1,0 -3.7,0a1.85,1.85 0 1,0 3.7,0M402.56,422.45a1.85,1.85 0 1,0 -3.7,0a1.85,1.85 0 1,0 3.7,0M404.02,429.54a1.85,1.85 0 1,0 -3.7,0a1.85,1.85 0 1,0 3.7,0M403.95,403.37a1.85,1.85 0 1,0 -3.7,0a1.85,1.85 0 1,0 3.7,0M408.29,442.42a1.85,1.85 0 1,0 -3.7,0a1.85,1.85 0 1,0 3.7,0M402.31,440.79a1.85,1.85 0 1,0 -3.7,0a1.85,1.85 0 1,0 3.7,0M395.98,426.99a1.85,1.85 0 1,0 -3.7,0a1.85,1.85 0 1,0 3.7,0M401.03,450.98a1.85,1.85 0 1,0 -3.7,0a1.85,1.85 0 1,0 3.7,0M405.17,408.95a1.85,1.85 0 1,0 -3.7,0a1.85,1.85 0 1,0 3.7,0M395.08,409.40a1.85,1.85 0 1,0 -3.7,0a1.85,1.85 0 1,0 3.7,0M399.20,408.35a1.85,1.85 0 1,0 -3.7,0a1.85,1.85 0 1,0 3.7,0M393.26,439.28a1.85,1.85 0 1,0 -3.7,0a1.85,1.85 0 1,0 3.7,0M408.39,430.36a1.85,1.85 0 1,0 -3.7,0a1.85,1.85 0 1,0 3.7,0M390.19,436.35a1.85,1.85 0 1,0 -3.7,0a1.85,1.85 0 1,0 3.7,0M394.34,444.16a1.85,1.85 0 1,0 -3.7,0a1.85,1.85 0 1,0 3.7,0M404.41,414.33a1.85,1.85 0 1,0 -3.7,0a1.85,1.85 0 1,0 3.7,0M391.36,424.68a1.85,1.85 0 1,0 -3.7,0a1.85,1.85 0 1,0 3.7,0M407.60,408.00a1.85,1.85 0 1,0 -3.7,0a1.85,1.85 0 1,0 3.7,0M400.34,439.49a1.85,1.85 0 1,0 -3.7,0a1.85,1.85 0 1,0 3.7,0M391.23,431.95a1.85,1.85 0 1,0 -3.7,0a1.85,1.85 0 1,0 3.7,0M396.18,433.38a1.85,1.85 0 1,0 -3.7,0a1.85,1.85 0 1,0 3.7,0M404.67,411.24a1.85,1.85 0 1,0 -3.7,0a1.85,1.85 0 1,0 3.7,0M397.51,435.92a1.85,1.85 0 1,0 -3.7,0a1.85,1.85 0 1,0 3.7,0M396.55,403.84a1.85,1.85 0 1,0 -3.7,0a1.85,1.85 0 1,0 3.7,0M405.35,404.62a1.85,1.85 0 1,0 -3.7,0a1.85,1.85 0 1,0 3.7,0M409.66,410.54a1.85,1.85 0 1,0 -3.7,0a1.85,1.85 0 1,0 3.7,0M397.08,424.23a1.85,1.85 0 1,0 -3.7,0a1.85,1.85 0 1,0 3.7,0M395.51,426.30a1.85,1.85 0 1,0 -3.7,0a1.85,1.85 0 1,0 3.7,0M393.25,404.83a1.85,1.85 0 1,0 -3.7,0a1.85,1.85 0 1,0 3.7,0M403.58,403.97a1.85,1.85 0 1,0 -3.7,0a1.85,1.85 0 1,0 3.7,0M406.06,423.57a1.85,1.85 0 1,0 -3.7,0a1.85,1.85 0 1,0 3.7,0M409.39,449.38a1.85,1.85 0 1,0 -3.7,0a1.85,1.85 0 1,0 3.7,0M409.57,407.48a1.85,1.85 0 1,0 -3.7,0a1.85,1.85 0 1,0 3.7,0M395.36,411.32a1.85,1.85 0 1,0 -3.7,0a1.85,1.85 0 1,0 3.7,0M408.90,403.32a1.85,1.85 0 1,0 -3.7,0a1.85,1.85 0 1,0 3.7,0M404.44,441.84a1.85,1.85 0 1,0 -3.7,0a1.85,1.85 0 1,0 3.7,0M401.11,420.33a1.85,1.85 0 1,0 -3.7,0a1.85,1.85 0 1,0 3.7,0M402.65,422.91a1.85,1.85 0 1,0 -3.7,0a1.85,1.85 0 1,0 3.7,0M396.33,410.41a1.85,1.85 0 1,0 -3.7,0a1.85,1.85 0 1,0 3.7,0M393.92,426.11a1.85,1.85 0 1,0 -3.7,0a1.85,1.85 0 1,0 3.7,0M398.73,408.21a1.85,1.85 0 1,0 -3.7,0a1.85,1.85 0 1,0 3.7,0M406.69,412.51a1.85,1.85 0 1,0 -3.7,0a1.85,1.85 0 1,0 3.7,0M407.75,416.61a1.85,1.85 0 1,0 -3.7,0a1.85,1.85 0 1,0 3.7,0M392.99,431.24a1.85,1.85 0 1,0 -3.7,0a1.85,1.85 0 1,0 3.7,0M391.57,435.56a1.85,1.85 0 1,0 -3.7,0a1.85,1.85 0 1,0 3.7,0M406.87,404.25a1.85,1.85 0 1,0 -3.7,0a1.85,1.85 0 1,0 3.7,0M400.04,415.43a1.85,1.85 0 1,0 -3.7,0a1.85,1.85 0 1,0 3.7,0M407.38,443.79a1.85,1.85 0 1,0 -3.7,0a1.85,1.85 0 1,0 3.7,0M408.71,404.06a1.85,1.85 0 1,0 -3.7,0a1.85,1.85 0 1,0 3.7,0M404.60,423.44a1.85,1.85 0 1,0 -3.7,0a1.85,1.85 0 1,0 3.7,0M405.22,438.65a1.85,1.85 0 1,0 -3.7,0a1.85,1.85 0 1,0 3.7,0M409.33,419.58a1.85,1.85 0 1,0 -3.7,0a1.85,1.85 0 1,0 3.7,0M407.35,434.42a1.85,1.85 0 1,0 -3.7,0a1.85,1.85 0 1,0 3.7,0M408.74,407.50a1.85,1.85 0 1,0 -3.7,0a1.85,1.85 0 1,0 3.7,0M392.46,422.13a1.85,1.85 0 1,0 -3.7,0a1.85,1.85 0 1,0 3.7,0M399.40,443.62a1.85,1.85 0 1,0 -3.7,0a1.85,1.85 0 1,0 3.7,0M392.62,421.46a1.85,1.85 0 1,0 -3.7,0a1.85,1.85 0 1,0 3.7,0M397.49,410.56a1.85,1.85 0 1,0 -3.7,0a1.85,1.85 0 1,0 3.7,0M405.59,415.68a1.85,1.85 0 1,0 -3.7,0a1.85,1.85 0 1,0 3.7,0M392.79,430.32a1.85,1.85 0 1,0 -3.7,0a1.85,1.85 0 1,0 3.7,0M393.21,409.41a1.85,1.85 0 1,0 -3.7,0a1.85,1.85 0 1,0 3.7,0M395.38,416.73a1.85,1.85 0 1,0 -3.7,0a1.85,1.85 0 1,0 3.7,0M407.42,447.54a1.85,1.85 0 1,0 -3.7,0a1.85,1.85 0 1,0 3.7,0M397.02,415.99a1.85,1.85 0 1,0 -3.7,0a1.85,1.85 0 1,0 3.7,0M409.15,448.87a1.85,1.85 0 1,0 -3.7,0a1.85,1.85 0 1,0 3.7,0M401.61,428.72a1.85,1.85 0 1,0 -3.7,0a1.85,1.85 0 1,0 3.7,0M407.70,420.45a1.85,1.85 0 1,0 -3.7,0a1.85,1.85 0 1,0 3.7,0M398.01,426.15a1.85,1.85 0 1,0 -3.7,0a1.85,1.85 0 1,0 3.7,0M394.41,428.10a1.85,1.85 0 1,0 -3.7,0a1.85,1.85 0 1,0 3.7,0M406.39,424.38a1.85,1.85 0 1,0 -3.7,0a1.85,1.85 0 1,0 3.7,0M402.63,447.05a1.85,1.85 0 1,0 -3.7,0a1.85,1.85 0 1,0 3.7,0M394.94,443.86a1.85,1.85 0 1,0 -3.7,0a1.85,1.85 0 1,0 3.7,0M408.64,448.39a1.85,1.85 0 1,0 -3.7,0a1.85,1.85 0 1,0 3.7,0M391.19,436.89a1.85,1.85 0 1,0 -3.7,0a1.85,1.85 0 1,0 3.7,0M406.00,447.04a1.85,1.85 0 1,0 -3.7,0a1.85,1.85 0 1,0 3.7,0M398.69,429.55a1.85,1.85 0 1,0 -3.7,0a1.85,1.85 0 1,0 3.7,0M405.42,410.25a1.85,1.85 0 1,0 -3.7,0a1.85,1.85 0 1,0 3.7,0M404.97,444.70a1.85,1.85 0 1,0 -3.7,0a1.85,1.85 0 1,0 3.7,0M396.17,435.39a1.85,1.85 0 1,0 -3.7,0a1.85,1.85 0 1,0 3.7,0M392.35,432.91a1.85,1.85 0 1,0 -3.7,0a1.85,1.85 0 1,0 3.7,0M409.04,404.12a1.85,1.85 0 1,0 -3.7,0a1.85,1.85 0 1,0 3.7,0M406.12,442.44a1.85,1.85 0 1,0 -3.7,0a1.85,1.85 0 1,0 3.7,0M392.23,421.52a1.85,1.85 0 1,0 -3.7,0a1.85,1.85 0 1,0 3.7,0M392.51,425.51a1.85,1.85 0 1,0 -3.7,0a1.85,1.85 0 1,0 3.7,0M390.75,413.87a1.85,1.85 0 1,0 -3.7,0a1.85,1.85 0 1,0 3.7,0M395.88,443.65a1.85,1.85 0 1,0 -3.7,0a1.85,1.85 0 1,0 3.7,0M407.71,441.29a1.85,1.85 0 1,0 -3.7,0a1.85,1.85 0 1,0 3.7,0M392.61,425.99a1.85,1.85 0 1,0 -3.7,0a1.85,1.85 0 1,0 3.7,0M391.75,428.05a1.85,1.85 0 1,0 -3.7,0a1.85,1.85 0 1,0 3.7,0M405.31,411.07a1.85,1.85 0 1,0 -3.7,0a1.85,1.85 0 1,0 3.7,0M395.36,417.04a1.85,1.85 0 1,0 -3.7,0a1.85,1.85 0 1,0 3.7,0M401.85,411.97a1.85,1.85 0 1,0 -3.7,0a1.85,1.85 0 1,0 3.7,0M409.38,405.04a1.85,1.85 0 1,0 -3.7,0a1.85,1.85 0 1,0 3.7,0M389.86,416.99a1.85,1.85 0 1,0 -3.7,0a1.85,1.85 0 1,0 3.7,0M407.74,440.68a1.85,1.85 0 1,0 -3.7,0a1.85,1.85 0 1,0 3.7,0M398.37,403.40a1.85,1.85 0 1,0 -3.7,0a1.85,1.85 0 1,0 3.7,0M406.02,439.67a1.85,1.85 0 1,0 -3.7,0a1.85,1.85 0 1,0 3.7,0M400.08,406.81a1.85,1.85 0 1,0 -3.7,0a1.85,1.85 0 1,0 3.7,0M399.29,441.47a1.85,1.85 0 1,0 -3.7,0a1.85,1.85 0 1,0 3.7,0M399.37,442.48a1.85,1.85 0 1,0 -3.7,0a1.85,1.85 0 1,0 3.7,0M390.90,418.85a1.85,1.85 0 1,0 -3.7,0a1.85,1.85 0 1,0 3.7,0M403.63,435.65a1.85,1.85 0 1,0 -3.7,0a1.85,1.85 0 1,0 3.7,0M392.69,428.92a1.85,1.85 0 1,0 -3.7,0a1.85,1.85 0 1,0 3.7,0M403.97,447.28a1.85,1.85 0 1,0 -3.7,0a1.85,1.85 0 1,0 3.7,0M402.62,427.18a1.85,1.85 0 1,0 -3.7,0a1.85,1.85 0 1,0 3.7,0M407.81,437.53a1.85,1.85 0 1,0 -3.7,0a1.85,1.85 0 1,0 3.7,0M393.72,428.51a1.85,1.85 0 1,0 -3.7,0a1.85,1.85 0 1,0 3.7,0M402.87,408.21a1.85,1.85 0 1,0 -3.7,0a1.85,1.85 0 1,0 3.7,0M400.57,441.45a1.85,1.85 0 1,0 -3.7,0a1.85,1.85 0 1,0 3.7,0M402.34,447.35a1.85,1.85 0 1,0 -3.7,0a1.85,1.85 0 1,0 3.7,0M397.44,448.83a1.85,1.85 0 1,0 -3.7,0a1.85,1.85 0 1,0 3.7,0M407.61,426.31a1.85,1.85 0 1,0 -3.7,0a1.85,1.85 0 1,0 3.7,0M408.08,444.68a1.85,1.85 0 1,0 -3.7,0a1.85,1.85 0 1,0 3.7,0M393.69,422.36a1.85,1.85 0 1,0 -3.7,0a1.85,1.85 0 1,0 3.7,0M406.09,449.65a1.85,1.85 0 1,0 -3.7,0a1.85,1.85 0 1,0 3.7,0M396.45,432.32a1.85,1.85 0 1,0 -3.7,0a1.85,1.85 0 1,0 3.7,0M403.60,419.87a1.85,1.85 0 1,0 -3.7,0a1.85,1.85 0 1,0 3.7,0M403.05,444.53a1.85,1.85 0 1,0 -3.7,0a1.85,1.85 0 1,0 3.7,0M406.78,421.93a1.85,1.85 0 1,0 -3.7,0a1.85,1.85 0 1,0 3.7,0M402.75,443.59a1.85,1.85 0 1,0 -3.7,0a1.85,1.85 0 1,0 3.7,0M394.16,414.06a1.85,1.85 0 1,0 -3.7,0a1.85,1.85 0 1,0 3.7,0M403.68,417.43a1.85,1.85 0 1,0 -3.7,0a1.85,1.85 0 1,0 3.7,0M398.55,425.96a1.85,1.85 0 1,0 -3.7,0a1.85,1.85 0 1,0 3.7,0M395.81,421.73a1.85,1.85 0 1,0 -3.7,0a1.85,1.85 0 1,0 3.7,0M396.25,416.18a1.85,1.85 0 1,0 -3.7,0a1.85,1.85 0 1,0 3.7,0M406.20,443.88a1.85,1.85 0 1,0 -3.7,0a1.85,1.85 0 1,0 3.7,0M398.76,406.74a1.85,1.85 0 1,0 -3.7,0a1.85,1.85 0 1,0 3.7,0M407.33,425.95a1.85,1.85 0 1,0 -3.7,0a1.85,1.85 0 1,0 3.7,0M401.42,439.17a1.85,1.85 0 1,0 -3.7,0a1.85,1.85 0 1,0 3.7,0M401.73,403.48a1.85,1.85 0 1,0 -3.7,0a1.85,1.85 0 1,0 3.7,0M402.17,432.15a1.85,1.85 0 1,0 -3.7,0a1.85,1.85 0 1,0 3.7,0M399.49,410.51a1.85,1.85 0 1,0 -3.7,0a1.85,1.85 0 1,0 3.7,0M394.38,405.66a1.85,1.85 0 1,0 -3.7,0a1.85,1.85 0 1,0 3.7,0M403.23,446.29a1.85,1.85 0 1,0 -3.7,0a1.85,1.85 0 1,0 3.7,0M399.85,407.65a1.85,1.85 0 1,0 -3.7,0a1.85,1.85 0 1,0 3.7,0M400.68,450.05a1.85,1.85 0 1,0 -3.7,0a1.85,1.85 0 1,0 3.7,0M409.35,404.56a1.85,1.85 0 1,0 -3.7,0a1.85,1.85 0 1,0 3.7,0M402.77,417.88a1.85,1.85 0 1,0 -3.7,0a1.85,1.85 0 1,0 3.7,0M409.07,412.45a1.85,1.85 0 1,0 -3.7,0a1.85,1.85 0 1,0 3.7,0M393.87,450.01a1.85,1.85 0 1,0 -3.7,0a1.85,1.85 0 1,0 3.7,0M408.71,443.44a1.85,1.85 0 1,0 -3.7,0a1.85,1.85 0 1,0 3.7,0M407.05,438.41a1.85,1.85 0 1,0 -3.7,0a1.85,1.85 0 1,0 3.7,0M399.98,408.00a1.85,1.85 0 1,0 -3.7,0a1.85,1.85 0 1,0 3.7,0M404.58,441.92a1.85,1.85 0 1,0 -3.7,0a1.85,1.85 0 1,0 3.7,0M406.97,416.67a1.85,1.85 0 1,0 -3.7,0a1.85,1.85 0 1,0 3.7,0M398.12,413.68a1.85,1.85 0 1,0 -3.7,0a1.85,1.85 0 1,0 3.7,0M397.26,416.10a1.85,1.85 0 1,0 -3.7,0a1.85,1.85 0 1,0 3.7,0M400.42,403.50a1.85,1.85 0 1,0 -3.7,0a1.85,1.85 0 1,0 3.7,0M407.01,431.72a1.85,1.85 0 1,0 -3.7,0a1.85,1.85 0 1,0 3.7,0M401.56,420.79a1.85,1.85 0 1,0 -3.7,0a1.85,1.85 0 1,0 3.7,0M398.23,435.73a1.85,1.85 0 1,0 -3.7,0a1.85,1.85 0 1,0 3.7,0M402.60,439.15a1.85,1.85 0 1,0 -3.7,0a1.85,1.85 0 1,0 3.7,0M407.39,425.38a1.85,1.85 0 1,0 -3.7,0a1.85,1.85 0 1,0 3.7,0M390.38,435.23a1.85,1.85 0 1,0 -3.7,0a1.85,1.85 0 1,0 3.7,0M393.25,407.29a1.85,1.85 0 1,0 -3.7,0a1.85,1.85 0 1,0 3.7,0M397.41,423.53a1.85,1.85 0 1,0 -3.7,0a1.85,1.85 0 1,0 3.7,0M405.58,411.80a1.85,1.85 0 1,0 -3.7,0a1.85,1.85 0 1,0 3.7,0M395.60,409.63a1.85,1.85 0 1,0 -3.7,0a1.85,1.85 0 1,0 3.7,0M395.84,419.28a1.85,1.85 0 1,0 -3.7,0a1.85,1.85 0 1,0 3.7,0M391.91,433.93a1.85,1.85 0 1,0 -3.7,0a1.85,1.85 0 1,0 3.7,0M409.57,403.24a1.85,1.85 0 1,0 -3.7,0a1.85,1.85 0 1,0 3.7,0M401.48,439.57a1.85,1.85 0 1,0 -3.7,0a1.85,1.85 0 1,0 3.7,0M399.78,435.69a1.85,1.85 0 1,0 -3.7,0a1.85,1.85 0 1,0 3.7,0M393.90,425.90a1.85,1.85 0 1,0 -3.7,0a1.85,1.85 0 1,0 3.7,0M402.54,404.80a1.85,1.85 0 1,0 -3.7,0a1.85,1.85 0 1,0 3.7,0M405.12,450.05a1.85,1.85 0 1,0 -3.7,0a1.85,1.85 0 1,0 3.7,0M401.09,417.35a1.85,1.85 0 1,0 -3.7,0a1.85,1.85 0 1,0 3.7,0M394.13,416.04a1.85,1.85 0 1,0 -3.7,0a1.85,1.85 0 1,0 3.7,0M397.81,444.67a1.85,1.85 0 1,0 -3.7,0a1.85,1.85 0 1,0 3.7,0M396.01,408.94a1.85,1.85 0 1,0 -3.7,0a1.85,1.85 0 1,0 3.7,0M399.80,426.94a1.85,1.85 0 1,0 -3.7,0a1.85,1.85 0 1,0 3.7,0M406.67,438.15a1.85,1.85 0 1,0 -3.7,0a1.85,1.85 0 1,0 3.7,0M398.59,421.38a1.85,1.85 0 1,0 -3.7,0a1.85,1.85 0 1,0 3.7,0M402.18,415.11a1.85,1.85 0 1,0 -3.7,0a1.85,1.85 0 1,0 3.7,0M408.11,420.02a1.85,1.85 0 1,0 -3.7,0a1.85,1.85 0 1,0 3.7,0M398.42,439.82a1.85,1.85 0 1,0 -3.7,0a1.85,1.85 0 1,0 3.7,0M403.11,404.52a1.85,1.85 0 1,0 -3.7,0a1.85,1.85 0 1,0 3.7,0M408.87,442.52a1.85,1.85 0 1,0 -3.7,0a1.85,1.85 0 1,0 3.7,0M400.36,406.61a1.85,1.85 0 1,0 -3.7,0a1.85,1.85 0 1,0 3.7,0M402.09,450.50a1.85,1.85 0 1,0 -3.7,0a1.85,1.85 0 1,0 3.7,0M406.79,430.05a1.85,1.85 0 1,0 -3.7,0a1.85,1.85 0 1,0 3.7,0M394.93,428.98a1.85,1.85 0 1,0 -3.7,0a1.85,1.85 0 1,0 3.7,0M395.91,403.52a1.85,1.85 0 1,0 -3.7,0a1.85,1.85 0 1,0 3.7,0M393.47,435.68a1.85,1.85 0 1,0 -3.7,0a1.85,1.85 0 1,0 3.7,0M391.11,416.41a1.85,1.85 0 1,0 -3.7,0a1.85,1.85 0 1,0 3.7,0M401.17,410.83a1.85,1.85 0 1,0 -3.7,0a1.85,1.85 0 1,0 3.7,0M399.45,448.79a1.85,1.85 0 1,0 -3.7,0a1.85,1.85 0 1,0 3.7,0M395.76,442.01a1.85,1.85 0 1,0 -3.7,0a1.85,1.85 0 1,0 3.7,0M396.44,422.33a1.85,1.85 0 1,0 -3.7,0a1.85,1.85 0 1,0 3.7,0M401.89,419.74a1.85,1.85 0 1,0 -3.7,0a1.85,1.85 0 1,0 3.7,0M407.91,413.53a1.85,1.85 0 1,0 -3.7,0a1.85,1.85 0 1,0 3.7,0M404.41,429.29a1.85,1.85 0 1,0 -3.7,0a1.85,1.85 0 1,0 3.7,0M395.75,408.01a1.85,1.85 0 1,0 -3.7,0a1.85,1.85 0 1,0 3.7,0M404.76,405.69a1.85,1.85 0 1,0 -3.7,0a1.85,1.85 0 1,0 3.7,0M402.27,406.36a1.85,1.85 0 1,0 -3.7,0a1.85,1.85 0 1,0 3.7,0M407.15,444.56a1.85,1.85 0 1,0 -3.7,0a1.85,1.85 0 1,0 3.7,0M391.63,420.59a1.85,1.85 0 1,0 -3.7,0a1.85,1.85 0 1,0 3.7,0M400.81,419.40a1.85,1.85 0 1,0 -3.7,0a1.85,1.85 0 1,0 3.7,0M391.51,420.33a1.85,1.85 0 1,0 -3.7,0a1.85,1.85 0 1,0 3.7,0M395.09,441.05a1.85,1.85 0 1,0 -3.7,0a1.85,1.85 0 1,0 3.7,0M395.79,410.66a1.85,1.85 0 1,0 -3.7,0a1.85,1.85 0 1,0 3.7,0M405.49,449.18a1.85,1.85 0 1,0 -3.7,0a1.85,1.85 0 1,0 3.7,0M408.94,432.09a1.85,1.85 0 1,0 -3.7,0a1.85,1.85 0 1,0 3.7,0M392.39,446.76a1.85,1.85 0 1,0 -3.7,0a1.85,1.85 0 1,0 3.7,0M408.82,413.08a1.85,1.85 0 1,0 -3.7,0a1.85,1.85 0 1,0 3.7,0M405.72,437.57a1.85,1.85 0 1,0 -3.7,0a1.85,1.85 0 1,0 3.7,0M404.30,433.78a1.85,1.85 0 1,0 -3.7,0a1.85,1.85 0 1,0 3.7,0M399.81,428.82a1.85,1.85 0 1,0 -3.7,0a1.85,1.85 0 1,0 3.7,0M402.40,409.59a1.85,1.85 0 1,0 -3.7,0a1.85,1.85 0 1,0 3.7,0M393.82,413.22a1.85,1.85 0 1,0 -3.7,0a1.85,1.85 0 1,0 3.7,0M395.11,439.73a1.85,1.85 0 1,0 -3.7,0a1.85,1.85 0 1,0 3.7,0M396.33,433.69a1.85,1.85 0 1,0 -3.7,0a1.85,1.85 0 1,0 3.7,0M408.35,408.95a1.85,1.85 0 1,0 -3.7,0a1.85,1.85 0 1,0 3.7,0M400.32,423.45a1.85,1.85 0 1,0 -3.7,0a1.85,1.85 0 1,0 3.7,0M400.08,428.63a1.85,1.85 0 1,0 -3.7,0a1.85,1.85 0 1,0 3.7,0M401.10,421.02a1.85,1.85 0 1,0 -3.7,0a1.85,1.85 0 1,0 3.7,0M400.84,420.17a1.85,1.85 0 1,0 -3.7,0a1.85,1.85 0 1,0 3.7,0M396.46,426.66a1.85,1.85 0 1,0 -3.7,0a1.85,1.85 0 1,0 3.7,0M401.58,406.13a1.85,1.85 0 1,0 -3.7,0a1.85,1.85 0 1,0 3.7,0M393.10,432.72a1.85,1.85 0 1,0 -3.7,0a1.85,1.85 0 1,0 3.7,0M391.77,419.56a1.85,1.85 0 1,0 -3.7,0a1.85,1.85 0 1,0 3.7,0M398.35,448.35a1.85,1.85 0 1,0 -3.7,0a1.85,1.85 0 1,0 3.7,0M390.57,440.36a1.85,1.85 0 1,0 -3.7,0a1.85,1.85 0 1,0 3.7,0M394.85,436.93a1.85,1.85 0 1,0 -3.7,0a1.85,1.85 0 1,0 3.7,0M396.61,426.30a1.85,1.85 0 1,0 -3.7,0a1.85,1.85 0 1,0 3.7,0M397.30,418.32a1.85,1.85 0 1,0 -3.7,0a1.85,1.85 0 1,0 3.7,0M405.99,433.35a1.85,1.85 0 1,0 -3.7,0a1.85,1.85 0 1,0 3.7,0M402.56,409.24a1.85,1.85 0 1,0 -3.7,0a1.85,1.85 0 1,0 3.7,0M405.73,412.05a1.85,1.85 0 1,0 -3.7,0a1.85,1.85 0 1,0 3.7,0M402.59,433.69a1.85,1.85 0 1,0 -3.7,0a1.85,1.85 0 1,0 3.7,0M403.12,414.28a1.85,1.85 0 1,0 -3.7,0a1.85,1.85 0 1,0 3.7,0M401.64,429.91a1.85,1.85 0 1,0 -3.7,0a1.85,1.85 0 1,0 3.7,0M391.93,445.27a1.85,1.85 0 1,0 -3.7,0a1.85,1.85 0 1,0 3.7,0M405.07,446.51a1.85,1.85 0 1,0 -3.7,0a1.85,1.85 0 1,0 3.7,0M422.42,442.10a1.85,1.85 0 1,0 -3.7,0a1.85,1.85 0 1,0 3.7,0M417.42,408.18a1.85,1.85 0 1,0 -3.7,0a1.85,1.85 0 1,0 3.7,0M422.00,422.48a1.85,1.85 0 1,0 -3.7,0a1.85,1.85 0 1,0 3.7,0M413.81,441.94a1.85,1.85 0 1,0 -3.7,0a1.85,1.85 0 1,0 3.7,0M417.77,434.93a1.85,1.85 0 1,0 -3.7,0a1.85,1.85 0 1,0 3.7,0M415.62,443.66a1.85,1.85 0 1,0 -3.7,0a1.85,1.85 0 1,0 3.7,0M413.46,450.06a1.85,1.85 0 1,0 -3.7,0a1.85,1.85 0 1,0 3.7,0M430.54,434.42a1.85,1.85 0 1,0 -3.7,0a1.85,1.85 0 1,0 3.7,0M423.23,429.52a1.85,1.85 0 1,0 -3.7,0a1.85,1.85 0 1,0 3.7,0M413.87,446.16a1.85,1.85 0 1,0 -3.7,0a1.85,1.85 0 1,0 3.7,0M413.86,445.18a1.85,1.85 0 1,0 -3.7,0a1.85,1.85 0 1,0 3.7,0M427.35,451.17a1.85,1.85 0 1,0 -3.7,0a1.85,1.85 0 1,0 3.7,0M412.22,426.75a1.85,1.85 0 1,0 -3.7,0a1.85,1.85 0 1,0 3.7,0M418.64,448.22a1.85,1.85 0 1,0 -3.7,0a1.85,1.85 0 1,0 3.7,0M423.54,417.52a1.85,1.85 0 1,0 -3.7,0a1.85,1.85 0 1,0 3.7,0M423.07,425.23a1.85,1.85 0 1,0 -3.7,0a1.85,1.85 0 1,0 3.7,0M419.91,414.28a1.85,1.85 0 1,0 -3.7,0a1.85,1.85 0 1,0 3.7,0M419.50,411.90a1.85,1.85 0 1,0 -3.7,0a1.85,1.85 0 1,0 3.7,0M418.54,415.67a1.85,1.85 0 1,0 -3.7,0a1.85,1.85 0 1,0 3.7,0M421.44,451.93a1.85,1.85 0 1,0 -3.7,0a1.85,1.85 0 1,0 3.7,0M410.95,445.21a1.85,1.85 0 1,0 -3.7,0a1.85,1.85 0 1,0 3.7,0M411.63,419.11a1.85,1.85 0 1,0 -3.7,0a1.85,1.85 0 1,0 3.7,0M428.21,427.00a1.85,1.85 0 1,0 -3.7,0a1.85,1.85 0 1,0 3.7,0M419.40,451.37a1.85,1.85 0 1,0 -3.7,0a1.85,1.85 0 1,0 3.7,0M413.66,408.48a1.85,1.85 0 1,0 -3.7,0a1.85,1.85 0 1,0 3.7,0M431.18,428.40a1.85,1.85 0 1,0 -3.7,0a1.85,1.85 0 1,0 3.7,0M426.98,424.62a1.85,1.85 0 1,0 -3.7,0a1.85,1.85 0 1,0 3.7,0M420.04,427.71a1.85,1.85 0 1,0 -3.7,0a1.85,1.85 0 1,0 3.7,0M423.89,418.30a1.85,1.85 0 1,0 -3.7,0a1.85,1.85 0 1,0 3.7,0M430.48,441.54a1.85,1.85 0 1,0 -3.7,0a1.85,1.85 0 1,0 3.7,0M422.61,421.67a1.85,1.85 0 1,0 -3.7,0a1.85,1.85 0 1,0 3.7,0M418.01,411.79a1.85,1.85 0 1,0 -3.7,0a1.85,1.85 0 1,0 3.7,0M423.79,449.56a1.85,1.85 0 1,0 -3.7,0a1.85,1.85 0 1,0 3.7,0M424.91,447.76a1.85,1.85 0 1,0 -3.7,0a1.85,1.85 0 1,0 3.7,0M431.50,425.25a1.85,1.85 0 1,0 -3.7,0a1.85,1.85 0 1,0 3.7,0M421.18,434.55a1.85,1.85 0 1,0 -3.7,0a1.85,1.85 0 1,0 3.7,0M409.96,445.77a1.85,1.85 0 1,0 -3.7,0a1.85,1.85 0 1,0 3.7,0M410.05,447.56a1.85,1.85 0 1,0 -3.7,0a1.85,1.85 0 1,0 3.7,0M424.80,419.65a1.85,1.85 0 1,0 -3.7,0a1.85,1.85 0 1,0 3.7,0M415.29,437.52a1.85,1.85 0 1,0 -3.7,0a1.85,1.85 0 1,0 3.7,0M418.59,412.69a1.85,1.85 0 1,0 -3.7,0a1.85,1.85 0 1,0 3.7,0M415.17,424.82a1.85,1.85 0 1,0 -3.7,0a1.85,1.85 0 1,0 3.7,0M422.58,424.96a1.85,1.85 0 1,0 -3.7,0a1.85,1.85 0 1,0 3.7,0M420.54,451.96a1.85,1.85 0 1,0 -3.7,0a1.85,1.85 0 1,0 3.7,0M417.37,443.40a1.85,1.85 0 1,0 -3.7,0a1.85,1.85 0 1,0 3.7,0M427.20,413.67a1.85,1.85 0 1,0 -3.7,0a1.85,1.85 0 1,0 3.7,0M427.05,414.82a1.85,1.85 0 1,0 -3.7,0a1.85,1.85 0 1,0 3.7,0M410.45,438.00a1.85,1.85 0 1,0 -3.7,0a1.85,1.85 0 1,0 3.7,0M414.13,410.18a1.85,1.85 0 1,0 -3.7,0a1.85,1.85 0 1,0 3.7,0M424.93,443.58a1.85,1.85 0 1,0 -3.7,0a1.85,1.85 0 1,0 3.7,0M416.92,431.53a1.85,1.85 0 1,0 -3.7,0a1.85,1.85 0 1,0 3.7,0M425.65,421.97a1.85,1.85 0 1,0 -3.7,0a1.85,1.85 0 1,0 3.7,0M425.38,444.11a1.85,1.85 0 1,0 -3.7,0a1.85,1.85 0 1,0 3.7,0M422.67,424.76a1.85,1.85 0 1,0 -3.7,0a1.85,1.85 0 1,0 3.7,0M412.12,406.74a1.85,1.85 0 1,0 -3.7,0a1.85,1.85 0 1,0 3.7,0M427.31,446.76a1.85,1.85 0 1,0 -3.7,0a1.85,1.85 0 1,0 3.7,0M410.36,437.99a1.85,1.85 0 1,0 -3.7,0a1.85,1.85 0 1,0 3.7,0M419.19,414.60a1.85,1.85 0 1,0 -3.7,0a1.85,1.85 0 1,0 3.7,0M425.48,451.24a1.85,1.85 0 1,0 -3.7,0a1.85,1.85 0 1,0 3.7,0M430.39,435.62a1.85,1.85 0 1,0 -3.7,0a1.85,1.85 0 1,0 3.7,0M411.71,451.37a1.85,1.85 0 1,0 -3.7,0a1.85,1.85 0 1,0 3.7,0M410.62,410.23a1.85,1.85 0 1,0 -3.7,0a1.85,1.85 0 1,0 3.7,0M414.95,424.98a1.85,1.85 0 1,0 -3.7,0a1.85,1.85 0 1,0 3.7,0M423.05,436.53a1.85,1.85 0 1,0 -3.7,0a1.85,1.85 0 1,0 3.7,0M427.89,420.96a1.85,1.85 0 1,0 -3.7,0a1.85,1.85 0 1,0 3.7,0M424.53,444.23a1.85,1.85 0 1,0 -3.7,0a1.85,1.85 0 1,0 3.7,0M413.22,428.86a1.85,1.85 0 1,0 -3.7,0a1.85,1.85 0 1,0 3.7,0M423.32,430.19a1.85,1.85 0 1,0 -3.7,0a1.85,1.85 0 1,0 3.7,0M430.10,440.50a1.85,1.85 0 1,0 -3.7,0a1.85,1.85 0 1,0 3.7,0M423.56,442.28a1.85,1.85 0 1,0 -3.7,0a1.85,1.85 0 1,0 3.7,0M430.26,423.25a1.85,1.85 0 1,0 -3.7,0a1.85,1.85 0 1,0 3.7,0M414.90,424.87a1.85,1.85 0 1,0 -3.7,0a1.85,1.85 0 1,0 3.7,0M430.52,437.56a1.85,1.85 0 1,0 -3.7,0a1.85,1.85 0 1,0 3.7,0M416.42,449.91a1.85,1.85 0 1,0 -3.7,0a1.85,1.85 0 1,0 3.7,0M415.78,417.89a1.85,1.85 0 1,0 -3.7,0a1.85,1.85 0 1,0 3.7,0M418.69,425.49a1.85,1.85 0 1,0 -3.7,0a1.85,1.85 0 1,0 3.7,0M411.98,416.56a1.85,1.85 0 1,0 -3.7,0a1.85,1.85 0 1,0 3.7,0M429.36,434.78a1.85,1.85 0 1,0 -3.7,0a1.85,1.85 0 1,0 3.7,0M427.54,418.64a1.85,1.85 0 1,0 -3.7,0a1.85,1.85 0 1,0 3.7,0M419.49,408.13a1.85,1.85 0 1,0 -3.7,0a1.85,1.85 0 1,0 3.7,0M428.86,417.50a1.85,1.85 0 1,0 -3.7,0a1.85,1.85 0 1,0 3.7,0M423.07,435.54a1.85,1.85 0 1,0 -3.7,0a1.85,1.85 0 1,0 3.7,0M411.59,432.81a1.85,1.85 0 1,0 -3.7,0a1.85,1.85 0 1,0 3.7,0M413.51,451.97a1.85,1.85 0 1,0 -3.7,0a1.85,1.85 0 1,0 3.7,0M427.89,412.67a1.85,1.85 0 1,0 -3.7,0a1.85,1.85 0 1,0 3.7,0M424.81,419.59a1.85,1.85 0 1,0 -3.7,0a1.85,1.85 0 1,0 3.7,0M419.68,416.44a1.85,1.85 0 1,0 -3.7,0a1.85,1.85 0 1,0 3.7,0M417.94,431.52a1.85,1.85 0 1,0 -3.7,0a1.85,1.85 0 1,0 3.7,0M422.42,444.58a1.85,1.85 0 1,0 -3.7,0a1.85,1.85 0 1,0 3.7,0M424.48,449.80a1.85,1.85 0 1,0 -3.7,0a1.85,1.85 0 1,0 3.7,0M424.41,415.52a1.85,1.85 0 1,0 -3.7,0a1.85,1.85 0 1,0 3.7,0M414.39,446.12a1.85,1.85 0 1,0 -3.7,0a1.85,1.85 0 1,0 3.7,0M410.87,446.71a1.85,1.85 0 1,0 -3.7,0a1.85,1.85 0 1,0 3.7,0M414.75,439.00a1.85,1.85 0 1,0 -3.7,0a1.85,1.85 0 1,0 3.7,0M411.16,443.91a1.85,1.85 0 1,0 -3.7,0a1.85,1.85 0 1,0 3.7,0M422.34,423.71a1.85,1.85 0 1,0 -3.7,0a1.85,1.85 0 1,0 3.7,0M416.09,434.07a1.85,1.85 0 1,0 -3.7,0a1.85,1.85 0 1,0 3.7,0M430.23,428.02a1.85,1.85 0 1,0 -3.7,0a1.85,1.85 0 1,0 3.7,0M425.89,448.45a1.85,1.85 0 1,0 -3.7,0a1.85,1.85 0 1,0 3.7,0M417.17,432.52a1.85,1.85 0 1,0 -3.7,0a1.85,1.85 0 1,0 3.7,0M428.75,418.86a1.85,1.85 0 1,0 -3.7,0a1.85,1.85 0 1,0 3.7,0M425.88,425.82a1.85,1.85 0 1,0 -3.7,0a1.85,1.85 0 1,0 3.7,0M427.96,431.14a1.85,1.85 0 1,0 -3.7,0a1.85,1.85 0 1,0 3.7,0M415.07,440.88a1.85,1.85 0 1,0 -3.7,0a1.85,1.85 0 1,0 3.7,0M429.54,426.02a1.85,1.85 0 1,0 -3.7,0a1.85,1.85 0 1,0 3.7,0M416.97,438.61a1.85,1.85 0 1,0 -3.7,0a1.85,1.85 0 1,0 3.7,0M428.95,426.44a1.85,1.85 0 1,0 -3.7,0a1.85,1.85 0 1,0 3.7,0M425.79,418.47a1.85,1.85 0 1,0 -3.7,0a1.85,1.85 0 1,0 3.7,0M416.14,437.86a1.85,1.85 0 1,0 -3.7,0a1.85,1.85 0 1,0 3.7,0M423.70,434.46a1.85,1.85 0 1,0 -3.7,0a1.85,1.85 0 1,0 3.7,0M400.44,400.92a1.85,1.85 0 1,0 -3.7,0a1.85,1.85 0 1,0 3.7,0M398.71,393.32a1.85,1.85 0 1,0 -3.7,0a1.85,1.85 0 1,0 3.7,0M401.35,393.02a1.85,1.85 0 1,0 -3.7,0a1.85,1.85 0 1,0 3.7,0M403.40,400.99a1.85,1.85 0 1,0 -3.7,0a1.85,1.85 0 1,0 3.7,0M400.23,394.77a1.85,1.85 0 1,0 -3.7,0a1.85,1.85 0 1,0 3.7,0M397.39,396.90a1.85,1.85 0 1,0 -3.7,0a1.85,1.85 0 1,0 3.7,0M393.96,400.25a1.85,1.85 0 1,0 -3.7,0a1.85,1.85 0 1,0 3.7,0M396.62,399.26a1.85,1.85 0 1,0 -3.7,0a1.85,1.85 0 1,0 3.7,0M403.15,400.21a1.85,1.85 0 1,0 -3.7,0a1.85,1.85 0 1,0 3.7,0M395.33,390.87a1.85,1.85 0 1,0 -3.7,0a1.85,1.85 0 1,0 3.7,0" fill="none" stroke="#000" stroke-width="0.8"/>
<circle cx="386.50" cy="460.35" r="1.85" fill="none" stroke="#f00" stroke-width="0.8"/>
<circle cx="496.40" cy="443.80" r="1.85" fill="none" stroke="#f00" stroke-width="0.8"/>
<rect x="382.70" y="373.70" width="117.60" height="89.90" fill="none" stroke="#222" stroke-width="0.9"/>
<line x1="386.50" y1="463.60" x2="386.50" y2="468.40" stroke="#222" stroke-width="0.9"/>
<text x="0" y="0" transform="translate(386.50,480.80) scale(1,1.1)" font-size="9.3" text-anchor="middle" font-weight="normal">0</text>
<line x1="408.48" y1="463.60" x2="408.48" y2="468.40" stroke="#222" stroke-width="0.9"/>
<text x="0" y="0" transform="translate(408.48,480.80) scale(1,1.1)" font-size="9.3" text-anchor="middle" font-weight="normal">200</text>
<line x1="430.46" y1="463.60" x2="430.46" y2="468.40" stroke="#222" stroke-width="0.9"/>
<line x1="452.44" y1="463.60" x2="452.44" y2="468.40" stroke="#222" stroke-width="0.9"/>
<text x="0" y="0" transform="translate(452.44,480.80) scale(1,1.1)" font-size="9.3" text-anchor="middle" font-weight="normal">600</text>
<line x1="474.42" y1="463.60" x2="474.42" y2="468.40" stroke="#222" stroke-width="0.9"/>
<line x1="496.40" y1="463.60" x2="496.40" y2="468.40" stroke="#222" stroke-width="0.9"/>
<text x="0" y="0" transform="translate(496.40,480.80) scale(1,1.1)" font-size="9.3" text-anchor="middle" font-weight="normal">1000</text>
<line x1="377.90" y1="460.35" x2="382.70" y2="460.35" stroke="#222" stroke-width="0.9"/>
<text x="0" y="0" transform="translate(371.40,460.35) rotate(-90) scale(1,1.1)" font-size="9.3" text-anchor="middle" font-weight="normal">0</text>
<line x1="377.90" y1="443.80" x2="382.70" y2="443.80" stroke="#222" stroke-width="0.9"/>
<line x1="377.90" y1="427.25" x2="382.70" y2="427.25" stroke="#222" stroke-width="0.9"/>
<text x="0" y="0" transform="translate(371.40,427.25) rotate(-90) scale(1,1.1)" font-size="9.3" text-anchor="middle" font-weight="normal">2000</text>
<line x1="377.90" y1="410.70" x2="382.70" y2="410.70" stroke="#222" stroke-width="0.9"/>
<line x1="377.90" y1="394.15" x2="382.70" y2="394.15" stroke="#222" stroke-width="0.9"/>
<text x="0" y="0" transform="translate(371.40,394.15) rotate(-90) scale(1,1.1)" font-size="9.3" text-anchor="middle" font-weight="normal">4000</text>
<line x1="377.90" y1="377.60" x2="382.70" y2="377.60" stroke="#222" stroke-width="0.9"/>
<text x="0" y="0" transform="translate(441.50,494.60) scale(1,1.2)" font-size="8.5" text-anchor="middle" font-weight="normal">Human TSS</text>
<text x="0" y="0" transform="translate(358.80,418.65) rotate(-90) scale(1,1.2)" font-size="8.5" text-anchor="middle" font-weight="normal">Fugu TSS</text>
<text x="0" y="0" transform="translate(617.95,358.40) scale(1,1.05)" font-size="9.5" text-anchor="middle" font-weight="bold">Fugu</text>
<line x1="572.99" y1="460.35" x2="572.99" y2="377.60" stroke="#666" stroke-width="0.9" stroke-dasharray="1,3"/>
<polyline points="562.10,460.35 567.55,388.94 572.99,377.60 578.44,377.60 583.88,377.60 589.33,377.60 594.77,377.60 600.22,377.60 605.66,377.60 611.11,377.60 616.55,377.60 622.00,377.60 627.44,377.60 632.88,377.60 638.33,377.60 643.77,377.60 649.22,377.60 654.66,377.60 660.11,377.60 665.55,377.60 671.00,377.60" fill="none" stroke="#000" stroke-width="0.9" stroke-dasharray="1,3,4,3"/>
<circle cx="562.10" cy="460.35" r="2.1" fill="#000"/>
<circle cx="567.55" cy="388.94" r="2.1" fill="#000"/>
<circle cx="572.99" cy="377.60" r="2.1" fill="#000"/>
<circle cx="578.44" cy="377.60" r="2.1" fill="#000"/>
<circle cx="583.88" cy="377.60" r="2.1" fill="#000"/>
<circle cx="589.33" cy="377.60" r="2.1" fill="#000"/>
<circle cx="594.77" cy="377.60" r="2.1" fill="#000"/>
<circle cx="600.22" cy="377.60" r="2.1" fill="#000"/>
<circle cx="605.66" cy="377.60" r="2.1" fill="#000"/>
<circle cx="611.11" cy="377.60" r="2.1" fill="#000"/>
<circle cx="616.55" cy="377.60" r="2.1" fill="#000"/>
<circle cx="622.00" cy="377.60" r="2.1" fill="#000"/>
<circle cx="627.44" cy="377.60" r="2.1" fill="#000"/>
<circle cx="632.88" cy="377.60" r="2.1" fill="#000"/>
<circle cx="638.33" cy="377.60" r="2.1" fill="#000"/>
<circle cx="643.77" cy="377.60" r="2.1" fill="#000"/>
<circle cx="649.22" cy="377.60" r="2.1" fill="#000"/>
<circle cx="654.66" cy="377.60" r="2.1" fill="#000"/>
<circle cx="660.11" cy="377.60" r="2.1" fill="#000"/>
<circle cx="665.55" cy="377.60" r="2.1" fill="#000"/>
<circle cx="671.00" cy="377.60" r="2.1" fill="#000"/>
<polyline points="562.10,460.10 567.55,457.12 572.99,448.76 578.44,434.70 583.88,422.45 589.33,414.92 594.77,408.63 600.22,404.58 605.66,401.43 611.11,398.78 616.55,396.63 622.00,394.89 627.44,393.98 632.88,392.83 638.33,391.67 643.77,390.76 649.22,390.34 654.66,389.43 660.11,388.52 665.55,387.70 671.00,387.12" fill="none" stroke="#33cc33" stroke-width="0.9"/>
<path d="M559.70,460.10h4.8M562.10,457.70v4.8M565.15,457.12h4.8M567.55,454.72v4.8M570.59,448.76h4.8M572.99,446.37v4.8M576.04,434.70h4.8M578.44,432.30v4.8M581.48,422.45h4.8M583.88,420.05v4.8M586.93,414.92h4.8M589.33,412.52v4.8M592.37,408.63h4.8M594.77,406.23v4.8M597.82,404.58h4.8M600.22,402.18v4.8M603.26,401.43h4.8M605.66,399.03v4.8M608.71,398.78h4.8M611.11,396.38v4.8M614.15,396.63h4.8M616.55,394.23v4.8M619.60,394.89h4.8M622.00,392.49v4.8M625.04,393.98h4.8M627.44,391.58v4.8M630.49,392.83h4.8M632.88,390.43v4.8M635.93,391.67h4.8M638.33,389.27v4.8M641.38,390.76h4.8M643.77,388.36v4.8M646.82,390.34h4.8M649.22,387.94v4.8M652.26,389.43h4.8M654.66,387.03v4.8M657.71,388.52h4.8M660.11,386.12v4.8M663.15,387.70h4.8M665.55,385.30v4.8M668.60,387.12h4.8M671.00,384.72v4.8" stroke="#33cc33" stroke-width="0.9"/>
<rect x="557.60" y="373.70" width="117.70" height="89.90" fill="none" stroke="#222" stroke-width="0.9"/>
<line x1="562.10" y1="463.60" x2="562.10" y2="468.40" stroke="#222" stroke-width="0.9"/>
<text x="0" y="0" transform="translate(562.10,480.80) scale(1,1.1)" font-size="9.3" text-anchor="middle" font-weight="normal">0</text>
<line x1="583.88" y1="463.60" x2="583.88" y2="468.40" stroke="#222" stroke-width="0.9"/>
<text x="0" y="0" transform="translate(583.88,480.80) scale(1,1.1)" font-size="9.3" text-anchor="middle" font-weight="normal">2000</text>
<line x1="605.66" y1="463.60" x2="605.66" y2="468.40" stroke="#222" stroke-width="0.9"/>
<line x1="627.44" y1="463.60" x2="627.44" y2="468.40" stroke="#222" stroke-width="0.9"/>
<text x="0" y="0" transform="translate(627.44,480.80) scale(1,1.1)" font-size="9.3" text-anchor="middle" font-weight="normal">6000</text>
<line x1="649.22" y1="463.60" x2="649.22" y2="468.40" stroke="#222" stroke-width="0.9"/>
<line x1="671.00" y1="463.60" x2="671.00" y2="468.40" stroke="#222" stroke-width="0.9"/>
<text x="0" y="0" transform="translate(671.00,480.80) scale(1,1.1)" font-size="9.3" text-anchor="middle" font-weight="normal">10000</text>
<line x1="552.80" y1="460.35" x2="557.60" y2="460.35" stroke="#222" stroke-width="0.9"/>
<text x="0" y="0" transform="translate(546.30,460.35) rotate(-90) scale(1,1.1)" font-size="9.3" text-anchor="middle" font-weight="normal">0</text>
<line x1="552.80" y1="443.80" x2="557.60" y2="443.80" stroke="#222" stroke-width="0.9"/>
<text x="0" y="0" transform="translate(546.30,443.80) rotate(-90) scale(1,1.1)" font-size="9.3" text-anchor="middle" font-weight="normal">20</text>
<line x1="552.80" y1="427.25" x2="557.60" y2="427.25" stroke="#222" stroke-width="0.9"/>
<line x1="552.80" y1="410.70" x2="557.60" y2="410.70" stroke="#222" stroke-width="0.9"/>
<text x="0" y="0" transform="translate(546.30,410.70) rotate(-90) scale(1,1.1)" font-size="9.3" text-anchor="middle" font-weight="normal">60</text>
<line x1="552.80" y1="394.15" x2="557.60" y2="394.15" stroke="#222" stroke-width="0.9"/>
<line x1="552.80" y1="377.60" x2="557.60" y2="377.60" stroke="#222" stroke-width="0.9"/>
<text x="0" y="0" transform="translate(546.30,377.60) rotate(-90) scale(1,1.1)" font-size="9.3" text-anchor="middle" font-weight="normal">100</text>
<text x="0" y="0" transform="translate(616.45,494.60) scale(1,1.2)" font-size="8.5" text-anchor="middle" font-weight="normal">TSS</text>
<text x="0" y="0" transform="translate(533.70,418.65) rotate(-90) scale(1,1.2)" font-size="8.5" text-anchor="middle" font-weight="normal">Cumulative percentage(%)</text>
<text x="0" y="0" transform="translate(93.20,532.90) scale(1,1.05)" font-size="9.5" text-anchor="middle" font-weight="bold">Zebrafish</text>
<clipPath id="cp3_0"><rect x="32.90" y="548.70" width="117.60" height="89.80"/></clipPath>
<line x1="36.60" y1="635.20" x2="146.50" y2="618.65" stroke="#f22" stroke-width="0.9"/>
<path clip-path="url(#cp3_0)" d="M52.35,549.40a1.85,1.85 0 1,0 -3.7,0a1.85,1.85 0 1,0 3.7,0M69.85,550.80a1.85,1.85 0 1,0 -3.7,0a1.85,1.85 0 1,0 3.7,0M85.25,549.90a1.85,1.85 0 1,0 -3.7,0a1.85,1.85 0 1,0 3.7,0M93.55,556.00a1.85,1.85 0 1,0 -3.7,0a1.85,1.85 0 1,0 3.7,0M41.45,555.00a1.85,1.85 0 1,0 -3.7,0a1.85,1.85 0 1,0 3.7,0M44.45,552.10a1.85,1.85 0 1,0 -3.7,0a1.85,1.85 0 1,0 3.7,0M47.95,554.30a1.85,1.85 0 1,0 -3.7,0a1.85,1.85 0 1,0 3.7,0M45.75,558.60a1.85,1.85 0 1,0 -3.7,0a1.85,1.85 0 1,0 3.7,0M49.35,557.30a1.85,1.85 0 1,0 -3.7,0a1.85,1.85 0 1,0 3.7,0M51.05,560.40a1.85,1.85 0 1,0 -3.7,0a1.85,1.85 0 1,0 3.7,0M53.65,557.80a1.85,1.85 0 1,0 -3.7,0a1.85,1.85 0 1,0 3.7,0M50.15,555.60a1.85,1.85 0 1,0 -3.7,0a1.85,1.85 0 1,0 3.7,0M66.85,555.10a1.85,1.85 0 1,0 -3.7,0a1.85,1.85 0 1,0 3.7,0M67.25,557.30a1.85,1.85 0 1,0 -3.7,0a1.85,1.85 0 1,0 3.7,0M67.05,556.20a1.85,1.85 0 1,0 -3.7,0a1.85,1.85 0 1,0 3.7,0M75.15,555.10a1.85,1.85 0 1,0 -3.7,0a1.85,1.85 0 1,0 3.7,0M79.05,553.80a1.85,1.85 0 1,0 -3.7,0a1.85,1.85 0 1,0 3.7,0M75.55,558.60a1.85,1.85 0 1,0 -3.7,0a1.85,1.85 0 1,0 3.7,0M72.95,561.70a1.85,1.85 0 1,0 -3.7,0a1.85,1.85 0 1,0 3.7,0M76.35,556.50a1.85,1.85 0 1,0 -3.7,0a1.85,1.85 0 1,0 3.7,0M60.65,563.50a1.85,1.85 0 1,0 -3.7,0a1.85,1.85 0 1,0 3.7,0M62.45,566.50a1.85,1.85 0 1,0 -3.7,0a1.85,1.85 0 1,0 3.7,0M67.25,567.00a1.85,1.85 0 1,0 -3.7,0a1.85,1.85 0 1,0 3.7,0M65.95,570.00a1.85,1.85 0 1,0 -3.7,0a1.85,1.85 0 1,0 3.7,0M47.95,565.20a1.85,1.85 0 1,0 -3.7,0a1.85,1.85 0 1,0 3.7,0M53.65,567.00a1.85,1.85 0 1,0 -3.7,0a1.85,1.85 0 1,0 3.7,0M41.45,567.80a1.85,1.85 0 1,0 -3.7,0a1.85,1.85 0 1,0 3.7,0M46.25,568.70a1.85,1.85 0 1,0 -3.7,0a1.85,1.85 0 1,0 3.7,0M43.15,572.20a1.85,1.85 0 1,0 -3.7,0a1.85,1.85 0 1,0 3.7,0M50.15,570.90a1.85,1.85 0 1,0 -3.7,0a1.85,1.85 0 1,0 3.7,0M55.45,572.60a1.85,1.85 0 1,0 -3.7,0a1.85,1.85 0 1,0 3.7,0M55.45,574.80a1.85,1.85 0 1,0 -3.7,0a1.85,1.85 0 1,0 3.7,0M51.95,574.80a1.85,1.85 0 1,0 -3.7,0a1.85,1.85 0 1,0 3.7,0M47.15,577.00a1.85,1.85 0 1,0 -3.7,0a1.85,1.85 0 1,0 3.7,0M50.65,577.50a1.85,1.85 0 1,0 -3.7,0a1.85,1.85 0 1,0 3.7,0M39.65,577.50a1.85,1.85 0 1,0 -3.7,0a1.85,1.85 0 1,0 3.7,0M47.85,576.50a1.85,1.85 0 1,0 -3.7,0a1.85,1.85 0 1,0 3.7,0M61.55,577.00a1.85,1.85 0 1,0 -3.7,0a1.85,1.85 0 1,0 3.7,0M64.65,577.90a1.85,1.85 0 1,0 -3.7,0a1.85,1.85 0 1,0 3.7,0M67.65,578.80a1.85,1.85 0 1,0 -3.7,0a1.85,1.85 0 1,0 3.7,0M44.95,580.50a1.85,1.85 0 1,0 -3.7,0a1.85,1.85 0 1,0 3.7,0M48.85,582.30a1.85,1.85 0 1,0 -3.7,0a1.85,1.85 0 1,0 3.7,0M53.25,582.10a1.85,1.85 0 1,0 -3.7,0a1.85,1.85 0 1,0 3.7,0M57.15,582.70a1.85,1.85 0 1,0 -3.7,0a1.85,1.85 0 1,0 3.7,0M61.55,581.80a1.85,1.85 0 1,0 -3.7,0a1.85,1.85 0 1,0 3.7,0M62.85,584.00a1.85,1.85 0 1,0 -3.7,0a1.85,1.85 0 1,0 3.7,0M44.05,585.30a1.85,1.85 0 1,0 -3.7,0a1.85,1.85 0 1,0 3.7,0M47.95,584.90a1.85,1.85 0 1,0 -3.7,0a1.85,1.85 0 1,0 3.7,0M49.75,587.50a1.85,1.85 0 1,0 -3.7,0a1.85,1.85 0 1,0 3.7,0M48.85,589.30a1.85,1.85 0 1,0 -3.7,0a1.85,1.85 0 1,0 3.7,0M55.85,588.40a1.85,1.85 0 1,0 -3.7,0a1.85,1.85 0 1,0 3.7,0M59.85,589.70a1.85,1.85 0 1,0 -3.7,0a1.85,1.85 0 1,0 3.7,0M63.35,586.70a1.85,1.85 0 1,0 -3.7,0a1.85,1.85 0 1,0 3.7,0M63.75,590.60a1.85,1.85 0 1,0 -3.7,0a1.85,1.85 0 1,0 3.7,0M49.35,586.00a1.85,1.85 0 1,0 -3.7,0a1.85,1.85 0 1,0 3.7,0M48.35,588.00a1.85,1.85 0 1,0 -3.7,0a1.85,1.85 0 1,0 3.7,0M43.65,591.90a1.85,1.85 0 1,0 -3.7,0a1.85,1.85 0 1,0 3.7,0M48.85,592.40a1.85,1.85 0 1,0 -3.7,0a1.85,1.85 0 1,0 3.7,0M68.15,591.90a1.85,1.85 0 1,0 -3.7,0a1.85,1.85 0 1,0 3.7,0M70.75,591.00a1.85,1.85 0 1,0 -3.7,0a1.85,1.85 0 1,0 3.7,0M73.85,589.70a1.85,1.85 0 1,0 -3.7,0a1.85,1.85 0 1,0 3.7,0M76.85,587.50a1.85,1.85 0 1,0 -3.7,0a1.85,1.85 0 1,0 3.7,0M78.65,588.40a1.85,1.85 0 1,0 -3.7,0a1.85,1.85 0 1,0 3.7,0M86.95,587.10a1.85,1.85 0 1,0 -3.7,0a1.85,1.85 0 1,0 3.7,0M91.65,580.70a1.85,1.85 0 1,0 -3.7,0a1.85,1.85 0 1,0 3.7,0M93.65,549.00a1.85,1.85 0 1,0 -3.7,0a1.85,1.85 0 1,0 3.7,0M93.65,556.10a1.85,1.85 0 1,0 -3.7,0a1.85,1.85 0 1,0 3.7,0M128.85,559.90a1.85,1.85 0 1,0 -3.7,0a1.85,1.85 0 1,0 3.7,0M128.35,564.00a1.85,1.85 0 1,0 -3.7,0a1.85,1.85 0 1,0 3.7,0M128.85,569.00a1.85,1.85 0 1,0 -3.7,0a1.85,1.85 0 1,0 3.7,0M108.75,567.30a1.85,1.85 0 1,0 -3.7,0a1.85,1.85 0 1,0 3.7,0M109.65,567.30a1.85,1.85 0 1,0 -3.7,0a1.85,1.85 0 1,0 3.7,0M142.75,574.10a1.85,1.85 0 1,0 -3.7,0a1.85,1.85 0 1,0 3.7,0M100.35,577.00a1.85,1.85 0 1,0 -3.7,0a1.85,1.85 0 1,0 3.7,0M97.15,580.20a1.85,1.85 0 1,0 -3.7,0a1.85,1.85 0 1,0 3.7,0M98.95,583.90a1.85,1.85 0 1,0 -3.7,0a1.85,1.85 0 1,0 3.7,0M101.85,586.80a1.85,1.85 0 1,0 -3.7,0a1.85,1.85 0 1,0 3.7,0M92.25,580.60a1.85,1.85 0 1,0 -3.7,0a1.85,1.85 0 1,0 3.7,0M113.65,584.60a1.85,1.85 0 1,0 -3.7,0a1.85,1.85 0 1,0 3.7,0M122.85,582.40a1.85,1.85 0 1,0 -3.7,0a1.85,1.85 0 1,0 3.7,0M137.45,587.10a1.85,1.85 0 1,0 -3.7,0a1.85,1.85 0 1,0 3.7,0M104.35,594.90a1.85,1.85 0 1,0 -3.7,0a1.85,1.85 0 1,0 3.7,0M64.65,599.60a1.85,1.85 0 1,0 -3.7,0a1.85,1.85 0 1,0 3.7,0M66.85,603.90a1.85,1.85 0 1,0 -3.7,0a1.85,1.85 0 1,0 3.7,0M63.75,602.20a1.85,1.85 0 1,0 -3.7,0a1.85,1.85 0 1,0 3.7,0M59.35,604.00a1.85,1.85 0 1,0 -3.7,0a1.85,1.85 0 1,0 3.7,0M69.85,605.30a1.85,1.85 0 1,0 -3.7,0a1.85,1.85 0 1,0 3.7,0M74.75,605.70a1.85,1.85 0 1,0 -3.7,0a1.85,1.85 0 1,0 3.7,0M81.75,599.60a1.85,1.85 0 1,0 -3.7,0a1.85,1.85 0 1,0 3.7,0M82.05,600.00a1.85,1.85 0 1,0 -3.7,0a1.85,1.85 0 1,0 3.7,0M81.45,599.20a1.85,1.85 0 1,0 -3.7,0a1.85,1.85 0 1,0 3.7,0M82.15,607.90a1.85,1.85 0 1,0 -3.7,0a1.85,1.85 0 1,0 3.7,0M88.25,607.00a1.85,1.85 0 1,0 -3.7,0a1.85,1.85 0 1,0 3.7,0M94.45,605.70a1.85,1.85 0 1,0 -3.7,0a1.85,1.85 0 1,0 3.7,0M90.95,614.50a1.85,1.85 0 1,0 -3.7,0a1.85,1.85 0 1,0 3.7,0M76.05,613.10a1.85,1.85 0 1,0 -3.7,0a1.85,1.85 0 1,0 3.7,0M76.35,612.80a1.85,1.85 0 1,0 -3.7,0a1.85,1.85 0 1,0 3.7,0M77.35,611.80a1.85,1.85 0 1,0 -3.7,0a1.85,1.85 0 1,0 3.7,0M40.95,611.80a1.85,1.85 0 1,0 -3.7,0a1.85,1.85 0 1,0 3.7,0M38.75,619.70a1.85,1.85 0 1,0 -3.7,0a1.85,1.85 0 1,0 3.7,0M41.45,620.60a1.85,1.85 0 1,0 -3.7,0a1.85,1.85 0 1,0 3.7,0M81.25,618.00a1.85,1.85 0 1,0 -3.7,0a1.85,1.85 0 1,0 3.7,0M83.85,623.20a1.85,1.85 0 1,0 -3.7,0a1.85,1.85 0 1,0 3.7,0M88.25,630.70a1.85,1.85 0 1,0 -3.7,0a1.85,1.85 0 1,0 3.7,0M93.95,626.70a1.85,1.85 0 1,0 -3.7,0a1.85,1.85 0 1,0 3.7,0M58.45,625.80a1.85,1.85 0 1,0 -3.7,0a1.85,1.85 0 1,0 3.7,0M60.65,628.00a1.85,1.85 0 1,0 -3.7,0a1.85,1.85 0 1,0 3.7,0M63.75,631.50a1.85,1.85 0 1,0 -3.7,0a1.85,1.85 0 1,0 3.7,0M73.35,633.70a1.85,1.85 0 1,0 -3.7,0a1.85,1.85 0 1,0 3.7,0M67.25,593.90a1.85,1.85 0 1,0 -3.7,0a1.85,1.85 0 1,0 3.7,0M70.75,593.40a1.85,1.85 0 1,0 -3.7,0a1.85,1.85 0 1,0 3.7,0M43.85,593.50a1.85,1.85 0 1,0 -3.7,0a1.85,1.85 0 1,0 3.7,0M46.35,594.00a1.85,1.85 0 1,0 -3.7,0a1.85,1.85 0 1,0 3.7,0M48.85,593.20a1.85,1.85 0 1,0 -3.7,0a1.85,1.85 0 1,0 3.7,0M104.45,595.80a1.85,1.85 0 1,0 -3.7,0a1.85,1.85 0 1,0 3.7,0M95.25,605.90a1.85,1.85 0 1,0 -3.7,0a1.85,1.85 0 1,0 3.7,0M109.65,603.90a1.85,1.85 0 1,0 -3.7,0a1.85,1.85 0 1,0 3.7,0M108.35,608.10a1.85,1.85 0 1,0 -3.7,0a1.85,1.85 0 1,0 3.7,0M114.85,605.00a1.85,1.85 0 1,0 -3.7,0a1.85,1.85 0 1,0 3.7,0M124.35,604.60a1.85,1.85 0 1,0 -3.7,0a1.85,1.85 0 1,0 3.7,0M140.35,604.40a1.85,1.85 0 1,0 -3.7,0a1.85,1.85 0 1,0 3.7,0M142.65,608.10a1.85,1.85 0 1,0 -3.7,0a1.85,1.85 0 1,0 3.7,0M92.25,614.80a1.85,1.85 0 1,0 -3.7,0a1.85,1.85 0 1,0 3.7,0M103.45,616.90a1.85,1.85 0 1,0 -3.7,0a1.85,1.85 0 1,0 3.7,0M121.05,614.40a1.85,1.85 0 1,0 -3.7,0a1.85,1.85 0 1,0 3.7,0M121.25,614.20a1.85,1.85 0 1,0 -3.7,0a1.85,1.85 0 1,0 3.7,0M96.35,625.10a1.85,1.85 0 1,0 -3.7,0a1.85,1.85 0 1,0 3.7,0M97.15,626.00a1.85,1.85 0 1,0 -3.7,0a1.85,1.85 0 1,0 3.7,0M94.55,627.30a1.85,1.85 0 1,0 -3.7,0a1.85,1.85 0 1,0 3.7,0M134.15,620.80a1.85,1.85 0 1,0 -3.7,0a1.85,1.85 0 1,0 3.7,0M139.95,623.50a1.85,1.85 0 1,0 -3.7,0a1.85,1.85 0 1,0 3.7,0M144.35,625.80a1.85,1.85 0 1,0 -3.7,0a1.85,1.85 0 1,0 3.7,0M122.55,630.20a1.85,1.85 0 1,0 -3.7,0a1.85,1.85 0 1,0 3.7,0M114.15,634.00a1.85,1.85 0 1,0 -3.7,0a1.85,1.85 0 1,0 3.7,0M53.18,601.05a1.85,1.85 0 1,0 -3.7,0a1.85,1.85 0 1,0 3.7,0M53.84,600.61a1.85,1.85 0 1,0 -3.7,0a1.85,1.85 0 1,0 3.7,0M53.16,600.09a1.85,1.85 0 1,0 -3.7,0a1.85,1.85 0 1,0 3.7,0M49.66,599.98a1.85,1.85 0 1,0 -3.7,0a1.85,1.85 0 1,0 3.7,0M54.50,601.32a1.85,1.85 0 1,0 -3.7,0a1.85,1.85 0 1,0 3.7,0M54.61,597.65a1.85,1.85 0 1,0 -3.7,0a1.85,1.85 0 1,0 3.7,0M53.86,596.82a1.85,1.85 0 1,0 -3.7,0a1.85,1.85 0 1,0 3.7,0M56.54,599.86a1.85,1.85 0 1,0 -3.7,0a1.85,1.85 0 1,0 3.7,0M48.98,600.50a1.85,1.85 0 1,0 -3.7,0a1.85,1.85 0 1,0 3.7,0M51.68,596.26a1.85,1.85 0 1,0 -3.7,0a1.85,1.85 0 1,0 3.7,0M55.55,601.26a1.85,1.85 0 1,0 -3.7,0a1.85,1.85 0 1,0 3.7,0M56.89,602.94a1.85,1.85 0 1,0 -3.7,0a1.85,1.85 0 1,0 3.7,0M44.34,612.82a1.85,1.85 0 1,0 -3.7,0a1.85,1.85 0 1,0 3.7,0M51.48,612.75a1.85,1.85 0 1,0 -3.7,0a1.85,1.85 0 1,0 3.7,0M57.47,606.99a1.85,1.85 0 1,0 -3.7,0a1.85,1.85 0 1,0 3.7,0M55.60,612.06a1.85,1.85 0 1,0 -3.7,0a1.85,1.85 0 1,0 3.7,0M48.82,607.41a1.85,1.85 0 1,0 -3.7,0a1.85,1.85 0 1,0 3.7,0M50.70,612.71a1.85,1.85 0 1,0 -3.7,0a1.85,1.85 0 1,0 3.7,0M49.75,613.09a1.85,1.85 0 1,0 -3.7,0a1.85,1.85 0 1,0 3.7,0M54.34,613.32a1.85,1.85 0 1,0 -3.7,0a1.85,1.85 0 1,0 3.7,0M43.67,612.20a1.85,1.85 0 1,0 -3.7,0a1.85,1.85 0 1,0 3.7,0M54.88,613.26a1.85,1.85 0 1,0 -3.7,0a1.85,1.85 0 1,0 3.7,0M46.28,612.00a1.85,1.85 0 1,0 -3.7,0a1.85,1.85 0 1,0 3.7,0M50.00,613.32a1.85,1.85 0 1,0 -3.7,0a1.85,1.85 0 1,0 3.7,0M57.16,607.12a1.85,1.85 0 1,0 -3.7,0a1.85,1.85 0 1,0 3.7,0M50.78,609.32a1.85,1.85 0 1,0 -3.7,0a1.85,1.85 0 1,0 3.7,0M49.68,627.98a1.85,1.85 0 1,0 -3.7,0a1.85,1.85 0 1,0 3.7,0M57.41,622.45a1.85,1.85 0 1,0 -3.7,0a1.85,1.85 0 1,0 3.7,0M56.68,618.80a1.85,1.85 0 1,0 -3.7,0a1.85,1.85 0 1,0 3.7,0M48.65,617.36a1.85,1.85 0 1,0 -3.7,0a1.85,1.85 0 1,0 3.7,0M51.43,633.12a1.85,1.85 0 1,0 -3.7,0a1.85,1.85 0 1,0 3.7,0M50.73,617.11a1.85,1.85 0 1,0 -3.7,0a1.85,1.85 0 1,0 3.7,0M44.67,626.57a1.85,1.85 0 1,0 -3.7,0a1.85,1.85 0 1,0 3.7,0M57.59,627.01a1.85,1.85 0 1,0 -3.7,0a1.85,1.85 0 1,0 3.7,0M47.54,634.71a1.85,1.85 0 1,0 -3.7,0a1.85,1.85 0 1,0 3.7,0M45.66,624.91a1.85,1.85 0 1,0 -3.7,0a1.85,1.85 0 1,0 3.7,0M51.59,622.14a1.85,1.85 0 1,0 -3.7,0a1.85,1.85 0 1,0 3.7,0M44.87,627.64a1.85,1.85 0 1,0 -3.7,0a1.85,1.85 0 1,0 3.7,0M51.27,624.91a1.85,1.85 0 1,0 -3.7,0a1.85,1.85 0 1,0 3.7,0M49.24,619.98a1.85,1.85 0 1,0 -3.7,0a1.85,1.85 0 1,0 3.7,0M47.80,620.32a1.85,1.85 0 1,0 -3.7,0a1.85,1.85 0 1,0 3.7,0M47.60,633.62a1.85,1.85 0 1,0 -3.7,0a1.85,1.85 0 1,0 3.7,0M50.74,620.81a1.85,1.85 0 1,0 -3.7,0a1.85,1.85 0 1,0 3.7,0M55.31,631.00a1.85,1.85 0 1,0 -3.7,0a1.85,1.85 0 1,0 3.7,0M46.23,629.47a1.85,1.85 0 1,0 -3.7,0a1.85,1.85 0 1,0 3.7,0M52.62,623.53a1.85,1.85 0 1,0 -3.7,0a1.85,1.85 0 1,0 3.7,0M51.08,622.34a1.85,1.85 0 1,0 -3.7,0a1.85,1.85 0 1,0 3.7,0M57.21,625.60a1.85,1.85 0 1,0 -3.7,0a1.85,1.85 0 1,0 3.7,0M53.80,632.19a1.85,1.85 0 1,0 -3.7,0a1.85,1.85 0 1,0 3.7,0M54.08,633.65a1.85,1.85 0 1,0 -3.7,0a1.85,1.85 0 1,0 3.7,0M46.12,622.81a1.85,1.85 0 1,0 -3.7,0a1.85,1.85 0 1,0 3.7,0M44.41,622.01a1.85,1.85 0 1,0 -3.7,0a1.85,1.85 0 1,0 3.7,0M46.46,632.47a1.85,1.85 0 1,0 -3.7,0a1.85,1.85 0 1,0 3.7,0M57.76,626.02a1.85,1.85 0 1,0 -3.7,0a1.85,1.85 0 1,0 3.7,0M46.49,623.45a1.85,1.85 0 1,0 -3.7,0a1.85,1.85 0 1,0 3.7,0M50.98,628.12a1.85,1.85 0 1,0 -3.7,0a1.85,1.85 0 1,0 3.7,0M53.50,632.86a1.85,1.85 0 1,0 -3.7,0a1.85,1.85 0 1,0 3.7,0M52.14,628.66a1.85,1.85 0 1,0 -3.7,0a1.85,1.85 0 1,0 3.7,0M55.56,633.94a1.85,1.85 0 1,0 -3.7,0a1.85,1.85 0 1,0 3.7,0M53.30,626.16a1.85,1.85 0 1,0 -3.7,0a1.85,1.85 0 1,0 3.7,0M48.54,626.01a1.85,1.85 0 1,0 -3.7,0a1.85,1.85 0 1,0 3.7,0M49.21,629.47a1.85,1.85 0 1,0 -3.7,0a1.85,1.85 0 1,0 3.7,0M53.30,627.22a1.85,1.85 0 1,0 -3.7,0a1.85,1.85 0 1,0 3.7,0M52.92,624.21a1.85,1.85 0 1,0 -3.7,0a1.85,1.85 0 1,0 3.7,0M55.60,628.12a1.85,1.85 0 1,0 -3.7,0a1.85,1.85 0 1,0 3.7,0M46.56,625.45a1.85,1.85 0 1,0 -3.7,0a1.85,1.85 0 1,0 3.7,0M55.68,623.75a1.85,1.85 0 1,0 -3.7,0a1.85,1.85 0 1,0 3.7,0M51.28,630.43a1.85,1.85 0 1,0 -3.7,0a1.85,1.85 0 1,0 3.7,0M53.80,628.72a1.85,1.85 0 1,0 -3.7,0a1.85,1.85 0 1,0 3.7,0M52.28,622.79a1.85,1.85 0 1,0 -3.7,0a1.85,1.85 0 1,0 3.7,0M46.50,627.46a1.85,1.85 0 1,0 -3.7,0a1.85,1.85 0 1,0 3.7,0M48.01,632.90a1.85,1.85 0 1,0 -3.7,0a1.85,1.85 0 1,0 3.7,0M49.49,628.17a1.85,1.85 0 1,0 -3.7,0a1.85,1.85 0 1,0 3.7,0M47.27,625.61a1.85,1.85 0 1,0 -3.7,0a1.85,1.85 0 1,0 3.7,0M52.61,635.00a1.85,1.85 0 1,0 -3.7,0a1.85,1.85 0 1,0 3.7,0M48.81,629.77a1.85,1.85 0 1,0 -3.7,0a1.85,1.85 0 1,0 3.7,0M63.89,622.00a1.85,1.85 0 1,0 -3.7,0a1.85,1.85 0 1,0 3.7,0M64.08,610.83a1.85,1.85 0 1,0 -3.7,0a1.85,1.85 0 1,0 3.7,0M62.64,611.77a1.85,1.85 0 1,0 -3.7,0a1.85,1.85 0 1,0 3.7,0M67.05,613.74a1.85,1.85 0 1,0 -3.7,0a1.85,1.85 0 1,0 3.7,0M65.63,611.22a1.85,1.85 0 1,0 -3.7,0a1.85,1.85 0 1,0 3.7,0M65.73,613.95a1.85,1.85 0 1,0 -3.7,0a1.85,1.85 0 1,0 3.7,0M71.23,619.93a1.85,1.85 0 1,0 -3.7,0a1.85,1.85 0 1,0 3.7,0M62.06,618.25a1.85,1.85 0 1,0 -3.7,0a1.85,1.85 0 1,0 3.7,0M65.03,616.25a1.85,1.85 0 1,0 -3.7,0a1.85,1.85 0 1,0 3.7,0M65.94,612.07a1.85,1.85 0 1,0 -3.7,0a1.85,1.85 0 1,0 3.7,0M63.86,622.21a1.85,1.85 0 1,0 -3.7,0a1.85,1.85 0 1,0 3.7,0M64.92,621.05a1.85,1.85 0 1,0 -3.7,0a1.85,1.85 0 1,0 3.7,0M65.48,611.54a1.85,1.85 0 1,0 -3.7,0a1.85,1.85 0 1,0 3.7,0M69.18,613.12a1.85,1.85 0 1,0 -3.7,0a1.85,1.85 0 1,0 3.7,0M78.60,624.76a1.85,1.85 0 1,0 -3.7,0a1.85,1.85 0 1,0 3.7,0M69.07,631.60a1.85,1.85 0 1,0 -3.7,0a1.85,1.85 0 1,0 3.7,0M82.95,625.93a1.85,1.85 0 1,0 -3.7,0a1.85,1.85 0 1,0 3.7,0M73.55,621.15a1.85,1.85 0 1,0 -3.7,0a1.85,1.85 0 1,0 3.7,0M67.78,627.18a1.85,1.85 0 1,0 -3.7,0a1.85,1.85 0 1,0 3.7,0M81.38,630.96a1.85,1.85 0 1,0 -3.7,0a1.85,1.85 0 1,0 3.7,0M76.89,629.32a1.85,1.85 0 1,0 -3.7,0a1.85,1.85 0 1,0 3.7,0M70.85,626.05a1.85,1.85 0 1,0 -3.7,0a1.85,1.85 0 1,0 3.7,0M78.35,625.89a1.85,1.85 0 1,0 -3.7,0a1.85,1.85 0 1,0 3.7,0M78.69,627.40a1.85,1.85 0 1,0 -3.7,0a1.85,1.85 0 1,0 3.7,0M66.73,625.71a1.85,1.85 0 1,0 -3.7,0a1.85,1.85 0 1,0 3.7,0M69.67,630.67a1.85,1.85 0 1,0 -3.7,0a1.85,1.85 0 1,0 3.7,0M71.89,632.44a1.85,1.85 0 1,0 -3.7,0a1.85,1.85 0 1,0 3.7,0M77.85,629.95a1.85,1.85 0 1,0 -3.7,0a1.85,1.85 0 1,0 3.7,0M77.57,632.49a1.85,1.85 0 1,0 -3.7,0a1.85,1.85 0 1,0 3.7,0M67.94,628.13a1.85,1.85 0 1,0 -3.7,0a1.85,1.85 0 1,0 3.7,0M77.89,624.14a1.85,1.85 0 1,0 -3.7,0a1.85,1.85 0 1,0 3.7,0M75.73,633.25a1.85,1.85 0 1,0 -3.7,0a1.85,1.85 0 1,0 3.7,0M75.65,621.53a1.85,1.85 0 1,0 -3.7,0a1.85,1.85 0 1,0 3.7,0M82.91,626.01a1.85,1.85 0 1,0 -3.7,0a1.85,1.85 0 1,0 3.7,0M76.87,622.73a1.85,1.85 0 1,0 -3.7,0a1.85,1.85 0 1,0 3.7,0M81.06,627.04a1.85,1.85 0 1,0 -3.7,0a1.85,1.85 0 1,0 3.7,0M73.94,633.73a1.85,1.85 0 1,0 -3.7,0a1.85,1.85 0 1,0 3.7,0M80.14,631.84a1.85,1.85 0 1,0 -3.7,0a1.85,1.85 0 1,0 3.7,0" fill="none" stroke="#000" stroke-width="0.8"/>
<line x1="37.50" y1="635.06" x2="58.00" y2="631.98" stroke="#660000" stroke-width="2.0" stroke-linecap="round"/>
<circle cx="36.60" cy="635.20" r="1.85" fill="none" stroke="#f00" stroke-width="0.8"/>
<circle cx="146.50" cy="618.65" r="1.85" fill="none" stroke="#f00" stroke-width="0.8"/>
<rect x="32.90" y="548.70" width="117.60" height="89.80" fill="none" stroke="#222" stroke-width="0.9"/>
<line x1="36.60" y1="638.50" x2="36.60" y2="643.30" stroke="#222" stroke-width="0.9"/>
<text x="0" y="0" transform="translate(36.60,655.65) scale(1,1.1)" font-size="9.3" text-anchor="middle" font-weight="normal">0</text>
<line x1="58.58" y1="638.50" x2="58.58" y2="643.30" stroke="#222" stroke-width="0.9"/>
<text x="0" y="0" transform="translate(58.58,655.65) scale(1,1.1)" font-size="9.3" text-anchor="middle" font-weight="normal">200</text>
<line x1="80.56" y1="638.50" x2="80.56" y2="643.30" stroke="#222" stroke-width="0.9"/>
<line x1="102.54" y1="638.50" x2="102.54" y2="643.30" stroke="#222" stroke-width="0.9"/>
<text x="0" y="0" transform="translate(102.54,655.65) scale(1,1.1)" font-size="9.3" text-anchor="middle" font-weight="normal">600</text>
<line x1="124.52" y1="638.50" x2="124.52" y2="643.30" stroke="#222" stroke-width="0.9"/>
<line x1="146.50" y1="638.50" x2="146.50" y2="643.30" stroke="#222" stroke-width="0.9"/>
<text x="0" y="0" transform="translate(146.50,655.65) scale(1,1.1)" font-size="9.3" text-anchor="middle" font-weight="normal">1000</text>
<line x1="28.10" y1="635.20" x2="32.90" y2="635.20" stroke="#222" stroke-width="0.9"/>
<text x="0" y="0" transform="translate(21.60,635.20) rotate(-90) scale(1,1.1)" font-size="9.3" text-anchor="middle" font-weight="normal">0</text>
<line x1="28.10" y1="618.65" x2="32.90" y2="618.65" stroke="#222" stroke-width="0.9"/>
<line x1="28.10" y1="602.10" x2="32.90" y2="602.10" stroke="#222" stroke-width="0.9"/>
<text x="0" y="0" transform="translate(21.60,602.10) rotate(-90) scale(1,1.1)" font-size="9.3" text-anchor="middle" font-weight="normal">2000</text>
<line x1="28.10" y1="585.55" x2="32.90" y2="585.55" stroke="#222" stroke-width="0.9"/>
<line x1="28.10" y1="569.00" x2="32.90" y2="569.00" stroke="#222" stroke-width="0.9"/>
<text x="0" y="0" transform="translate(21.60,569.00) rotate(-90) scale(1,1.1)" font-size="9.3" text-anchor="middle" font-weight="normal">4000</text>
<line x1="28.10" y1="552.45" x2="32.90" y2="552.45" stroke="#222" stroke-width="0.9"/>
<text x="0" y="0" transform="translate(91.70,669.45) scale(1,1.2)" font-size="8.5" text-anchor="middle" font-weight="normal">Human TSS</text>
<text x="0" y="0" transform="translate(9.00,593.60) rotate(-90) scale(1,1.2)" font-size="8.5" text-anchor="middle" font-weight="normal">Zebrafish TSS</text>
<text x="0" y="0" transform="translate(268.05,532.90) scale(1,1.05)" font-size="9.5" text-anchor="middle" font-weight="bold">Zebrafish</text>
<line x1="223.19" y1="635.20" x2="223.19" y2="552.45" stroke="#666" stroke-width="0.9" stroke-dasharray="1,3"/>
<polyline points="212.30,635.20 217.75,564.28 223.19,552.45 228.63,552.45 234.08,552.45 239.53,552.45 244.97,552.45 250.41,552.45 255.86,552.45 261.31,552.45 266.75,552.45 272.19,552.45 277.64,552.45 283.08,552.45 288.53,552.45 293.98,552.45 299.42,552.45 304.87,552.45 310.31,552.45 315.75,552.45 321.20,552.45" fill="none" stroke="#000" stroke-width="0.9" stroke-dasharray="1,3,4,3"/>
<circle cx="212.30" cy="635.20" r="2.1" fill="#000"/>
<circle cx="217.75" cy="564.28" r="2.1" fill="#000"/>
<circle cx="223.19" cy="552.45" r="2.1" fill="#000"/>
<circle cx="228.63" cy="552.45" r="2.1" fill="#000"/>
<circle cx="234.08" cy="552.45" r="2.1" fill="#000"/>
<circle cx="239.53" cy="552.45" r="2.1" fill="#000"/>
<circle cx="244.97" cy="552.45" r="2.1" fill="#000"/>
<circle cx="250.41" cy="552.45" r="2.1" fill="#000"/>
<circle cx="255.86" cy="552.45" r="2.1" fill="#000"/>
<circle cx="261.31" cy="552.45" r="2.1" fill="#000"/>
<circle cx="266.75" cy="552.45" r="2.1" fill="#000"/>
<circle cx="272.19" cy="552.45" r="2.1" fill="#000"/>
<circle cx="277.64" cy="552.45" r="2.1" fill="#000"/>
<circle cx="283.08" cy="552.45" r="2.1" fill="#000"/>
<circle cx="288.53" cy="552.45" r="2.1" fill="#000"/>
<circle cx="293.98" cy="552.45" r="2.1" fill="#000"/>
<circle cx="299.42" cy="552.45" r="2.1" fill="#000"/>
<circle cx="304.87" cy="552.45" r="2.1" fill="#000"/>
<circle cx="310.31" cy="552.45" r="2.1" fill="#000"/>
<circle cx="315.75" cy="552.45" r="2.1" fill="#000"/>
<circle cx="321.20" cy="552.45" r="2.1" fill="#000"/>
<polyline points="212.30,634.95 217.75,626.59 223.19,618.90 228.63,614.93 234.08,611.04 239.53,606.90 244.97,603.34 250.41,599.12 255.86,597.30 261.31,595.23 266.75,593.00 272.19,591.59 277.64,590.18 283.08,588.36 288.53,587.12 293.98,585.30 299.42,583.48 304.87,582.57 310.31,582.07 315.75,581.16 321.20,580.34" fill="none" stroke="#33cc33" stroke-width="0.9"/>
<path d="M209.90,634.95h4.8M212.30,632.55v4.8M215.34,626.59h4.8M217.75,624.19v4.8M220.79,618.90h4.8M223.19,616.50v4.8M226.23,614.93h4.8M228.63,612.53v4.8M231.68,611.04h4.8M234.08,608.64v4.8M237.12,606.90h4.8M239.53,604.50v4.8M242.57,603.34h4.8M244.97,600.94v4.8M248.01,599.12h4.8M250.41,596.72v4.8M253.46,597.30h4.8M255.86,594.90v4.8M258.91,595.23h4.8M261.31,592.83v4.8M264.35,593.00h4.8M266.75,590.60v4.8M269.80,591.59h4.8M272.19,589.19v4.8M275.24,590.18h4.8M277.64,587.78v4.8M280.69,588.36h4.8M283.08,585.96v4.8M286.13,587.12h4.8M288.53,584.72v4.8M291.58,585.30h4.8M293.98,582.90v4.8M297.02,583.48h4.8M299.42,581.08v4.8M302.47,582.57h4.8M304.87,580.17v4.8M307.91,582.07h4.8M310.31,579.67v4.8M313.36,581.16h4.8M315.75,578.76v4.8M318.80,580.34h4.8M321.20,577.94v4.8" stroke="#33cc33" stroke-width="0.9"/>
<rect x="207.70" y="548.70" width="117.70" height="89.80" fill="none" stroke="#222" stroke-width="0.9"/>
<line x1="212.30" y1="638.50" x2="212.30" y2="643.30" stroke="#222" stroke-width="0.9"/>
<text x="0" y="0" transform="translate(212.30,655.65) scale(1,1.1)" font-size="9.3" text-anchor="middle" font-weight="normal">0</text>
<line x1="234.08" y1="638.50" x2="234.08" y2="643.30" stroke="#222" stroke-width="0.9"/>
<text x="0" y="0" transform="translate(234.08,655.65) scale(1,1.1)" font-size="9.3" text-anchor="middle" font-weight="normal">2000</text>
<line x1="255.86" y1="638.50" x2="255.86" y2="643.30" stroke="#222" stroke-width="0.9"/>
<line x1="277.64" y1="638.50" x2="277.64" y2="643.30" stroke="#222" stroke-width="0.9"/>
<text x="0" y="0" transform="translate(277.64,655.65) scale(1,1.1)" font-size="9.3" text-anchor="middle" font-weight="normal">6000</text>
<line x1="299.42" y1="638.50" x2="299.42" y2="643.30" stroke="#222" stroke-width="0.9"/>
<line x1="321.20" y1="638.50" x2="321.20" y2="643.30" stroke="#222" stroke-width="0.9"/>
<text x="0" y="0" transform="translate(321.20,655.65) scale(1,1.1)" font-size="9.3" text-anchor="middle" font-weight="normal">10000</text>
<line x1="202.90" y1="635.20" x2="207.70" y2="635.20" stroke="#222" stroke-width="0.9"/>
<text x="0" y="0" transform="translate(196.40,635.20) rotate(-90) scale(1,1.1)" font-size="9.3" text-anchor="middle" font-weight="normal">0</text>
<line x1="202.90" y1="618.65" x2="207.70" y2="618.65" stroke="#222" stroke-width="0.9"/>
<text x="0" y="0" transform="translate(196.40,618.65) rotate(-90) scale(1,1.1)" font-size="9.3" text-anchor="middle" font-weight="normal">20</text>
<line x1="202.90" y1="602.10" x2="207.70" y2="602.10" stroke="#222" stroke-width="0.9"/>
<line x1="202.90" y1="585.55" x2="207.70" y2="585.55" stroke="#222" stroke-width="0.9"/>
<text x="0" y="0" transform="translate(196.40,585.55) rotate(-90) scale(1,1.1)" font-size="9.3" text-anchor="middle" font-weight="normal">60</text>
<line x1="202.90" y1="569.00" x2="207.70" y2="569.00" stroke="#222" stroke-width="0.9"/>
<line x1="202.90" y1="552.45" x2="207.70" y2="552.45" stroke="#222" stroke-width="0.9"/>
<text x="0" y="0" transform="translate(196.40,552.45) rotate(-90) scale(1,1.1)" font-size="9.3" text-anchor="middle" font-weight="normal">100</text>
<text x="0" y="0" transform="translate(266.55,669.45) scale(1,1.2)" font-size="8.5" text-anchor="middle" font-weight="normal">TSS</text>
<text x="0" y="0" transform="translate(183.80,593.60) rotate(-90) scale(1,1.2)" font-size="8.5" text-anchor="middle" font-weight="normal">Cumulative percentage(%)</text>
<line x1="385.5" y1="562.4" x2="407" y2="562.4" stroke="#000" stroke-width="0.9"/>
<rect x="394.2" y="560.0" width="4.6" height="4.8" fill="#000"/>
<line x1="385.5" y1="576.3" x2="407" y2="576.3" stroke="#33cc33" stroke-width="0.9"/>
<path d="M396.4,573.7 L398.9,576.3 L396.4,578.9 L393.9,576.3 Z" fill="#33cc33"/>
<text x="0" y="0" transform="translate(417.50,566.60) scale(1,1.06)" font-size="11.5" text-anchor="start" font-weight="normal">Human</text>
<text x="0" y="0" transform="translate(417.50,580.60) scale(1,1.06)" font-size="11.5" text-anchor="start" font-weight="normal">Other species</text>
</svg></body></html>
